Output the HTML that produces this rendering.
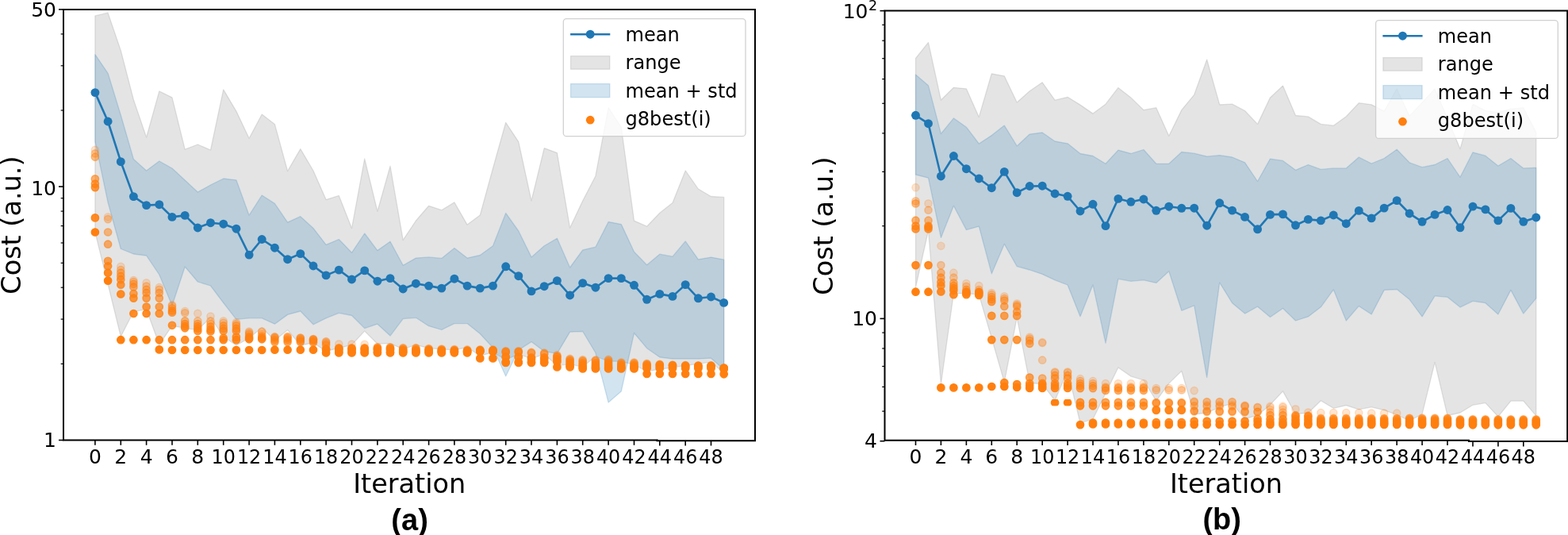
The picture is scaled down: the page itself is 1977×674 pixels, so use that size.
<!DOCTYPE html><html><head><meta charset="utf-8"><style>html,body{margin:0;padding:0;background:#fff;}svg{display:block;}.tk{font-family:"DejaVu Sans",sans-serif;font-size:25px;fill:#000;}.lg{font-family:"DejaVu Sans",sans-serif;font-size:24.1px;fill:#000;}.tks{font-family:"DejaVu Sans",sans-serif;font-size:17.5px;fill:#000;}.lab{font-family:"DejaVu Sans",sans-serif;font-size:33.5px;fill:#000;}.cap{font-family:"Liberation Sans",Arial,sans-serif;font-weight:bold;font-size:38px;fill:#000;}</style></head><body>
<svg width="1977" height="674" viewBox="0 0 1977 674">
<rect width="1977" height="674" fill="#fff"/>
<clipPath id="ca"><rect x="80" y="11.9" width="872" height="542.6"/></clipPath>
<g clip-path="url(#ca)">
<polygon points="119.9,19.9 136.1,16.2 152.3,63.6 168.4,125.6 184.6,173 200.8,114.9 217,122.8 233.2,188.2 249.3,182 265.5,189 281.7,112.8 297.9,140.1 314.1,174.2 330.2,144 346.4,156.4 362.6,215.5 378.8,187.6 395,215 411.1,251.6 427.3,246.4 443.5,287.5 459.7,200 475.9,266.2 492,209.2 508.2,302.3 524.4,278 540.6,259.3 556.8,264.7 572.9,254.9 589.1,283.1 605.3,271 621.5,212 637.7,154.3 653.8,178.6 670,252.8 686.2,186.6 702.4,192.6 718.6,287 734.7,253 750.9,221.7 767.1,135.6 783.3,160 799.5,278.1 815.6,285.2 831.8,268.3 848,255.5 864.2,214.9 880.4,238 896.5,247.5 912.7,248.4 912.7,470 896.5,456.1 880.4,458.4 864.2,460.5 848,463.1 831.8,465.2 815.6,467.8 799.5,459.5 783.3,455.3 767.1,455 750.9,449 734.7,462.3 718.6,458.8 702.4,460.6 686.2,446.3 670,451.6 653.8,446.3 637.7,453 621.5,444 605.3,448.2 589.1,437.5 572.9,441 556.8,439.9 540.6,438.7 524.4,434.5 508.2,439.9 492,432.7 475.9,433.3 459.7,417.1 443.5,434.5 427.3,438.5 411.1,442.4 395,432 378.8,435 362.6,415.7 346.4,429 330.2,412.7 314.1,426 297.9,435 281.7,424 265.5,400 249.3,415.8 233.2,413.4 217,410.4 200.8,434.2 184.6,389.7 168.4,392.6 152.3,424 136.1,358 119.9,292.5" fill="#808080" fill-opacity="0.215" stroke="#808080" stroke-opacity="0.215" stroke-width="1.3" stroke-linejoin="round"/>
<polygon points="119.9,68.6 136.1,92.3 152.3,145 168.4,200.5 184.6,215 200.8,203 217,212 233.2,227 249.3,242 265.5,233 281.7,225 297.9,226.8 314.1,271.2 330.2,246 346.4,256.4 362.6,280.1 378.8,272.7 395,287.5 411.1,308.3 427.3,301.5 443.5,318.3 459.7,294 475.9,315.6 492,304.3 508.2,334.3 524.4,325.1 540.6,323.9 556.8,325.4 572.9,312.6 589.1,325.1 605.3,321.5 621.5,309.7 637.7,268.5 653.8,291 670,323.9 686.2,309.7 702.4,300.2 718.6,337 734.7,315 750.9,311.2 767.1,279.5 783.3,282.6 799.5,317.2 815.6,333.8 831.8,320.2 848,323.2 864.2,303.9 880.4,326.8 896.5,324.1 912.7,327.1 912.7,465.4 896.5,451.2 880.4,452 864.2,452 848,452 831.8,450 815.6,438.7 799.5,419.5 783.3,493 767.1,507 750.9,444.5 734.7,417.5 718.6,418.2 702.4,445.4 686.2,442.7 670,430.6 653.8,441 637.7,474 621.5,438 605.3,420.5 589.1,407.6 572.9,407.6 556.8,415.5 540.6,410.7 524.4,400.3 508.2,401.6 492,423.1 475.9,408.2 459.7,413.6 443.5,397.5 427.3,394.3 411.1,400.8 395,408.8 378.8,392 362.6,396.4 346.4,408.2 330.2,400.8 314.1,400.8 297.9,402.3 281.7,381.5 265.5,360 249.3,355 233.2,336 217,385 200.8,346 184.6,322 168.4,320 152.3,313.5 136.1,255 119.9,178" fill="#1f77b4" fill-opacity="0.2" stroke="#1f77b4" stroke-opacity="0.2" stroke-width="1.3" stroke-linejoin="round"/>
<polyline points="119.9,116.6 136.1,153 152.3,203.7 168.4,247.6 184.6,258.6 200.8,257.7 217,273.4 233.2,271.4 249.3,287 265.5,280.7 281.7,282.2 297.9,288.2 314.1,321.1 330.2,301.5 346.4,312.2 362.6,326.7 378.8,319.6 395,335 411.1,346.9 427.3,340.1 443.5,352 459.7,340.9 475.9,354.2 492,350.6 508.2,364 524.4,357.2 540.6,360.1 556.8,363.1 572.9,351.2 589.1,360.1 605.3,363.1 621.5,360.1 637.7,335.8 653.8,347.7 670,366.9 686.2,360.7 702.4,353.6 718.6,372 734.7,356.6 750.9,362.2 767.1,350.6 783.3,350.6 799.5,359.3 815.6,377.3 831.8,370.4 848,373.4 864.2,358.6 880.4,375.8 896.5,374 912.7,381.4" fill="none" stroke="#1f77b4" stroke-width="2.6" stroke-linejoin="round"/>
<circle cx="119.9" cy="116.6" r="5.45" fill="#1f77b4"/>
<circle cx="136.1" cy="153" r="5.45" fill="#1f77b4"/>
<circle cx="152.3" cy="203.7" r="5.45" fill="#1f77b4"/>
<circle cx="168.4" cy="247.6" r="5.45" fill="#1f77b4"/>
<circle cx="184.6" cy="258.6" r="5.45" fill="#1f77b4"/>
<circle cx="200.8" cy="257.7" r="5.45" fill="#1f77b4"/>
<circle cx="217" cy="273.4" r="5.45" fill="#1f77b4"/>
<circle cx="233.2" cy="271.4" r="5.45" fill="#1f77b4"/>
<circle cx="249.3" cy="287" r="5.45" fill="#1f77b4"/>
<circle cx="265.5" cy="280.7" r="5.45" fill="#1f77b4"/>
<circle cx="281.7" cy="282.2" r="5.45" fill="#1f77b4"/>
<circle cx="297.9" cy="288.2" r="5.45" fill="#1f77b4"/>
<circle cx="314.1" cy="321.1" r="5.45" fill="#1f77b4"/>
<circle cx="330.2" cy="301.5" r="5.45" fill="#1f77b4"/>
<circle cx="346.4" cy="312.2" r="5.45" fill="#1f77b4"/>
<circle cx="362.6" cy="326.7" r="5.45" fill="#1f77b4"/>
<circle cx="378.8" cy="319.6" r="5.45" fill="#1f77b4"/>
<circle cx="395" cy="335" r="5.45" fill="#1f77b4"/>
<circle cx="411.1" cy="346.9" r="5.45" fill="#1f77b4"/>
<circle cx="427.3" cy="340.1" r="5.45" fill="#1f77b4"/>
<circle cx="443.5" cy="352" r="5.45" fill="#1f77b4"/>
<circle cx="459.7" cy="340.9" r="5.45" fill="#1f77b4"/>
<circle cx="475.9" cy="354.2" r="5.45" fill="#1f77b4"/>
<circle cx="492" cy="350.6" r="5.45" fill="#1f77b4"/>
<circle cx="508.2" cy="364" r="5.45" fill="#1f77b4"/>
<circle cx="524.4" cy="357.2" r="5.45" fill="#1f77b4"/>
<circle cx="540.6" cy="360.1" r="5.45" fill="#1f77b4"/>
<circle cx="556.8" cy="363.1" r="5.45" fill="#1f77b4"/>
<circle cx="572.9" cy="351.2" r="5.45" fill="#1f77b4"/>
<circle cx="589.1" cy="360.1" r="5.45" fill="#1f77b4"/>
<circle cx="605.3" cy="363.1" r="5.45" fill="#1f77b4"/>
<circle cx="621.5" cy="360.1" r="5.45" fill="#1f77b4"/>
<circle cx="637.7" cy="335.8" r="5.45" fill="#1f77b4"/>
<circle cx="653.8" cy="347.7" r="5.45" fill="#1f77b4"/>
<circle cx="670" cy="366.9" r="5.45" fill="#1f77b4"/>
<circle cx="686.2" cy="360.7" r="5.45" fill="#1f77b4"/>
<circle cx="702.4" cy="353.6" r="5.45" fill="#1f77b4"/>
<circle cx="718.6" cy="372" r="5.45" fill="#1f77b4"/>
<circle cx="734.7" cy="356.6" r="5.45" fill="#1f77b4"/>
<circle cx="750.9" cy="362.2" r="5.45" fill="#1f77b4"/>
<circle cx="767.1" cy="350.6" r="5.45" fill="#1f77b4"/>
<circle cx="783.3" cy="350.6" r="5.45" fill="#1f77b4"/>
<circle cx="799.5" cy="359.3" r="5.45" fill="#1f77b4"/>
<circle cx="815.6" cy="377.3" r="5.45" fill="#1f77b4"/>
<circle cx="831.8" cy="370.4" r="5.45" fill="#1f77b4"/>
<circle cx="848" cy="373.4" r="5.45" fill="#1f77b4"/>
<circle cx="864.2" cy="358.6" r="5.45" fill="#1f77b4"/>
<circle cx="880.4" cy="375.8" r="5.45" fill="#1f77b4"/>
<circle cx="896.5" cy="374" r="5.45" fill="#1f77b4"/>
<circle cx="912.7" cy="381.4" r="5.45" fill="#1f77b4"/>
<circle cx="119.9" cy="188.9" r="4.6499999999999995" fill="#ff7f0e" fill-opacity="0.2" stroke="#ff7f0e" stroke-opacity="0.2" stroke-width="1.4"/>
<circle cx="119.9" cy="193.4" r="4.6499999999999995" fill="#ff7f0e" fill-opacity="0.35" stroke="#ff7f0e" stroke-opacity="0.35" stroke-width="1.4"/>
<circle cx="119.9" cy="197.8" r="4.6499999999999995" fill="#ff7f0e" fill-opacity="0.5" stroke="#ff7f0e" stroke-opacity="0.5" stroke-width="1.4"/>
<circle cx="119.9" cy="225.4" r="4.6499999999999995" fill="#ff7f0e" fill-opacity="0.6" stroke="#ff7f0e" stroke-opacity="0.6" stroke-width="1.4"/>
<circle cx="119.9" cy="231.6" r="4.6499999999999995" fill="#ff7f0e" fill-opacity="0.7" stroke="#ff7f0e" stroke-opacity="0.7" stroke-width="1.4"/>
<circle cx="119.9" cy="236.1" r="4.6499999999999995" fill="#ff7f0e" fill-opacity="0.8" stroke="#ff7f0e" stroke-opacity="0.8" stroke-width="1.4"/>
<circle cx="119.9" cy="274.4" r="4.6499999999999995" fill="#ff7f0e" fill-opacity="0.9" stroke="#ff7f0e" stroke-opacity="0.9" stroke-width="1.4"/>
<circle cx="119.9" cy="292.5" r="4.6499999999999995" fill="#ff7f0e" fill-opacity="1.0" stroke="#ff7f0e" stroke-opacity="1.0" stroke-width="1.4"/>
<circle cx="136.1" cy="273.3" r="4.6499999999999995" fill="#ff7f0e" fill-opacity="0.2" stroke="#ff7f0e" stroke-opacity="0.2" stroke-width="1.4"/>
<circle cx="136.1" cy="276.1" r="4.6499999999999995" fill="#ff7f0e" fill-opacity="0.35" stroke="#ff7f0e" stroke-opacity="0.35" stroke-width="1.4"/>
<circle cx="136.1" cy="292.5" r="4.6499999999999995" fill="#ff7f0e" fill-opacity="0.5" stroke="#ff7f0e" stroke-opacity="0.5" stroke-width="1.4"/>
<circle cx="136.1" cy="307.7" r="4.6499999999999995" fill="#ff7f0e" fill-opacity="0.6" stroke="#ff7f0e" stroke-opacity="0.6" stroke-width="1.4"/>
<circle cx="136.1" cy="328.8" r="4.6499999999999995" fill="#ff7f0e" fill-opacity="0.7" stroke="#ff7f0e" stroke-opacity="0.7" stroke-width="1.4"/>
<circle cx="136.1" cy="335.3" r="4.6499999999999995" fill="#ff7f0e" fill-opacity="0.8" stroke="#ff7f0e" stroke-opacity="0.8" stroke-width="1.4"/>
<circle cx="136.1" cy="343.7" r="4.6499999999999995" fill="#ff7f0e" fill-opacity="0.9" stroke="#ff7f0e" stroke-opacity="0.9" stroke-width="1.4"/>
<circle cx="136.1" cy="353.6" r="4.6499999999999995" fill="#ff7f0e" fill-opacity="1.0" stroke="#ff7f0e" stroke-opacity="1.0" stroke-width="1.4"/>
<circle cx="152.3" cy="335.8" r="4.6499999999999995" fill="#ff7f0e" fill-opacity="0.2" stroke="#ff7f0e" stroke-opacity="0.2" stroke-width="1.4"/>
<circle cx="152.3" cy="340" r="4.6499999999999995" fill="#ff7f0e" fill-opacity="0.35" stroke="#ff7f0e" stroke-opacity="0.35" stroke-width="1.4"/>
<circle cx="152.3" cy="343.7" r="4.6499999999999995" fill="#ff7f0e" fill-opacity="0.5" stroke="#ff7f0e" stroke-opacity="0.5" stroke-width="1.4"/>
<circle cx="152.3" cy="348" r="4.6499999999999995" fill="#ff7f0e" fill-opacity="0.6" stroke="#ff7f0e" stroke-opacity="0.6" stroke-width="1.4"/>
<circle cx="152.3" cy="352.2" r="4.6499999999999995" fill="#ff7f0e" fill-opacity="0.7" stroke="#ff7f0e" stroke-opacity="0.7" stroke-width="1.4"/>
<circle cx="152.3" cy="358.7" r="4.6499999999999995" fill="#ff7f0e" fill-opacity="0.8" stroke="#ff7f0e" stroke-opacity="0.8" stroke-width="1.4"/>
<circle cx="152.3" cy="370.5" r="4.6499999999999995" fill="#ff7f0e" fill-opacity="0.9" stroke="#ff7f0e" stroke-opacity="0.9" stroke-width="1.4"/>
<circle cx="152.3" cy="428.2" r="4.6499999999999995" fill="#ff7f0e" fill-opacity="1.0" stroke="#ff7f0e" stroke-opacity="1.0" stroke-width="1.4"/>
<circle cx="168.4" cy="353" r="4.6499999999999995" fill="#ff7f0e" fill-opacity="0.2" stroke="#ff7f0e" stroke-opacity="0.2" stroke-width="1.4"/>
<circle cx="168.4" cy="355" r="4.6499999999999995" fill="#ff7f0e" fill-opacity="0.35" stroke="#ff7f0e" stroke-opacity="0.35" stroke-width="1.4"/>
<circle cx="168.4" cy="357.8" r="4.6499999999999995" fill="#ff7f0e" fill-opacity="0.5" stroke="#ff7f0e" stroke-opacity="0.5" stroke-width="1.4"/>
<circle cx="168.4" cy="361.5" r="4.6499999999999995" fill="#ff7f0e" fill-opacity="0.6" stroke="#ff7f0e" stroke-opacity="0.6" stroke-width="1.4"/>
<circle cx="168.4" cy="370" r="4.6499999999999995" fill="#ff7f0e" fill-opacity="0.7" stroke="#ff7f0e" stroke-opacity="0.7" stroke-width="1.4"/>
<circle cx="168.4" cy="375.6" r="4.6499999999999995" fill="#ff7f0e" fill-opacity="0.8" stroke="#ff7f0e" stroke-opacity="0.8" stroke-width="1.4"/>
<circle cx="168.4" cy="395" r="4.6499999999999995" fill="#ff7f0e" fill-opacity="0.9" stroke="#ff7f0e" stroke-opacity="0.9" stroke-width="1.4"/>
<circle cx="168.4" cy="428.2" r="4.6499999999999995" fill="#ff7f0e" fill-opacity="1.0" stroke="#ff7f0e" stroke-opacity="1.0" stroke-width="1.4"/>
<circle cx="184.6" cy="356.4" r="4.6499999999999995" fill="#ff7f0e" fill-opacity="0.2" stroke="#ff7f0e" stroke-opacity="0.2" stroke-width="1.4"/>
<circle cx="184.6" cy="360.6" r="4.6499999999999995" fill="#ff7f0e" fill-opacity="0.35" stroke="#ff7f0e" stroke-opacity="0.35" stroke-width="1.4"/>
<circle cx="184.6" cy="364.9" r="4.6499999999999995" fill="#ff7f0e" fill-opacity="0.5" stroke="#ff7f0e" stroke-opacity="0.5" stroke-width="1.4"/>
<circle cx="184.6" cy="369" r="4.6499999999999995" fill="#ff7f0e" fill-opacity="0.6" stroke="#ff7f0e" stroke-opacity="0.6" stroke-width="1.4"/>
<circle cx="184.6" cy="375.6" r="4.6499999999999995" fill="#ff7f0e" fill-opacity="0.7" stroke="#ff7f0e" stroke-opacity="0.7" stroke-width="1.4"/>
<circle cx="184.6" cy="386.5" r="4.6499999999999995" fill="#ff7f0e" fill-opacity="0.8" stroke="#ff7f0e" stroke-opacity="0.8" stroke-width="1.4"/>
<circle cx="184.6" cy="395" r="4.6499999999999995" fill="#ff7f0e" fill-opacity="0.9" stroke="#ff7f0e" stroke-opacity="0.9" stroke-width="1.4"/>
<circle cx="184.6" cy="428.2" r="4.6499999999999995" fill="#ff7f0e" fill-opacity="1.0" stroke="#ff7f0e" stroke-opacity="1.0" stroke-width="1.4"/>
<circle cx="200.8" cy="362" r="4.6499999999999995" fill="#ff7f0e" fill-opacity="0.2" stroke="#ff7f0e" stroke-opacity="0.2" stroke-width="1.4"/>
<circle cx="200.8" cy="364.9" r="4.6499999999999995" fill="#ff7f0e" fill-opacity="0.35" stroke="#ff7f0e" stroke-opacity="0.35" stroke-width="1.4"/>
<circle cx="200.8" cy="369" r="4.6499999999999995" fill="#ff7f0e" fill-opacity="0.5" stroke="#ff7f0e" stroke-opacity="0.5" stroke-width="1.4"/>
<circle cx="200.8" cy="375.6" r="4.6499999999999995" fill="#ff7f0e" fill-opacity="0.6" stroke="#ff7f0e" stroke-opacity="0.6" stroke-width="1.4"/>
<circle cx="200.8" cy="386.5" r="4.6499999999999995" fill="#ff7f0e" fill-opacity="0.7" stroke="#ff7f0e" stroke-opacity="0.7" stroke-width="1.4"/>
<circle cx="200.8" cy="395" r="4.6499999999999995" fill="#ff7f0e" fill-opacity="0.8" stroke="#ff7f0e" stroke-opacity="0.8" stroke-width="1.4"/>
<circle cx="200.8" cy="428.2" r="4.6499999999999995" fill="#ff7f0e" fill-opacity="0.9" stroke="#ff7f0e" stroke-opacity="0.9" stroke-width="1.4"/>
<circle cx="200.8" cy="440.4" r="4.6499999999999995" fill="#ff7f0e" fill-opacity="1.0" stroke="#ff7f0e" stroke-opacity="1.0" stroke-width="1.4"/>
<circle cx="217" cy="384" r="4.6499999999999995" fill="#ff7f0e" fill-opacity="0.2" stroke="#ff7f0e" stroke-opacity="0.2" stroke-width="1.4"/>
<circle cx="217" cy="385.4" r="4.6499999999999995" fill="#ff7f0e" fill-opacity="0.35" stroke="#ff7f0e" stroke-opacity="0.35" stroke-width="1.4"/>
<circle cx="217" cy="388.4" r="4.6499999999999995" fill="#ff7f0e" fill-opacity="0.5" stroke="#ff7f0e" stroke-opacity="0.5" stroke-width="1.4"/>
<circle cx="217" cy="391.4" r="4.6499999999999995" fill="#ff7f0e" fill-opacity="0.6" stroke="#ff7f0e" stroke-opacity="0.6" stroke-width="1.4"/>
<circle cx="217" cy="393.7" r="4.6499999999999995" fill="#ff7f0e" fill-opacity="0.7" stroke="#ff7f0e" stroke-opacity="0.7" stroke-width="1.4"/>
<circle cx="217" cy="409.8" r="4.6499999999999995" fill="#ff7f0e" fill-opacity="0.8" stroke="#ff7f0e" stroke-opacity="0.8" stroke-width="1.4"/>
<circle cx="217" cy="428.2" r="4.6499999999999995" fill="#ff7f0e" fill-opacity="0.9" stroke="#ff7f0e" stroke-opacity="0.9" stroke-width="1.4"/>
<circle cx="217" cy="441" r="4.6499999999999995" fill="#ff7f0e" fill-opacity="1.0" stroke="#ff7f0e" stroke-opacity="1.0" stroke-width="1.4"/>
<circle cx="233.2" cy="392" r="4.6499999999999995" fill="#ff7f0e" fill-opacity="0.2" stroke="#ff7f0e" stroke-opacity="0.2" stroke-width="1.4"/>
<circle cx="233.2" cy="394.3" r="4.6499999999999995" fill="#ff7f0e" fill-opacity="0.35" stroke="#ff7f0e" stroke-opacity="0.35" stroke-width="1.4"/>
<circle cx="233.2" cy="404.4" r="4.6499999999999995" fill="#ff7f0e" fill-opacity="0.5" stroke="#ff7f0e" stroke-opacity="0.5" stroke-width="1.4"/>
<circle cx="233.2" cy="408" r="4.6499999999999995" fill="#ff7f0e" fill-opacity="0.6" stroke="#ff7f0e" stroke-opacity="0.6" stroke-width="1.4"/>
<circle cx="233.2" cy="411" r="4.6499999999999995" fill="#ff7f0e" fill-opacity="0.7" stroke="#ff7f0e" stroke-opacity="0.7" stroke-width="1.4"/>
<circle cx="233.2" cy="413.3" r="4.6499999999999995" fill="#ff7f0e" fill-opacity="0.8" stroke="#ff7f0e" stroke-opacity="0.8" stroke-width="1.4"/>
<circle cx="233.2" cy="428.2" r="4.6499999999999995" fill="#ff7f0e" fill-opacity="0.9" stroke="#ff7f0e" stroke-opacity="0.9" stroke-width="1.4"/>
<circle cx="233.2" cy="441" r="4.6499999999999995" fill="#ff7f0e" fill-opacity="1.0" stroke="#ff7f0e" stroke-opacity="1.0" stroke-width="1.4"/>
<circle cx="249.3" cy="394.9" r="4.6499999999999995" fill="#ff7f0e" fill-opacity="0.2" stroke="#ff7f0e" stroke-opacity="0.2" stroke-width="1.4"/>
<circle cx="249.3" cy="404.4" r="4.6499999999999995" fill="#ff7f0e" fill-opacity="0.35" stroke="#ff7f0e" stroke-opacity="0.35" stroke-width="1.4"/>
<circle cx="249.3" cy="408" r="4.6499999999999995" fill="#ff7f0e" fill-opacity="0.5" stroke="#ff7f0e" stroke-opacity="0.5" stroke-width="1.4"/>
<circle cx="249.3" cy="411" r="4.6499999999999995" fill="#ff7f0e" fill-opacity="0.6" stroke="#ff7f0e" stroke-opacity="0.6" stroke-width="1.4"/>
<circle cx="249.3" cy="413.9" r="4.6499999999999995" fill="#ff7f0e" fill-opacity="0.7" stroke="#ff7f0e" stroke-opacity="0.7" stroke-width="1.4"/>
<circle cx="249.3" cy="416.9" r="4.6499999999999995" fill="#ff7f0e" fill-opacity="0.8" stroke="#ff7f0e" stroke-opacity="0.8" stroke-width="1.4"/>
<circle cx="249.3" cy="428.2" r="4.6499999999999995" fill="#ff7f0e" fill-opacity="0.9" stroke="#ff7f0e" stroke-opacity="0.9" stroke-width="1.4"/>
<circle cx="249.3" cy="441" r="4.6499999999999995" fill="#ff7f0e" fill-opacity="1.0" stroke="#ff7f0e" stroke-opacity="1.0" stroke-width="1.4"/>
<circle cx="265.5" cy="398.5" r="4.6499999999999995" fill="#ff7f0e" fill-opacity="0.2" stroke="#ff7f0e" stroke-opacity="0.2" stroke-width="1.4"/>
<circle cx="265.5" cy="404.4" r="4.6499999999999995" fill="#ff7f0e" fill-opacity="0.35" stroke="#ff7f0e" stroke-opacity="0.35" stroke-width="1.4"/>
<circle cx="265.5" cy="408" r="4.6499999999999995" fill="#ff7f0e" fill-opacity="0.5" stroke="#ff7f0e" stroke-opacity="0.5" stroke-width="1.4"/>
<circle cx="265.5" cy="411.5" r="4.6499999999999995" fill="#ff7f0e" fill-opacity="0.6" stroke="#ff7f0e" stroke-opacity="0.6" stroke-width="1.4"/>
<circle cx="265.5" cy="415.1" r="4.6499999999999995" fill="#ff7f0e" fill-opacity="0.7" stroke="#ff7f0e" stroke-opacity="0.7" stroke-width="1.4"/>
<circle cx="265.5" cy="417.5" r="4.6499999999999995" fill="#ff7f0e" fill-opacity="0.8" stroke="#ff7f0e" stroke-opacity="0.8" stroke-width="1.4"/>
<circle cx="265.5" cy="428.2" r="4.6499999999999995" fill="#ff7f0e" fill-opacity="0.9" stroke="#ff7f0e" stroke-opacity="0.9" stroke-width="1.4"/>
<circle cx="265.5" cy="441" r="4.6499999999999995" fill="#ff7f0e" fill-opacity="1.0" stroke="#ff7f0e" stroke-opacity="1.0" stroke-width="1.4"/>
<circle cx="281.7" cy="404.4" r="4.6499999999999995" fill="#ff7f0e" fill-opacity="0.2" stroke="#ff7f0e" stroke-opacity="0.2" stroke-width="1.4"/>
<circle cx="281.7" cy="406.8" r="4.6499999999999995" fill="#ff7f0e" fill-opacity="0.35" stroke="#ff7f0e" stroke-opacity="0.35" stroke-width="1.4"/>
<circle cx="281.7" cy="410.4" r="4.6499999999999995" fill="#ff7f0e" fill-opacity="0.5" stroke="#ff7f0e" stroke-opacity="0.5" stroke-width="1.4"/>
<circle cx="281.7" cy="413.9" r="4.6499999999999995" fill="#ff7f0e" fill-opacity="0.6" stroke="#ff7f0e" stroke-opacity="0.6" stroke-width="1.4"/>
<circle cx="281.7" cy="416.9" r="4.6499999999999995" fill="#ff7f0e" fill-opacity="0.7" stroke="#ff7f0e" stroke-opacity="0.7" stroke-width="1.4"/>
<circle cx="281.7" cy="425.8" r="4.6499999999999995" fill="#ff7f0e" fill-opacity="0.8" stroke="#ff7f0e" stroke-opacity="0.8" stroke-width="1.4"/>
<circle cx="281.7" cy="428.2" r="4.6499999999999995" fill="#ff7f0e" fill-opacity="0.9" stroke="#ff7f0e" stroke-opacity="0.9" stroke-width="1.4"/>
<circle cx="281.7" cy="441" r="4.6499999999999995" fill="#ff7f0e" fill-opacity="1.0" stroke="#ff7f0e" stroke-opacity="1.0" stroke-width="1.4"/>
<circle cx="297.9" cy="406" r="4.6499999999999995" fill="#ff7f0e" fill-opacity="0.2" stroke="#ff7f0e" stroke-opacity="0.2" stroke-width="1.4"/>
<circle cx="297.9" cy="408" r="4.6499999999999995" fill="#ff7f0e" fill-opacity="0.35" stroke="#ff7f0e" stroke-opacity="0.35" stroke-width="1.4"/>
<circle cx="297.9" cy="410.4" r="4.6499999999999995" fill="#ff7f0e" fill-opacity="0.5" stroke="#ff7f0e" stroke-opacity="0.5" stroke-width="1.4"/>
<circle cx="297.9" cy="413.9" r="4.6499999999999995" fill="#ff7f0e" fill-opacity="0.6" stroke="#ff7f0e" stroke-opacity="0.6" stroke-width="1.4"/>
<circle cx="297.9" cy="416.9" r="4.6499999999999995" fill="#ff7f0e" fill-opacity="0.7" stroke="#ff7f0e" stroke-opacity="0.7" stroke-width="1.4"/>
<circle cx="297.9" cy="424.6" r="4.6499999999999995" fill="#ff7f0e" fill-opacity="0.8" stroke="#ff7f0e" stroke-opacity="0.8" stroke-width="1.4"/>
<circle cx="297.9" cy="428.2" r="4.6499999999999995" fill="#ff7f0e" fill-opacity="0.9" stroke="#ff7f0e" stroke-opacity="0.9" stroke-width="1.4"/>
<circle cx="297.9" cy="441" r="4.6499999999999995" fill="#ff7f0e" fill-opacity="1.0" stroke="#ff7f0e" stroke-opacity="1.0" stroke-width="1.4"/>
<circle cx="314.1" cy="417.5" r="4.6499999999999995" fill="#ff7f0e" fill-opacity="0.2" stroke="#ff7f0e" stroke-opacity="0.2" stroke-width="1.4"/>
<circle cx="314.1" cy="418.5" r="4.6499999999999995" fill="#ff7f0e" fill-opacity="0.25" stroke="#ff7f0e" stroke-opacity="0.25" stroke-width="1.4"/>
<circle cx="314.1" cy="420" r="4.6499999999999995" fill="#ff7f0e" fill-opacity="0.3" stroke="#ff7f0e" stroke-opacity="0.3" stroke-width="1.4"/>
<circle cx="314.1" cy="421.5" r="4.6499999999999995" fill="#ff7f0e" fill-opacity="0.35" stroke="#ff7f0e" stroke-opacity="0.35" stroke-width="1.4"/>
<circle cx="314.1" cy="424" r="4.6499999999999995" fill="#ff7f0e" fill-opacity="0.5" stroke="#ff7f0e" stroke-opacity="0.5" stroke-width="1.4"/>
<circle cx="314.1" cy="425.5" r="4.6499999999999995" fill="#ff7f0e" fill-opacity="0.7" stroke="#ff7f0e" stroke-opacity="0.7" stroke-width="1.4"/>
<circle cx="314.1" cy="427.3" r="4.6499999999999995" fill="#ff7f0e" fill-opacity="0.9" stroke="#ff7f0e" stroke-opacity="0.9" stroke-width="1.4"/>
<circle cx="314.1" cy="441" r="4.6499999999999995" fill="#ff7f0e" fill-opacity="1" stroke="#ff7f0e" stroke-opacity="1" stroke-width="1.4"/>
<circle cx="330.2" cy="417.5" r="4.6499999999999995" fill="#ff7f0e" fill-opacity="0.15" stroke="#ff7f0e" stroke-opacity="0.15" stroke-width="1.4"/>
<circle cx="330.2" cy="417.5" r="4.6499999999999995" fill="#ff7f0e" fill-opacity="0.2" stroke="#ff7f0e" stroke-opacity="0.2" stroke-width="1.4"/>
<circle cx="330.2" cy="419" r="4.6499999999999995" fill="#ff7f0e" fill-opacity="0.25" stroke="#ff7f0e" stroke-opacity="0.25" stroke-width="1.4"/>
<circle cx="330.2" cy="421" r="4.6499999999999995" fill="#ff7f0e" fill-opacity="0.3" stroke="#ff7f0e" stroke-opacity="0.3" stroke-width="1.4"/>
<circle cx="330.2" cy="423.5" r="4.6499999999999995" fill="#ff7f0e" fill-opacity="0.45" stroke="#ff7f0e" stroke-opacity="0.45" stroke-width="1.4"/>
<circle cx="330.2" cy="425.5" r="4.6499999999999995" fill="#ff7f0e" fill-opacity="0.7" stroke="#ff7f0e" stroke-opacity="0.7" stroke-width="1.4"/>
<circle cx="330.2" cy="427.3" r="4.6499999999999995" fill="#ff7f0e" fill-opacity="0.85" stroke="#ff7f0e" stroke-opacity="0.85" stroke-width="1.4"/>
<circle cx="330.2" cy="441" r="4.6499999999999995" fill="#ff7f0e" fill-opacity="1" stroke="#ff7f0e" stroke-opacity="1" stroke-width="1.4"/>
<circle cx="346.4" cy="424.2" r="4.6499999999999995" fill="#ff7f0e" fill-opacity="0.2" stroke="#ff7f0e" stroke-opacity="0.2" stroke-width="1.4"/>
<circle cx="346.4" cy="424.5" r="4.6499999999999995" fill="#ff7f0e" fill-opacity="0.25" stroke="#ff7f0e" stroke-opacity="0.25" stroke-width="1.4"/>
<circle cx="346.4" cy="425" r="4.6499999999999995" fill="#ff7f0e" fill-opacity="0.3" stroke="#ff7f0e" stroke-opacity="0.3" stroke-width="1.4"/>
<circle cx="346.4" cy="426" r="4.6499999999999995" fill="#ff7f0e" fill-opacity="0.35" stroke="#ff7f0e" stroke-opacity="0.35" stroke-width="1.4"/>
<circle cx="346.4" cy="427.5" r="4.6499999999999995" fill="#ff7f0e" fill-opacity="0.4" stroke="#ff7f0e" stroke-opacity="0.4" stroke-width="1.4"/>
<circle cx="346.4" cy="429" r="4.6499999999999995" fill="#ff7f0e" fill-opacity="0.45" stroke="#ff7f0e" stroke-opacity="0.45" stroke-width="1.4"/>
<circle cx="346.4" cy="431" r="4.6499999999999995" fill="#ff7f0e" fill-opacity="0.6" stroke="#ff7f0e" stroke-opacity="0.6" stroke-width="1.4"/>
<circle cx="346.4" cy="440.7" r="4.6499999999999995" fill="#ff7f0e" fill-opacity="1" stroke="#ff7f0e" stroke-opacity="1" stroke-width="1.4"/>
<circle cx="362.6" cy="424.2" r="4.6499999999999995" fill="#ff7f0e" fill-opacity="0.2" stroke="#ff7f0e" stroke-opacity="0.2" stroke-width="1.4"/>
<circle cx="362.6" cy="424" r="4.6499999999999995" fill="#ff7f0e" fill-opacity="0.25" stroke="#ff7f0e" stroke-opacity="0.25" stroke-width="1.4"/>
<circle cx="362.6" cy="425" r="4.6499999999999995" fill="#ff7f0e" fill-opacity="0.3" stroke="#ff7f0e" stroke-opacity="0.3" stroke-width="1.4"/>
<circle cx="362.6" cy="426" r="4.6499999999999995" fill="#ff7f0e" fill-opacity="0.35" stroke="#ff7f0e" stroke-opacity="0.35" stroke-width="1.4"/>
<circle cx="362.6" cy="427.5" r="4.6499999999999995" fill="#ff7f0e" fill-opacity="0.4" stroke="#ff7f0e" stroke-opacity="0.4" stroke-width="1.4"/>
<circle cx="362.6" cy="429" r="4.6499999999999995" fill="#ff7f0e" fill-opacity="0.45" stroke="#ff7f0e" stroke-opacity="0.45" stroke-width="1.4"/>
<circle cx="362.6" cy="431" r="4.6499999999999995" fill="#ff7f0e" fill-opacity="0.6" stroke="#ff7f0e" stroke-opacity="0.6" stroke-width="1.4"/>
<circle cx="362.6" cy="440.7" r="4.6499999999999995" fill="#ff7f0e" fill-opacity="1" stroke="#ff7f0e" stroke-opacity="1" stroke-width="1.4"/>
<circle cx="378.8" cy="425.5" r="4.6499999999999995" fill="#ff7f0e" fill-opacity="0.2" stroke="#ff7f0e" stroke-opacity="0.2" stroke-width="1.4"/>
<circle cx="378.8" cy="425.5" r="4.6499999999999995" fill="#ff7f0e" fill-opacity="0.25" stroke="#ff7f0e" stroke-opacity="0.25" stroke-width="1.4"/>
<circle cx="378.8" cy="426" r="4.6499999999999995" fill="#ff7f0e" fill-opacity="0.3" stroke="#ff7f0e" stroke-opacity="0.3" stroke-width="1.4"/>
<circle cx="378.8" cy="427" r="4.6499999999999995" fill="#ff7f0e" fill-opacity="0.35" stroke="#ff7f0e" stroke-opacity="0.35" stroke-width="1.4"/>
<circle cx="378.8" cy="428" r="4.6499999999999995" fill="#ff7f0e" fill-opacity="0.4" stroke="#ff7f0e" stroke-opacity="0.4" stroke-width="1.4"/>
<circle cx="378.8" cy="429.5" r="4.6499999999999995" fill="#ff7f0e" fill-opacity="0.45" stroke="#ff7f0e" stroke-opacity="0.45" stroke-width="1.4"/>
<circle cx="378.8" cy="431" r="4.6499999999999995" fill="#ff7f0e" fill-opacity="0.6" stroke="#ff7f0e" stroke-opacity="0.6" stroke-width="1.4"/>
<circle cx="378.8" cy="440.7" r="4.6499999999999995" fill="#ff7f0e" fill-opacity="1" stroke="#ff7f0e" stroke-opacity="1" stroke-width="1.4"/>
<circle cx="395" cy="427.4" r="4.6499999999999995" fill="#ff7f0e" fill-opacity="0.2" stroke="#ff7f0e" stroke-opacity="0.2" stroke-width="1.4"/>
<circle cx="395" cy="427" r="4.6499999999999995" fill="#ff7f0e" fill-opacity="0.25" stroke="#ff7f0e" stroke-opacity="0.25" stroke-width="1.4"/>
<circle cx="395" cy="427.5" r="4.6499999999999995" fill="#ff7f0e" fill-opacity="0.3" stroke="#ff7f0e" stroke-opacity="0.3" stroke-width="1.4"/>
<circle cx="395" cy="428" r="4.6499999999999995" fill="#ff7f0e" fill-opacity="0.35" stroke="#ff7f0e" stroke-opacity="0.35" stroke-width="1.4"/>
<circle cx="395" cy="429" r="4.6499999999999995" fill="#ff7f0e" fill-opacity="0.4" stroke="#ff7f0e" stroke-opacity="0.4" stroke-width="1.4"/>
<circle cx="395" cy="430" r="4.6499999999999995" fill="#ff7f0e" fill-opacity="0.45" stroke="#ff7f0e" stroke-opacity="0.45" stroke-width="1.4"/>
<circle cx="395" cy="431.5" r="4.6499999999999995" fill="#ff7f0e" fill-opacity="0.6" stroke="#ff7f0e" stroke-opacity="0.6" stroke-width="1.4"/>
<circle cx="395" cy="440.7" r="4.6499999999999995" fill="#ff7f0e" fill-opacity="1" stroke="#ff7f0e" stroke-opacity="1" stroke-width="1.4"/>
<circle cx="411.1" cy="430" r="4.6499999999999995" fill="#ff7f0e" fill-opacity="0.2" stroke="#ff7f0e" stroke-opacity="0.2" stroke-width="1.4"/>
<circle cx="411.1" cy="430.5" r="4.6499999999999995" fill="#ff7f0e" fill-opacity="0.25" stroke="#ff7f0e" stroke-opacity="0.25" stroke-width="1.4"/>
<circle cx="411.1" cy="431.5" r="4.6499999999999995" fill="#ff7f0e" fill-opacity="0.3" stroke="#ff7f0e" stroke-opacity="0.3" stroke-width="1.4"/>
<circle cx="411.1" cy="433" r="4.6499999999999995" fill="#ff7f0e" fill-opacity="0.4" stroke="#ff7f0e" stroke-opacity="0.4" stroke-width="1.4"/>
<circle cx="411.1" cy="435" r="4.6499999999999995" fill="#ff7f0e" fill-opacity="0.5" stroke="#ff7f0e" stroke-opacity="0.5" stroke-width="1.4"/>
<circle cx="411.1" cy="439.5" r="4.6499999999999995" fill="#ff7f0e" fill-opacity="0.8" stroke="#ff7f0e" stroke-opacity="0.8" stroke-width="1.4"/>
<circle cx="411.1" cy="441" r="4.6499999999999995" fill="#ff7f0e" fill-opacity="0.9" stroke="#ff7f0e" stroke-opacity="0.9" stroke-width="1.4"/>
<circle cx="411.1" cy="444.5" r="4.6499999999999995" fill="#ff7f0e" fill-opacity="1" stroke="#ff7f0e" stroke-opacity="1" stroke-width="1.4"/>
<circle cx="427.3" cy="433.4" r="4.6499999999999995" fill="#ff7f0e" fill-opacity="0.2" stroke="#ff7f0e" stroke-opacity="0.2" stroke-width="1.4"/>
<circle cx="427.3" cy="438.3" r="4.6499999999999995" fill="#ff7f0e" fill-opacity="0.35" stroke="#ff7f0e" stroke-opacity="0.35" stroke-width="1.4"/>
<circle cx="427.3" cy="438.5" r="4.6499999999999995" fill="#ff7f0e" fill-opacity="0.5" stroke="#ff7f0e" stroke-opacity="0.5" stroke-width="1.4"/>
<circle cx="427.3" cy="439" r="4.6499999999999995" fill="#ff7f0e" fill-opacity="0.6" stroke="#ff7f0e" stroke-opacity="0.6" stroke-width="1.4"/>
<circle cx="427.3" cy="440" r="4.6499999999999995" fill="#ff7f0e" fill-opacity="0.7" stroke="#ff7f0e" stroke-opacity="0.7" stroke-width="1.4"/>
<circle cx="427.3" cy="441" r="4.6499999999999995" fill="#ff7f0e" fill-opacity="0.8" stroke="#ff7f0e" stroke-opacity="0.8" stroke-width="1.4"/>
<circle cx="427.3" cy="443.5" r="4.6499999999999995" fill="#ff7f0e" fill-opacity="0.9" stroke="#ff7f0e" stroke-opacity="0.9" stroke-width="1.4"/>
<circle cx="427.3" cy="444.5" r="4.6499999999999995" fill="#ff7f0e" fill-opacity="1.0" stroke="#ff7f0e" stroke-opacity="1.0" stroke-width="1.4"/>
<circle cx="443.5" cy="433.6" r="4.6499999999999995" fill="#ff7f0e" fill-opacity="0.2" stroke="#ff7f0e" stroke-opacity="0.2" stroke-width="1.4"/>
<circle cx="443.5" cy="438.3" r="4.6499999999999995" fill="#ff7f0e" fill-opacity="0.35" stroke="#ff7f0e" stroke-opacity="0.35" stroke-width="1.4"/>
<circle cx="443.5" cy="438.5" r="4.6499999999999995" fill="#ff7f0e" fill-opacity="0.5" stroke="#ff7f0e" stroke-opacity="0.5" stroke-width="1.4"/>
<circle cx="443.5" cy="439" r="4.6499999999999995" fill="#ff7f0e" fill-opacity="0.6" stroke="#ff7f0e" stroke-opacity="0.6" stroke-width="1.4"/>
<circle cx="443.5" cy="440" r="4.6499999999999995" fill="#ff7f0e" fill-opacity="0.7" stroke="#ff7f0e" stroke-opacity="0.7" stroke-width="1.4"/>
<circle cx="443.5" cy="441" r="4.6499999999999995" fill="#ff7f0e" fill-opacity="0.8" stroke="#ff7f0e" stroke-opacity="0.8" stroke-width="1.4"/>
<circle cx="443.5" cy="443.5" r="4.6499999999999995" fill="#ff7f0e" fill-opacity="0.9" stroke="#ff7f0e" stroke-opacity="0.9" stroke-width="1.4"/>
<circle cx="443.5" cy="444.5" r="4.6499999999999995" fill="#ff7f0e" fill-opacity="1.0" stroke="#ff7f0e" stroke-opacity="1.0" stroke-width="1.4"/>
<circle cx="459.7" cy="433.8" r="4.6499999999999995" fill="#ff7f0e" fill-opacity="0.2" stroke="#ff7f0e" stroke-opacity="0.2" stroke-width="1.4"/>
<circle cx="459.7" cy="438.3" r="4.6499999999999995" fill="#ff7f0e" fill-opacity="0.35" stroke="#ff7f0e" stroke-opacity="0.35" stroke-width="1.4"/>
<circle cx="459.7" cy="438.5" r="4.6499999999999995" fill="#ff7f0e" fill-opacity="0.5" stroke="#ff7f0e" stroke-opacity="0.5" stroke-width="1.4"/>
<circle cx="459.7" cy="439" r="4.6499999999999995" fill="#ff7f0e" fill-opacity="0.6" stroke="#ff7f0e" stroke-opacity="0.6" stroke-width="1.4"/>
<circle cx="459.7" cy="440" r="4.6499999999999995" fill="#ff7f0e" fill-opacity="0.7" stroke="#ff7f0e" stroke-opacity="0.7" stroke-width="1.4"/>
<circle cx="459.7" cy="441" r="4.6499999999999995" fill="#ff7f0e" fill-opacity="0.8" stroke="#ff7f0e" stroke-opacity="0.8" stroke-width="1.4"/>
<circle cx="459.7" cy="443.5" r="4.6499999999999995" fill="#ff7f0e" fill-opacity="0.9" stroke="#ff7f0e" stroke-opacity="0.9" stroke-width="1.4"/>
<circle cx="459.7" cy="444.5" r="4.6499999999999995" fill="#ff7f0e" fill-opacity="1.0" stroke="#ff7f0e" stroke-opacity="1.0" stroke-width="1.4"/>
<circle cx="475.9" cy="437" r="4.6499999999999995" fill="#ff7f0e" fill-opacity="0.2" stroke="#ff7f0e" stroke-opacity="0.2" stroke-width="1.4"/>
<circle cx="475.9" cy="437.5" r="4.6499999999999995" fill="#ff7f0e" fill-opacity="0.35" stroke="#ff7f0e" stroke-opacity="0.35" stroke-width="1.4"/>
<circle cx="475.9" cy="438.5" r="4.6499999999999995" fill="#ff7f0e" fill-opacity="0.5" stroke="#ff7f0e" stroke-opacity="0.5" stroke-width="1.4"/>
<circle cx="475.9" cy="439" r="4.6499999999999995" fill="#ff7f0e" fill-opacity="0.6" stroke="#ff7f0e" stroke-opacity="0.6" stroke-width="1.4"/>
<circle cx="475.9" cy="440" r="4.6499999999999995" fill="#ff7f0e" fill-opacity="0.7" stroke="#ff7f0e" stroke-opacity="0.7" stroke-width="1.4"/>
<circle cx="475.9" cy="441" r="4.6499999999999995" fill="#ff7f0e" fill-opacity="0.8" stroke="#ff7f0e" stroke-opacity="0.8" stroke-width="1.4"/>
<circle cx="475.9" cy="443.5" r="4.6499999999999995" fill="#ff7f0e" fill-opacity="0.9" stroke="#ff7f0e" stroke-opacity="0.9" stroke-width="1.4"/>
<circle cx="475.9" cy="444.5" r="4.6499999999999995" fill="#ff7f0e" fill-opacity="1.0" stroke="#ff7f0e" stroke-opacity="1.0" stroke-width="1.4"/>
<circle cx="492" cy="437.3" r="4.6499999999999995" fill="#ff7f0e" fill-opacity="0.2" stroke="#ff7f0e" stroke-opacity="0.2" stroke-width="1.4"/>
<circle cx="492" cy="437.5" r="4.6499999999999995" fill="#ff7f0e" fill-opacity="0.35" stroke="#ff7f0e" stroke-opacity="0.35" stroke-width="1.4"/>
<circle cx="492" cy="438.5" r="4.6499999999999995" fill="#ff7f0e" fill-opacity="0.5" stroke="#ff7f0e" stroke-opacity="0.5" stroke-width="1.4"/>
<circle cx="492" cy="439" r="4.6499999999999995" fill="#ff7f0e" fill-opacity="0.6" stroke="#ff7f0e" stroke-opacity="0.6" stroke-width="1.4"/>
<circle cx="492" cy="440" r="4.6499999999999995" fill="#ff7f0e" fill-opacity="0.7" stroke="#ff7f0e" stroke-opacity="0.7" stroke-width="1.4"/>
<circle cx="492" cy="441" r="4.6499999999999995" fill="#ff7f0e" fill-opacity="0.8" stroke="#ff7f0e" stroke-opacity="0.8" stroke-width="1.4"/>
<circle cx="492" cy="443.5" r="4.6499999999999995" fill="#ff7f0e" fill-opacity="0.9" stroke="#ff7f0e" stroke-opacity="0.9" stroke-width="1.4"/>
<circle cx="492" cy="444.5" r="4.6499999999999995" fill="#ff7f0e" fill-opacity="1.0" stroke="#ff7f0e" stroke-opacity="1.0" stroke-width="1.4"/>
<circle cx="508.2" cy="438" r="4.6499999999999995" fill="#ff7f0e" fill-opacity="0.2" stroke="#ff7f0e" stroke-opacity="0.2" stroke-width="1.4"/>
<circle cx="508.2" cy="438.5" r="4.6499999999999995" fill="#ff7f0e" fill-opacity="0.35" stroke="#ff7f0e" stroke-opacity="0.35" stroke-width="1.4"/>
<circle cx="508.2" cy="439.5" r="4.6499999999999995" fill="#ff7f0e" fill-opacity="0.5" stroke="#ff7f0e" stroke-opacity="0.5" stroke-width="1.4"/>
<circle cx="508.2" cy="440.5" r="4.6499999999999995" fill="#ff7f0e" fill-opacity="0.6" stroke="#ff7f0e" stroke-opacity="0.6" stroke-width="1.4"/>
<circle cx="508.2" cy="441.5" r="4.6499999999999995" fill="#ff7f0e" fill-opacity="0.7" stroke="#ff7f0e" stroke-opacity="0.7" stroke-width="1.4"/>
<circle cx="508.2" cy="442.5" r="4.6499999999999995" fill="#ff7f0e" fill-opacity="0.8" stroke="#ff7f0e" stroke-opacity="0.8" stroke-width="1.4"/>
<circle cx="508.2" cy="443.5" r="4.6499999999999995" fill="#ff7f0e" fill-opacity="0.9" stroke="#ff7f0e" stroke-opacity="0.9" stroke-width="1.4"/>
<circle cx="508.2" cy="444.5" r="4.6499999999999995" fill="#ff7f0e" fill-opacity="1.0" stroke="#ff7f0e" stroke-opacity="1.0" stroke-width="1.4"/>
<circle cx="524.4" cy="438" r="4.6499999999999995" fill="#ff7f0e" fill-opacity="0.2" stroke="#ff7f0e" stroke-opacity="0.2" stroke-width="1.4"/>
<circle cx="524.4" cy="438.5" r="4.6499999999999995" fill="#ff7f0e" fill-opacity="0.35" stroke="#ff7f0e" stroke-opacity="0.35" stroke-width="1.4"/>
<circle cx="524.4" cy="439.5" r="4.6499999999999995" fill="#ff7f0e" fill-opacity="0.5" stroke="#ff7f0e" stroke-opacity="0.5" stroke-width="1.4"/>
<circle cx="524.4" cy="440.5" r="4.6499999999999995" fill="#ff7f0e" fill-opacity="0.6" stroke="#ff7f0e" stroke-opacity="0.6" stroke-width="1.4"/>
<circle cx="524.4" cy="441.5" r="4.6499999999999995" fill="#ff7f0e" fill-opacity="0.7" stroke="#ff7f0e" stroke-opacity="0.7" stroke-width="1.4"/>
<circle cx="524.4" cy="442.5" r="4.6499999999999995" fill="#ff7f0e" fill-opacity="0.8" stroke="#ff7f0e" stroke-opacity="0.8" stroke-width="1.4"/>
<circle cx="524.4" cy="443.5" r="4.6499999999999995" fill="#ff7f0e" fill-opacity="0.9" stroke="#ff7f0e" stroke-opacity="0.9" stroke-width="1.4"/>
<circle cx="524.4" cy="444.5" r="4.6499999999999995" fill="#ff7f0e" fill-opacity="1.0" stroke="#ff7f0e" stroke-opacity="1.0" stroke-width="1.4"/>
<circle cx="540.6" cy="438.8" r="4.6499999999999995" fill="#ff7f0e" fill-opacity="0.2" stroke="#ff7f0e" stroke-opacity="0.2" stroke-width="1.4"/>
<circle cx="540.6" cy="439.5" r="4.6499999999999995" fill="#ff7f0e" fill-opacity="0.35" stroke="#ff7f0e" stroke-opacity="0.35" stroke-width="1.4"/>
<circle cx="540.6" cy="440" r="4.6499999999999995" fill="#ff7f0e" fill-opacity="0.5" stroke="#ff7f0e" stroke-opacity="0.5" stroke-width="1.4"/>
<circle cx="540.6" cy="441" r="4.6499999999999995" fill="#ff7f0e" fill-opacity="0.6" stroke="#ff7f0e" stroke-opacity="0.6" stroke-width="1.4"/>
<circle cx="540.6" cy="441.5" r="4.6499999999999995" fill="#ff7f0e" fill-opacity="0.7" stroke="#ff7f0e" stroke-opacity="0.7" stroke-width="1.4"/>
<circle cx="540.6" cy="442.5" r="4.6499999999999995" fill="#ff7f0e" fill-opacity="0.8" stroke="#ff7f0e" stroke-opacity="0.8" stroke-width="1.4"/>
<circle cx="540.6" cy="443.5" r="4.6499999999999995" fill="#ff7f0e" fill-opacity="0.9" stroke="#ff7f0e" stroke-opacity="0.9" stroke-width="1.4"/>
<circle cx="540.6" cy="444.5" r="4.6499999999999995" fill="#ff7f0e" fill-opacity="1.0" stroke="#ff7f0e" stroke-opacity="1.0" stroke-width="1.4"/>
<circle cx="556.8" cy="439.3" r="4.6499999999999995" fill="#ff7f0e" fill-opacity="0.2" stroke="#ff7f0e" stroke-opacity="0.2" stroke-width="1.4"/>
<circle cx="556.8" cy="440" r="4.6499999999999995" fill="#ff7f0e" fill-opacity="0.35" stroke="#ff7f0e" stroke-opacity="0.35" stroke-width="1.4"/>
<circle cx="556.8" cy="440.5" r="4.6499999999999995" fill="#ff7f0e" fill-opacity="0.5" stroke="#ff7f0e" stroke-opacity="0.5" stroke-width="1.4"/>
<circle cx="556.8" cy="441.5" r="4.6499999999999995" fill="#ff7f0e" fill-opacity="0.6" stroke="#ff7f0e" stroke-opacity="0.6" stroke-width="1.4"/>
<circle cx="556.8" cy="442" r="4.6499999999999995" fill="#ff7f0e" fill-opacity="0.7" stroke="#ff7f0e" stroke-opacity="0.7" stroke-width="1.4"/>
<circle cx="556.8" cy="442.5" r="4.6499999999999995" fill="#ff7f0e" fill-opacity="0.8" stroke="#ff7f0e" stroke-opacity="0.8" stroke-width="1.4"/>
<circle cx="556.8" cy="443.5" r="4.6499999999999995" fill="#ff7f0e" fill-opacity="0.9" stroke="#ff7f0e" stroke-opacity="0.9" stroke-width="1.4"/>
<circle cx="556.8" cy="444.5" r="4.6499999999999995" fill="#ff7f0e" fill-opacity="1.0" stroke="#ff7f0e" stroke-opacity="1.0" stroke-width="1.4"/>
<circle cx="572.9" cy="439.8" r="4.6499999999999995" fill="#ff7f0e" fill-opacity="0.2" stroke="#ff7f0e" stroke-opacity="0.2" stroke-width="1.4"/>
<circle cx="572.9" cy="440.5" r="4.6499999999999995" fill="#ff7f0e" fill-opacity="0.35" stroke="#ff7f0e" stroke-opacity="0.35" stroke-width="1.4"/>
<circle cx="572.9" cy="441" r="4.6499999999999995" fill="#ff7f0e" fill-opacity="0.5" stroke="#ff7f0e" stroke-opacity="0.5" stroke-width="1.4"/>
<circle cx="572.9" cy="442" r="4.6499999999999995" fill="#ff7f0e" fill-opacity="0.6" stroke="#ff7f0e" stroke-opacity="0.6" stroke-width="1.4"/>
<circle cx="572.9" cy="442.5" r="4.6499999999999995" fill="#ff7f0e" fill-opacity="0.7" stroke="#ff7f0e" stroke-opacity="0.7" stroke-width="1.4"/>
<circle cx="572.9" cy="443" r="4.6499999999999995" fill="#ff7f0e" fill-opacity="0.8" stroke="#ff7f0e" stroke-opacity="0.8" stroke-width="1.4"/>
<circle cx="572.9" cy="443.5" r="4.6499999999999995" fill="#ff7f0e" fill-opacity="0.9" stroke="#ff7f0e" stroke-opacity="0.9" stroke-width="1.4"/>
<circle cx="572.9" cy="444.5" r="4.6499999999999995" fill="#ff7f0e" fill-opacity="1.0" stroke="#ff7f0e" stroke-opacity="1.0" stroke-width="1.4"/>
<circle cx="589.1" cy="440.2" r="4.6499999999999995" fill="#ff7f0e" fill-opacity="0.2" stroke="#ff7f0e" stroke-opacity="0.2" stroke-width="1.4"/>
<circle cx="589.1" cy="441" r="4.6499999999999995" fill="#ff7f0e" fill-opacity="0.35" stroke="#ff7f0e" stroke-opacity="0.35" stroke-width="1.4"/>
<circle cx="589.1" cy="441.5" r="4.6499999999999995" fill="#ff7f0e" fill-opacity="0.5" stroke="#ff7f0e" stroke-opacity="0.5" stroke-width="1.4"/>
<circle cx="589.1" cy="442" r="4.6499999999999995" fill="#ff7f0e" fill-opacity="0.6" stroke="#ff7f0e" stroke-opacity="0.6" stroke-width="1.4"/>
<circle cx="589.1" cy="442.5" r="4.6499999999999995" fill="#ff7f0e" fill-opacity="0.7" stroke="#ff7f0e" stroke-opacity="0.7" stroke-width="1.4"/>
<circle cx="589.1" cy="443" r="4.6499999999999995" fill="#ff7f0e" fill-opacity="0.8" stroke="#ff7f0e" stroke-opacity="0.8" stroke-width="1.4"/>
<circle cx="589.1" cy="443.5" r="4.6499999999999995" fill="#ff7f0e" fill-opacity="0.9" stroke="#ff7f0e" stroke-opacity="0.9" stroke-width="1.4"/>
<circle cx="589.1" cy="444.5" r="4.6499999999999995" fill="#ff7f0e" fill-opacity="1.0" stroke="#ff7f0e" stroke-opacity="1.0" stroke-width="1.4"/>
<circle cx="605.3" cy="440.4" r="4.6499999999999995" fill="#ff7f0e" fill-opacity="0.2" stroke="#ff7f0e" stroke-opacity="0.2" stroke-width="1.4"/>
<circle cx="605.3" cy="440.7" r="4.6499999999999995" fill="#ff7f0e" fill-opacity="0.35" stroke="#ff7f0e" stroke-opacity="0.35" stroke-width="1.4"/>
<circle cx="605.3" cy="441" r="4.6499999999999995" fill="#ff7f0e" fill-opacity="0.5" stroke="#ff7f0e" stroke-opacity="0.5" stroke-width="1.4"/>
<circle cx="605.3" cy="441.5" r="4.6499999999999995" fill="#ff7f0e" fill-opacity="0.6" stroke="#ff7f0e" stroke-opacity="0.6" stroke-width="1.4"/>
<circle cx="605.3" cy="442" r="4.6499999999999995" fill="#ff7f0e" fill-opacity="0.7" stroke="#ff7f0e" stroke-opacity="0.7" stroke-width="1.4"/>
<circle cx="605.3" cy="442.5" r="4.6499999999999995" fill="#ff7f0e" fill-opacity="0.8" stroke="#ff7f0e" stroke-opacity="0.8" stroke-width="1.4"/>
<circle cx="605.3" cy="443" r="4.6499999999999995" fill="#ff7f0e" fill-opacity="0.9" stroke="#ff7f0e" stroke-opacity="0.9" stroke-width="1.4"/>
<circle cx="605.3" cy="451.4" r="4.6499999999999995" fill="#ff7f0e" fill-opacity="1.0" stroke="#ff7f0e" stroke-opacity="1.0" stroke-width="1.4"/>
<circle cx="621.5" cy="440.6" r="4.6499999999999995" fill="#ff7f0e" fill-opacity="0.2" stroke="#ff7f0e" stroke-opacity="0.2" stroke-width="1.4"/>
<circle cx="621.5" cy="440.7" r="4.6499999999999995" fill="#ff7f0e" fill-opacity="0.35" stroke="#ff7f0e" stroke-opacity="0.35" stroke-width="1.4"/>
<circle cx="621.5" cy="441" r="4.6499999999999995" fill="#ff7f0e" fill-opacity="0.5" stroke="#ff7f0e" stroke-opacity="0.5" stroke-width="1.4"/>
<circle cx="621.5" cy="441.5" r="4.6499999999999995" fill="#ff7f0e" fill-opacity="0.6" stroke="#ff7f0e" stroke-opacity="0.6" stroke-width="1.4"/>
<circle cx="621.5" cy="442" r="4.6499999999999995" fill="#ff7f0e" fill-opacity="0.7" stroke="#ff7f0e" stroke-opacity="0.7" stroke-width="1.4"/>
<circle cx="621.5" cy="442.5" r="4.6499999999999995" fill="#ff7f0e" fill-opacity="0.8" stroke="#ff7f0e" stroke-opacity="0.8" stroke-width="1.4"/>
<circle cx="621.5" cy="443" r="4.6499999999999995" fill="#ff7f0e" fill-opacity="0.9" stroke="#ff7f0e" stroke-opacity="0.9" stroke-width="1.4"/>
<circle cx="621.5" cy="451.4" r="4.6499999999999995" fill="#ff7f0e" fill-opacity="1.0" stroke="#ff7f0e" stroke-opacity="1.0" stroke-width="1.4"/>
<circle cx="637.7" cy="442.4" r="4.6499999999999995" fill="#ff7f0e" fill-opacity="0.2" stroke="#ff7f0e" stroke-opacity="0.2" stroke-width="1.4"/>
<circle cx="637.7" cy="442.4" r="4.6499999999999995" fill="#ff7f0e" fill-opacity="0.35" stroke="#ff7f0e" stroke-opacity="0.35" stroke-width="1.4"/>
<circle cx="637.7" cy="443" r="4.6499999999999995" fill="#ff7f0e" fill-opacity="0.5" stroke="#ff7f0e" stroke-opacity="0.5" stroke-width="1.4"/>
<circle cx="637.7" cy="444" r="4.6499999999999995" fill="#ff7f0e" fill-opacity="0.6" stroke="#ff7f0e" stroke-opacity="0.6" stroke-width="1.4"/>
<circle cx="637.7" cy="449.5" r="4.6499999999999995" fill="#ff7f0e" fill-opacity="0.7" stroke="#ff7f0e" stroke-opacity="0.7" stroke-width="1.4"/>
<circle cx="637.7" cy="450" r="4.6499999999999995" fill="#ff7f0e" fill-opacity="0.8" stroke="#ff7f0e" stroke-opacity="0.8" stroke-width="1.4"/>
<circle cx="637.7" cy="456" r="4.6499999999999995" fill="#ff7f0e" fill-opacity="0.9" stroke="#ff7f0e" stroke-opacity="0.9" stroke-width="1.4"/>
<circle cx="637.7" cy="457" r="4.6499999999999995" fill="#ff7f0e" fill-opacity="1.0" stroke="#ff7f0e" stroke-opacity="1.0" stroke-width="1.4"/>
<circle cx="653.8" cy="442.4" r="4.6499999999999995" fill="#ff7f0e" fill-opacity="0.2" stroke="#ff7f0e" stroke-opacity="0.2" stroke-width="1.4"/>
<circle cx="653.8" cy="442.4" r="4.6499999999999995" fill="#ff7f0e" fill-opacity="0.35" stroke="#ff7f0e" stroke-opacity="0.35" stroke-width="1.4"/>
<circle cx="653.8" cy="443" r="4.6499999999999995" fill="#ff7f0e" fill-opacity="0.5" stroke="#ff7f0e" stroke-opacity="0.5" stroke-width="1.4"/>
<circle cx="653.8" cy="444" r="4.6499999999999995" fill="#ff7f0e" fill-opacity="0.6" stroke="#ff7f0e" stroke-opacity="0.6" stroke-width="1.4"/>
<circle cx="653.8" cy="449.5" r="4.6499999999999995" fill="#ff7f0e" fill-opacity="0.7" stroke="#ff7f0e" stroke-opacity="0.7" stroke-width="1.4"/>
<circle cx="653.8" cy="450" r="4.6499999999999995" fill="#ff7f0e" fill-opacity="0.8" stroke="#ff7f0e" stroke-opacity="0.8" stroke-width="1.4"/>
<circle cx="653.8" cy="456" r="4.6499999999999995" fill="#ff7f0e" fill-opacity="0.9" stroke="#ff7f0e" stroke-opacity="0.9" stroke-width="1.4"/>
<circle cx="653.8" cy="457" r="4.6499999999999995" fill="#ff7f0e" fill-opacity="1.0" stroke="#ff7f0e" stroke-opacity="1.0" stroke-width="1.4"/>
<circle cx="670" cy="443.7" r="4.6499999999999995" fill="#ff7f0e" fill-opacity="0.2" stroke="#ff7f0e" stroke-opacity="0.2" stroke-width="1.4"/>
<circle cx="670" cy="444" r="4.6499999999999995" fill="#ff7f0e" fill-opacity="0.35" stroke="#ff7f0e" stroke-opacity="0.35" stroke-width="1.4"/>
<circle cx="670" cy="445" r="4.6499999999999995" fill="#ff7f0e" fill-opacity="0.5" stroke="#ff7f0e" stroke-opacity="0.5" stroke-width="1.4"/>
<circle cx="670" cy="450.4" r="4.6499999999999995" fill="#ff7f0e" fill-opacity="0.6" stroke="#ff7f0e" stroke-opacity="0.6" stroke-width="1.4"/>
<circle cx="670" cy="451" r="4.6499999999999995" fill="#ff7f0e" fill-opacity="0.7" stroke="#ff7f0e" stroke-opacity="0.7" stroke-width="1.4"/>
<circle cx="670" cy="453" r="4.6499999999999995" fill="#ff7f0e" fill-opacity="0.8" stroke="#ff7f0e" stroke-opacity="0.8" stroke-width="1.4"/>
<circle cx="670" cy="456" r="4.6499999999999995" fill="#ff7f0e" fill-opacity="0.9" stroke="#ff7f0e" stroke-opacity="0.9" stroke-width="1.4"/>
<circle cx="670" cy="457" r="4.6499999999999995" fill="#ff7f0e" fill-opacity="1.0" stroke="#ff7f0e" stroke-opacity="1.0" stroke-width="1.4"/>
<circle cx="686.2" cy="444.4" r="4.6499999999999995" fill="#ff7f0e" fill-opacity="0.2" stroke="#ff7f0e" stroke-opacity="0.2" stroke-width="1.4"/>
<circle cx="686.2" cy="445" r="4.6499999999999995" fill="#ff7f0e" fill-opacity="0.35" stroke="#ff7f0e" stroke-opacity="0.35" stroke-width="1.4"/>
<circle cx="686.2" cy="446" r="4.6499999999999995" fill="#ff7f0e" fill-opacity="0.5" stroke="#ff7f0e" stroke-opacity="0.5" stroke-width="1.4"/>
<circle cx="686.2" cy="450.4" r="4.6499999999999995" fill="#ff7f0e" fill-opacity="0.6" stroke="#ff7f0e" stroke-opacity="0.6" stroke-width="1.4"/>
<circle cx="686.2" cy="451" r="4.6499999999999995" fill="#ff7f0e" fill-opacity="0.7" stroke="#ff7f0e" stroke-opacity="0.7" stroke-width="1.4"/>
<circle cx="686.2" cy="453" r="4.6499999999999995" fill="#ff7f0e" fill-opacity="0.8" stroke="#ff7f0e" stroke-opacity="0.8" stroke-width="1.4"/>
<circle cx="686.2" cy="456" r="4.6499999999999995" fill="#ff7f0e" fill-opacity="0.9" stroke="#ff7f0e" stroke-opacity="0.9" stroke-width="1.4"/>
<circle cx="686.2" cy="457" r="4.6499999999999995" fill="#ff7f0e" fill-opacity="1.0" stroke="#ff7f0e" stroke-opacity="1.0" stroke-width="1.4"/>
<circle cx="702.4" cy="447" r="4.6499999999999995" fill="#ff7f0e" fill-opacity="0.2" stroke="#ff7f0e" stroke-opacity="0.2" stroke-width="1.4"/>
<circle cx="702.4" cy="448" r="4.6499999999999995" fill="#ff7f0e" fill-opacity="0.35" stroke="#ff7f0e" stroke-opacity="0.35" stroke-width="1.4"/>
<circle cx="702.4" cy="449" r="4.6499999999999995" fill="#ff7f0e" fill-opacity="0.5" stroke="#ff7f0e" stroke-opacity="0.5" stroke-width="1.4"/>
<circle cx="702.4" cy="450" r="4.6499999999999995" fill="#ff7f0e" fill-opacity="0.6" stroke="#ff7f0e" stroke-opacity="0.6" stroke-width="1.4"/>
<circle cx="702.4" cy="452" r="4.6499999999999995" fill="#ff7f0e" fill-opacity="0.7" stroke="#ff7f0e" stroke-opacity="0.7" stroke-width="1.4"/>
<circle cx="702.4" cy="454" r="4.6499999999999995" fill="#ff7f0e" fill-opacity="0.8" stroke="#ff7f0e" stroke-opacity="0.8" stroke-width="1.4"/>
<circle cx="702.4" cy="456" r="4.6499999999999995" fill="#ff7f0e" fill-opacity="0.9" stroke="#ff7f0e" stroke-opacity="0.9" stroke-width="1.4"/>
<circle cx="702.4" cy="462.4" r="4.6499999999999995" fill="#ff7f0e" fill-opacity="1.0" stroke="#ff7f0e" stroke-opacity="1.0" stroke-width="1.4"/>
<circle cx="718.6" cy="451.7" r="4.6499999999999995" fill="#ff7f0e" fill-opacity="0.2" stroke="#ff7f0e" stroke-opacity="0.2" stroke-width="1.4"/>
<circle cx="718.6" cy="452.5" r="4.6499999999999995" fill="#ff7f0e" fill-opacity="0.35" stroke="#ff7f0e" stroke-opacity="0.35" stroke-width="1.4"/>
<circle cx="718.6" cy="453.5" r="4.6499999999999995" fill="#ff7f0e" fill-opacity="0.5" stroke="#ff7f0e" stroke-opacity="0.5" stroke-width="1.4"/>
<circle cx="718.6" cy="455" r="4.6499999999999995" fill="#ff7f0e" fill-opacity="0.6" stroke="#ff7f0e" stroke-opacity="0.6" stroke-width="1.4"/>
<circle cx="718.6" cy="457" r="4.6499999999999995" fill="#ff7f0e" fill-opacity="0.7" stroke="#ff7f0e" stroke-opacity="0.7" stroke-width="1.4"/>
<circle cx="718.6" cy="459" r="4.6499999999999995" fill="#ff7f0e" fill-opacity="0.8" stroke="#ff7f0e" stroke-opacity="0.8" stroke-width="1.4"/>
<circle cx="718.6" cy="461" r="4.6499999999999995" fill="#ff7f0e" fill-opacity="0.9" stroke="#ff7f0e" stroke-opacity="0.9" stroke-width="1.4"/>
<circle cx="718.6" cy="462.5" r="4.6499999999999995" fill="#ff7f0e" fill-opacity="1.0" stroke="#ff7f0e" stroke-opacity="1.0" stroke-width="1.4"/>
<circle cx="734.7" cy="453" r="4.6499999999999995" fill="#ff7f0e" fill-opacity="0.2" stroke="#ff7f0e" stroke-opacity="0.2" stroke-width="1.4"/>
<circle cx="734.7" cy="454" r="4.6499999999999995" fill="#ff7f0e" fill-opacity="0.35" stroke="#ff7f0e" stroke-opacity="0.35" stroke-width="1.4"/>
<circle cx="734.7" cy="455" r="4.6499999999999995" fill="#ff7f0e" fill-opacity="0.5" stroke="#ff7f0e" stroke-opacity="0.5" stroke-width="1.4"/>
<circle cx="734.7" cy="457" r="4.6499999999999995" fill="#ff7f0e" fill-opacity="0.6" stroke="#ff7f0e" stroke-opacity="0.6" stroke-width="1.4"/>
<circle cx="734.7" cy="459" r="4.6499999999999995" fill="#ff7f0e" fill-opacity="0.7" stroke="#ff7f0e" stroke-opacity="0.7" stroke-width="1.4"/>
<circle cx="734.7" cy="461" r="4.6499999999999995" fill="#ff7f0e" fill-opacity="0.8" stroke="#ff7f0e" stroke-opacity="0.8" stroke-width="1.4"/>
<circle cx="734.7" cy="463" r="4.6499999999999995" fill="#ff7f0e" fill-opacity="0.9" stroke="#ff7f0e" stroke-opacity="0.9" stroke-width="1.4"/>
<circle cx="734.7" cy="464.4" r="4.6499999999999995" fill="#ff7f0e" fill-opacity="1.0" stroke="#ff7f0e" stroke-opacity="1.0" stroke-width="1.4"/>
<circle cx="750.9" cy="453.3" r="4.6499999999999995" fill="#ff7f0e" fill-opacity="0.2" stroke="#ff7f0e" stroke-opacity="0.2" stroke-width="1.4"/>
<circle cx="750.9" cy="454" r="4.6499999999999995" fill="#ff7f0e" fill-opacity="0.35" stroke="#ff7f0e" stroke-opacity="0.35" stroke-width="1.4"/>
<circle cx="750.9" cy="455" r="4.6499999999999995" fill="#ff7f0e" fill-opacity="0.5" stroke="#ff7f0e" stroke-opacity="0.5" stroke-width="1.4"/>
<circle cx="750.9" cy="457" r="4.6499999999999995" fill="#ff7f0e" fill-opacity="0.6" stroke="#ff7f0e" stroke-opacity="0.6" stroke-width="1.4"/>
<circle cx="750.9" cy="459" r="4.6499999999999995" fill="#ff7f0e" fill-opacity="0.7" stroke="#ff7f0e" stroke-opacity="0.7" stroke-width="1.4"/>
<circle cx="750.9" cy="461" r="4.6499999999999995" fill="#ff7f0e" fill-opacity="0.8" stroke="#ff7f0e" stroke-opacity="0.8" stroke-width="1.4"/>
<circle cx="750.9" cy="463" r="4.6499999999999995" fill="#ff7f0e" fill-opacity="0.9" stroke="#ff7f0e" stroke-opacity="0.9" stroke-width="1.4"/>
<circle cx="750.9" cy="464.4" r="4.6499999999999995" fill="#ff7f0e" fill-opacity="1.0" stroke="#ff7f0e" stroke-opacity="1.0" stroke-width="1.4"/>
<circle cx="767.1" cy="452.7" r="4.6499999999999995" fill="#ff7f0e" fill-opacity="0.2" stroke="#ff7f0e" stroke-opacity="0.2" stroke-width="1.4"/>
<circle cx="767.1" cy="453.5" r="4.6499999999999995" fill="#ff7f0e" fill-opacity="0.35" stroke="#ff7f0e" stroke-opacity="0.35" stroke-width="1.4"/>
<circle cx="767.1" cy="455" r="4.6499999999999995" fill="#ff7f0e" fill-opacity="0.5" stroke="#ff7f0e" stroke-opacity="0.5" stroke-width="1.4"/>
<circle cx="767.1" cy="457" r="4.6499999999999995" fill="#ff7f0e" fill-opacity="0.6" stroke="#ff7f0e" stroke-opacity="0.6" stroke-width="1.4"/>
<circle cx="767.1" cy="459" r="4.6499999999999995" fill="#ff7f0e" fill-opacity="0.7" stroke="#ff7f0e" stroke-opacity="0.7" stroke-width="1.4"/>
<circle cx="767.1" cy="461" r="4.6499999999999995" fill="#ff7f0e" fill-opacity="0.8" stroke="#ff7f0e" stroke-opacity="0.8" stroke-width="1.4"/>
<circle cx="767.1" cy="463" r="4.6499999999999995" fill="#ff7f0e" fill-opacity="0.9" stroke="#ff7f0e" stroke-opacity="0.9" stroke-width="1.4"/>
<circle cx="767.1" cy="464.4" r="4.6499999999999995" fill="#ff7f0e" fill-opacity="1.0" stroke="#ff7f0e" stroke-opacity="1.0" stroke-width="1.4"/>
<circle cx="783.3" cy="456.3" r="4.6499999999999995" fill="#ff7f0e" fill-opacity="0.2" stroke="#ff7f0e" stroke-opacity="0.2" stroke-width="1.4"/>
<circle cx="783.3" cy="457" r="4.6499999999999995" fill="#ff7f0e" fill-opacity="0.35" stroke="#ff7f0e" stroke-opacity="0.35" stroke-width="1.4"/>
<circle cx="783.3" cy="458" r="4.6499999999999995" fill="#ff7f0e" fill-opacity="0.5" stroke="#ff7f0e" stroke-opacity="0.5" stroke-width="1.4"/>
<circle cx="783.3" cy="459.5" r="4.6499999999999995" fill="#ff7f0e" fill-opacity="0.6" stroke="#ff7f0e" stroke-opacity="0.6" stroke-width="1.4"/>
<circle cx="783.3" cy="461" r="4.6499999999999995" fill="#ff7f0e" fill-opacity="0.7" stroke="#ff7f0e" stroke-opacity="0.7" stroke-width="1.4"/>
<circle cx="783.3" cy="462" r="4.6499999999999995" fill="#ff7f0e" fill-opacity="0.8" stroke="#ff7f0e" stroke-opacity="0.8" stroke-width="1.4"/>
<circle cx="783.3" cy="463.5" r="4.6499999999999995" fill="#ff7f0e" fill-opacity="0.9" stroke="#ff7f0e" stroke-opacity="0.9" stroke-width="1.4"/>
<circle cx="783.3" cy="464.4" r="4.6499999999999995" fill="#ff7f0e" fill-opacity="1.0" stroke="#ff7f0e" stroke-opacity="1.0" stroke-width="1.4"/>
<circle cx="799.5" cy="456.3" r="4.6499999999999995" fill="#ff7f0e" fill-opacity="0.2" stroke="#ff7f0e" stroke-opacity="0.2" stroke-width="1.4"/>
<circle cx="799.5" cy="457" r="4.6499999999999995" fill="#ff7f0e" fill-opacity="0.35" stroke="#ff7f0e" stroke-opacity="0.35" stroke-width="1.4"/>
<circle cx="799.5" cy="458" r="4.6499999999999995" fill="#ff7f0e" fill-opacity="0.5" stroke="#ff7f0e" stroke-opacity="0.5" stroke-width="1.4"/>
<circle cx="799.5" cy="459.5" r="4.6499999999999995" fill="#ff7f0e" fill-opacity="0.6" stroke="#ff7f0e" stroke-opacity="0.6" stroke-width="1.4"/>
<circle cx="799.5" cy="461" r="4.6499999999999995" fill="#ff7f0e" fill-opacity="0.7" stroke="#ff7f0e" stroke-opacity="0.7" stroke-width="1.4"/>
<circle cx="799.5" cy="462" r="4.6499999999999995" fill="#ff7f0e" fill-opacity="0.8" stroke="#ff7f0e" stroke-opacity="0.8" stroke-width="1.4"/>
<circle cx="799.5" cy="463.5" r="4.6499999999999995" fill="#ff7f0e" fill-opacity="0.9" stroke="#ff7f0e" stroke-opacity="0.9" stroke-width="1.4"/>
<circle cx="799.5" cy="464.4" r="4.6499999999999995" fill="#ff7f0e" fill-opacity="1.0" stroke="#ff7f0e" stroke-opacity="1.0" stroke-width="1.4"/>
<circle cx="815.6" cy="457.8" r="4.6499999999999995" fill="#ff7f0e" fill-opacity="0.2" stroke="#ff7f0e" stroke-opacity="0.2" stroke-width="1.4"/>
<circle cx="815.6" cy="458.3" r="4.6499999999999995" fill="#ff7f0e" fill-opacity="0.35" stroke="#ff7f0e" stroke-opacity="0.35" stroke-width="1.4"/>
<circle cx="815.6" cy="459" r="4.6499999999999995" fill="#ff7f0e" fill-opacity="0.5" stroke="#ff7f0e" stroke-opacity="0.5" stroke-width="1.4"/>
<circle cx="815.6" cy="460" r="4.6499999999999995" fill="#ff7f0e" fill-opacity="0.6" stroke="#ff7f0e" stroke-opacity="0.6" stroke-width="1.4"/>
<circle cx="815.6" cy="461" r="4.6499999999999995" fill="#ff7f0e" fill-opacity="0.7" stroke="#ff7f0e" stroke-opacity="0.7" stroke-width="1.4"/>
<circle cx="815.6" cy="463" r="4.6499999999999995" fill="#ff7f0e" fill-opacity="0.8" stroke="#ff7f0e" stroke-opacity="0.8" stroke-width="1.4"/>
<circle cx="815.6" cy="464.3" r="4.6499999999999995" fill="#ff7f0e" fill-opacity="0.9" stroke="#ff7f0e" stroke-opacity="0.9" stroke-width="1.4"/>
<circle cx="815.6" cy="471" r="4.6499999999999995" fill="#ff7f0e" fill-opacity="1.0" stroke="#ff7f0e" stroke-opacity="1.0" stroke-width="1.4"/>
<circle cx="831.8" cy="458.7" r="4.6499999999999995" fill="#ff7f0e" fill-opacity="0.2" stroke="#ff7f0e" stroke-opacity="0.2" stroke-width="1.4"/>
<circle cx="831.8" cy="459" r="4.6499999999999995" fill="#ff7f0e" fill-opacity="0.35" stroke="#ff7f0e" stroke-opacity="0.35" stroke-width="1.4"/>
<circle cx="831.8" cy="459.5" r="4.6499999999999995" fill="#ff7f0e" fill-opacity="0.5" stroke="#ff7f0e" stroke-opacity="0.5" stroke-width="1.4"/>
<circle cx="831.8" cy="460" r="4.6499999999999995" fill="#ff7f0e" fill-opacity="0.6" stroke="#ff7f0e" stroke-opacity="0.6" stroke-width="1.4"/>
<circle cx="831.8" cy="461" r="4.6499999999999995" fill="#ff7f0e" fill-opacity="0.7" stroke="#ff7f0e" stroke-opacity="0.7" stroke-width="1.4"/>
<circle cx="831.8" cy="463" r="4.6499999999999995" fill="#ff7f0e" fill-opacity="0.8" stroke="#ff7f0e" stroke-opacity="0.8" stroke-width="1.4"/>
<circle cx="831.8" cy="464.3" r="4.6499999999999995" fill="#ff7f0e" fill-opacity="0.9" stroke="#ff7f0e" stroke-opacity="0.9" stroke-width="1.4"/>
<circle cx="831.8" cy="471" r="4.6499999999999995" fill="#ff7f0e" fill-opacity="1.0" stroke="#ff7f0e" stroke-opacity="1.0" stroke-width="1.4"/>
<circle cx="848" cy="459.7" r="4.6499999999999995" fill="#ff7f0e" fill-opacity="0.2" stroke="#ff7f0e" stroke-opacity="0.2" stroke-width="1.4"/>
<circle cx="848" cy="459.8" r="4.6499999999999995" fill="#ff7f0e" fill-opacity="0.35" stroke="#ff7f0e" stroke-opacity="0.35" stroke-width="1.4"/>
<circle cx="848" cy="460" r="4.6499999999999995" fill="#ff7f0e" fill-opacity="0.5" stroke="#ff7f0e" stroke-opacity="0.5" stroke-width="1.4"/>
<circle cx="848" cy="460.5" r="4.6499999999999995" fill="#ff7f0e" fill-opacity="0.6" stroke="#ff7f0e" stroke-opacity="0.6" stroke-width="1.4"/>
<circle cx="848" cy="461" r="4.6499999999999995" fill="#ff7f0e" fill-opacity="0.7" stroke="#ff7f0e" stroke-opacity="0.7" stroke-width="1.4"/>
<circle cx="848" cy="463" r="4.6499999999999995" fill="#ff7f0e" fill-opacity="0.8" stroke="#ff7f0e" stroke-opacity="0.8" stroke-width="1.4"/>
<circle cx="848" cy="464.3" r="4.6499999999999995" fill="#ff7f0e" fill-opacity="0.9" stroke="#ff7f0e" stroke-opacity="0.9" stroke-width="1.4"/>
<circle cx="848" cy="471" r="4.6499999999999995" fill="#ff7f0e" fill-opacity="1.0" stroke="#ff7f0e" stroke-opacity="1.0" stroke-width="1.4"/>
<circle cx="864.2" cy="460" r="4.6499999999999995" fill="#ff7f0e" fill-opacity="0.2" stroke="#ff7f0e" stroke-opacity="0.2" stroke-width="1.4"/>
<circle cx="864.2" cy="460.2" r="4.6499999999999995" fill="#ff7f0e" fill-opacity="0.35" stroke="#ff7f0e" stroke-opacity="0.35" stroke-width="1.4"/>
<circle cx="864.2" cy="460.5" r="4.6499999999999995" fill="#ff7f0e" fill-opacity="0.5" stroke="#ff7f0e" stroke-opacity="0.5" stroke-width="1.4"/>
<circle cx="864.2" cy="461" r="4.6499999999999995" fill="#ff7f0e" fill-opacity="0.6" stroke="#ff7f0e" stroke-opacity="0.6" stroke-width="1.4"/>
<circle cx="864.2" cy="461.5" r="4.6499999999999995" fill="#ff7f0e" fill-opacity="0.7" stroke="#ff7f0e" stroke-opacity="0.7" stroke-width="1.4"/>
<circle cx="864.2" cy="463" r="4.6499999999999995" fill="#ff7f0e" fill-opacity="0.8" stroke="#ff7f0e" stroke-opacity="0.8" stroke-width="1.4"/>
<circle cx="864.2" cy="464.3" r="4.6499999999999995" fill="#ff7f0e" fill-opacity="0.9" stroke="#ff7f0e" stroke-opacity="0.9" stroke-width="1.4"/>
<circle cx="864.2" cy="471" r="4.6499999999999995" fill="#ff7f0e" fill-opacity="1.0" stroke="#ff7f0e" stroke-opacity="1.0" stroke-width="1.4"/>
<circle cx="880.4" cy="460.3" r="4.6499999999999995" fill="#ff7f0e" fill-opacity="0.2" stroke="#ff7f0e" stroke-opacity="0.2" stroke-width="1.4"/>
<circle cx="880.4" cy="460.5" r="4.6499999999999995" fill="#ff7f0e" fill-opacity="0.35" stroke="#ff7f0e" stroke-opacity="0.35" stroke-width="1.4"/>
<circle cx="880.4" cy="460.7" r="4.6499999999999995" fill="#ff7f0e" fill-opacity="0.5" stroke="#ff7f0e" stroke-opacity="0.5" stroke-width="1.4"/>
<circle cx="880.4" cy="461" r="4.6499999999999995" fill="#ff7f0e" fill-opacity="0.6" stroke="#ff7f0e" stroke-opacity="0.6" stroke-width="1.4"/>
<circle cx="880.4" cy="461.5" r="4.6499999999999995" fill="#ff7f0e" fill-opacity="0.7" stroke="#ff7f0e" stroke-opacity="0.7" stroke-width="1.4"/>
<circle cx="880.4" cy="463" r="4.6499999999999995" fill="#ff7f0e" fill-opacity="0.8" stroke="#ff7f0e" stroke-opacity="0.8" stroke-width="1.4"/>
<circle cx="880.4" cy="464.3" r="4.6499999999999995" fill="#ff7f0e" fill-opacity="0.9" stroke="#ff7f0e" stroke-opacity="0.9" stroke-width="1.4"/>
<circle cx="880.4" cy="471" r="4.6499999999999995" fill="#ff7f0e" fill-opacity="1.0" stroke="#ff7f0e" stroke-opacity="1.0" stroke-width="1.4"/>
<circle cx="896.5" cy="460.3" r="4.6499999999999995" fill="#ff7f0e" fill-opacity="0.2" stroke="#ff7f0e" stroke-opacity="0.2" stroke-width="1.4"/>
<circle cx="896.5" cy="460.5" r="4.6499999999999995" fill="#ff7f0e" fill-opacity="0.35" stroke="#ff7f0e" stroke-opacity="0.35" stroke-width="1.4"/>
<circle cx="896.5" cy="460.7" r="4.6499999999999995" fill="#ff7f0e" fill-opacity="0.5" stroke="#ff7f0e" stroke-opacity="0.5" stroke-width="1.4"/>
<circle cx="896.5" cy="461" r="4.6499999999999995" fill="#ff7f0e" fill-opacity="0.6" stroke="#ff7f0e" stroke-opacity="0.6" stroke-width="1.4"/>
<circle cx="896.5" cy="461.5" r="4.6499999999999995" fill="#ff7f0e" fill-opacity="0.7" stroke="#ff7f0e" stroke-opacity="0.7" stroke-width="1.4"/>
<circle cx="896.5" cy="463" r="4.6499999999999995" fill="#ff7f0e" fill-opacity="0.8" stroke="#ff7f0e" stroke-opacity="0.8" stroke-width="1.4"/>
<circle cx="896.5" cy="464.3" r="4.6499999999999995" fill="#ff7f0e" fill-opacity="0.9" stroke="#ff7f0e" stroke-opacity="0.9" stroke-width="1.4"/>
<circle cx="896.5" cy="471" r="4.6499999999999995" fill="#ff7f0e" fill-opacity="1.0" stroke="#ff7f0e" stroke-opacity="1.0" stroke-width="1.4"/>
<circle cx="912.7" cy="463.3" r="4.6499999999999995" fill="#ff7f0e" fill-opacity="0.2" stroke="#ff7f0e" stroke-opacity="0.2" stroke-width="1.4"/>
<circle cx="912.7" cy="463.4" r="4.6499999999999995" fill="#ff7f0e" fill-opacity="0.35" stroke="#ff7f0e" stroke-opacity="0.35" stroke-width="1.4"/>
<circle cx="912.7" cy="463.6" r="4.6499999999999995" fill="#ff7f0e" fill-opacity="0.5" stroke="#ff7f0e" stroke-opacity="0.5" stroke-width="1.4"/>
<circle cx="912.7" cy="463.8" r="4.6499999999999995" fill="#ff7f0e" fill-opacity="0.6" stroke="#ff7f0e" stroke-opacity="0.6" stroke-width="1.4"/>
<circle cx="912.7" cy="464" r="4.6499999999999995" fill="#ff7f0e" fill-opacity="0.7" stroke="#ff7f0e" stroke-opacity="0.7" stroke-width="1.4"/>
<circle cx="912.7" cy="464.5" r="4.6499999999999995" fill="#ff7f0e" fill-opacity="0.8" stroke="#ff7f0e" stroke-opacity="0.8" stroke-width="1.4"/>
<circle cx="912.7" cy="465" r="4.6499999999999995" fill="#ff7f0e" fill-opacity="0.9" stroke="#ff7f0e" stroke-opacity="0.9" stroke-width="1.4"/>
<circle cx="912.7" cy="471.3" r="4.6499999999999995" fill="#ff7f0e" fill-opacity="1.0" stroke="#ff7f0e" stroke-opacity="1.0" stroke-width="1.4"/>
</g>
<path d="M80,11.9H952V555.2H828.6V554.5H80Z" fill="none" stroke="#000" stroke-width="2" stroke-linejoin="miter"/>
<line x1="827.6" y1="554.5" x2="829.6" y2="555.2" stroke="#000" stroke-width="2"/>
<line x1="119.9" y1="554.5" x2="119.9" y2="560.8" stroke="#000" stroke-width="1.6"/>
<text x="119.9" y="584.1" text-anchor="middle" class="tk">0</text>
<line x1="152.3" y1="554.5" x2="152.3" y2="560.8" stroke="#000" stroke-width="1.6"/>
<text x="152.3" y="584.1" text-anchor="middle" class="tk">2</text>
<line x1="184.6" y1="554.5" x2="184.6" y2="560.8" stroke="#000" stroke-width="1.6"/>
<text x="184.6" y="584.1" text-anchor="middle" class="tk">4</text>
<line x1="217" y1="554.5" x2="217" y2="560.8" stroke="#000" stroke-width="1.6"/>
<text x="217" y="584.1" text-anchor="middle" class="tk">6</text>
<line x1="249.3" y1="554.5" x2="249.3" y2="560.8" stroke="#000" stroke-width="1.6"/>
<text x="249.3" y="584.1" text-anchor="middle" class="tk">8</text>
<line x1="281.7" y1="554.5" x2="281.7" y2="560.8" stroke="#000" stroke-width="1.6"/>
<text transform="translate(281.7,584.1) scale(0.955,1)" text-anchor="middle" class="tk">10</text>
<line x1="314.1" y1="554.5" x2="314.1" y2="560.8" stroke="#000" stroke-width="1.6"/>
<text transform="translate(314.1,584.1) scale(0.955,1)" text-anchor="middle" class="tk">12</text>
<line x1="346.4" y1="554.5" x2="346.4" y2="560.8" stroke="#000" stroke-width="1.6"/>
<text transform="translate(346.4,584.1) scale(0.955,1)" text-anchor="middle" class="tk">14</text>
<line x1="378.8" y1="554.5" x2="378.8" y2="560.8" stroke="#000" stroke-width="1.6"/>
<text transform="translate(378.8,584.1) scale(0.955,1)" text-anchor="middle" class="tk">16</text>
<line x1="411.1" y1="554.5" x2="411.1" y2="560.8" stroke="#000" stroke-width="1.6"/>
<text transform="translate(411.1,584.1) scale(0.955,1)" text-anchor="middle" class="tk">18</text>
<line x1="443.5" y1="554.5" x2="443.5" y2="560.8" stroke="#000" stroke-width="1.6"/>
<text transform="translate(443.5,584.1) scale(0.955,1)" text-anchor="middle" class="tk">20</text>
<line x1="475.9" y1="554.5" x2="475.9" y2="560.8" stroke="#000" stroke-width="1.6"/>
<text transform="translate(475.9,584.1) scale(0.955,1)" text-anchor="middle" class="tk">22</text>
<line x1="508.2" y1="554.5" x2="508.2" y2="560.8" stroke="#000" stroke-width="1.6"/>
<text transform="translate(508.2,584.1) scale(0.955,1)" text-anchor="middle" class="tk">24</text>
<line x1="540.6" y1="554.5" x2="540.6" y2="560.8" stroke="#000" stroke-width="1.6"/>
<text transform="translate(540.6,584.1) scale(0.955,1)" text-anchor="middle" class="tk">26</text>
<line x1="572.9" y1="554.5" x2="572.9" y2="560.8" stroke="#000" stroke-width="1.6"/>
<text transform="translate(572.9,584.1) scale(0.955,1)" text-anchor="middle" class="tk">28</text>
<line x1="605.3" y1="554.5" x2="605.3" y2="560.8" stroke="#000" stroke-width="1.6"/>
<text transform="translate(605.3,584.1) scale(0.955,1)" text-anchor="middle" class="tk">30</text>
<line x1="637.7" y1="554.5" x2="637.7" y2="560.8" stroke="#000" stroke-width="1.6"/>
<text transform="translate(637.7,584.1) scale(0.955,1)" text-anchor="middle" class="tk">32</text>
<line x1="670" y1="554.5" x2="670" y2="560.8" stroke="#000" stroke-width="1.6"/>
<text transform="translate(670,584.1) scale(0.955,1)" text-anchor="middle" class="tk">34</text>
<line x1="702.4" y1="554.5" x2="702.4" y2="560.8" stroke="#000" stroke-width="1.6"/>
<text transform="translate(702.4,584.1) scale(0.955,1)" text-anchor="middle" class="tk">36</text>
<line x1="734.7" y1="554.5" x2="734.7" y2="560.8" stroke="#000" stroke-width="1.6"/>
<text transform="translate(734.7,584.1) scale(0.955,1)" text-anchor="middle" class="tk">38</text>
<line x1="767.1" y1="554.5" x2="767.1" y2="560.8" stroke="#000" stroke-width="1.6"/>
<text transform="translate(767.1,584.1) scale(0.955,1)" text-anchor="middle" class="tk">40</text>
<line x1="799.5" y1="554.5" x2="799.5" y2="560.8" stroke="#000" stroke-width="1.6"/>
<text transform="translate(799.5,584.1) scale(0.955,1)" text-anchor="middle" class="tk">42</text>
<line x1="831.8" y1="555.2" x2="831.8" y2="561.5" stroke="#000" stroke-width="1.6"/>
<text transform="translate(831.8,584.1) scale(0.955,1)" text-anchor="middle" class="tk">44</text>
<line x1="864.2" y1="555.2" x2="864.2" y2="561.5" stroke="#000" stroke-width="1.6"/>
<text transform="translate(864.2,584.1) scale(0.955,1)" text-anchor="middle" class="tk">46</text>
<line x1="896.5" y1="555.2" x2="896.5" y2="561.5" stroke="#000" stroke-width="1.6"/>
<text transform="translate(896.5,584.1) scale(0.955,1)" text-anchor="middle" class="tk">48</text>
<line x1="74" y1="554.5" x2="80" y2="554.5" stroke="#000" stroke-width="1.6"/>
<line x1="76.7" y1="458.4" x2="80" y2="458.4" stroke="#000" stroke-width="1.2"/>
<line x1="76.7" y1="402.1" x2="80" y2="402.1" stroke="#000" stroke-width="1.2"/>
<line x1="76.7" y1="362.2" x2="80" y2="362.2" stroke="#000" stroke-width="1.2"/>
<line x1="76.7" y1="331.3" x2="80" y2="331.3" stroke="#000" stroke-width="1.2"/>
<line x1="76.7" y1="306" x2="80" y2="306" stroke="#000" stroke-width="1.2"/>
<line x1="76.7" y1="284.6" x2="80" y2="284.6" stroke="#000" stroke-width="1.2"/>
<line x1="76.7" y1="266.1" x2="80" y2="266.1" stroke="#000" stroke-width="1.2"/>
<line x1="76.7" y1="249.7" x2="80" y2="249.7" stroke="#000" stroke-width="1.2"/>
<line x1="74" y1="235.1" x2="80" y2="235.1" stroke="#000" stroke-width="1.6"/>
<line x1="76.7" y1="139" x2="80" y2="139" stroke="#000" stroke-width="1.2"/>
<line x1="76.7" y1="82.8" x2="80" y2="82.8" stroke="#000" stroke-width="1.2"/>
<line x1="76.7" y1="42.9" x2="80" y2="42.9" stroke="#000" stroke-width="1.2"/>
<line x1="74" y1="11.9" x2="80" y2="11.9" stroke="#000" stroke-width="1.6"/>
<text x="71" y="21" text-anchor="end" class="tk">50</text>
<text x="71" y="245.6" text-anchor="end" class="tk">10</text>
<text x="71" y="563.4" text-anchor="end" class="tk">1</text>
<text x="516.2" y="620.7" text-anchor="middle" class="lab">Iteration</text>
<text transform="translate(25.9,283.6) rotate(-90)" text-anchor="middle" class="lab">Cost (a.u.)</text>
<text x="516.6" y="667.5" text-anchor="middle" class="cap">(a)</text>
<rect x="710.3" y="23.6" width="229.7" height="148.1" rx="4" ry="4" fill="#fff" fill-opacity="0.8" stroke="#cccccc" stroke-opacity="0.9" stroke-width="1.3"/>
<line x1="719.1" y1="43.2" x2="769.3" y2="43.2" stroke="#1f77b4" stroke-width="2.6"/>
<circle cx="744.2" cy="43.2" r="5.45" fill="#1f77b4"/>
<rect x="719.6" y="70.6" width="49.2" height="16.6" fill="#808080" fill-opacity="0.215" stroke="#808080" stroke-opacity="0.215" stroke-width="1.3"/>
<rect x="719.6" y="105.6" width="49.2" height="17" fill="#1f77b4" fill-opacity="0.2" stroke="#1f77b4" stroke-opacity="0.2" stroke-width="1.3"/>
<circle cx="744.2" cy="151.2" r="5.35" fill="#ff7f0e"/>
<text x="788.5" y="52.2" class="lg">mean</text>
<text x="788.5" y="87.3" class="lg">range</text>
<text x="788.5" y="122.7" class="lg">mean + std</text>
<text x="788.5" y="158.4" class="lg">g8best(i)</text>
<clipPath id="cb"><rect x="1115.5" y="13.6" width="860.7" height="541.1"/></clipPath>
<g clip-path="url(#cb)">
<polygon points="1154.5,73.5 1170.5,53.4 1186.4,126 1202.4,110.3 1218.4,111.8 1234.3,147.4 1250.3,92.8 1266.3,95.8 1282.2,129 1298.2,114.8 1314.2,103.8 1330.1,126.2 1346.1,122.3 1362,132.1 1378,143.1 1394,131.2 1409.9,110.4 1425.9,122.9 1441.9,138.6 1457.8,135.7 1473.8,171.3 1489.8,138.6 1505.7,119.3 1521.7,75 1537.7,131.8 1553.6,131.2 1569.6,139.5 1585.6,156.4 1601.5,122.9 1617.5,108.1 1633.5,145.5 1649.4,146.9 1665.4,156.4 1681.3,158.2 1697.3,146.8 1713.3,129.7 1729.2,131.8 1745.2,140.1 1761.2,111.9 1777.1,146.1 1793.1,129.1 1809.1,111.9 1825,149 1841,187.6 1857,131.2 1872.9,139.3 1888.9,141.6 1904.9,137.2 1920.8,135.7 1936.8,166.8 1936.8,523.8 1920.8,505.2 1904.9,505.2 1888.9,524.9 1872.9,507.6 1857,510.3 1841,520 1825,523.5 1809.1,456.3 1793.1,521.8 1777.1,530 1761.2,522.6 1745.2,516.7 1729.2,512.8 1713.3,515.8 1697.3,510.7 1681.3,514.3 1665.4,504.8 1649.4,520.2 1633.5,521.7 1617.5,492.9 1601.5,509.9 1585.6,523.2 1569.6,527.7 1553.6,508.4 1537.7,512.8 1521.7,520.2 1505.7,522 1489.8,467.4 1473.8,483.1 1457.8,505 1441.9,479 1425.9,474.1 1409.9,463 1394,495.5 1378,528 1362,533 1346.1,467 1330.1,504.5 1314.2,483.8 1298.2,482.5 1282.2,400 1266.3,481.5 1250.3,426 1234.3,371.2 1218.4,369.7 1202.4,369.7 1186.4,484 1170.5,290.5 1154.5,362" fill="#808080" fill-opacity="0.215" stroke="#808080" stroke-opacity="0.215" stroke-width="1.3" stroke-linejoin="round"/>
<polygon points="1154.5,94 1170.5,107.7 1186.4,168.5 1202.4,148.9 1218.4,160.2 1234.3,181 1250.3,170.6 1266.3,158.1 1282.2,183.9 1298.2,169.1 1314.2,167 1330.1,178 1346.1,180.8 1362,193.5 1378,196.5 1394,206.3 1409.9,189.1 1425.9,193.5 1441.9,188.5 1457.8,206.3 1473.8,206.3 1489.8,191.5 1505.7,193.2 1521.7,197.1 1537.7,195.6 1553.6,198 1569.6,204.8 1585.6,228.5 1601.5,200.1 1617.5,202.4 1633.5,214.3 1649.4,207.5 1665.4,213.4 1681.3,211.9 1697.3,211.9 1713.3,198 1729.2,206 1745.2,199.5 1761.2,188.2 1777.1,204.8 1793.1,210.7 1809.1,207.5 1825,199.5 1841,223.2 1857,192 1872.9,196.2 1888.9,209 1904.9,199.5 1920.8,211.9 1936.8,211.3 1936.8,375.8 1920.8,395.1 1904.9,365.4 1888.9,396 1872.9,381.7 1857,379.3 1841,387.1 1825,374.3 1809.1,372.8 1793.1,398.9 1777.1,377.3 1761.2,364.5 1745.2,365.4 1729.2,396 1713.3,385.6 1697.3,404 1681.3,364.8 1665.4,386.8 1649.4,398.9 1633.5,404 1617.5,388.5 1601.5,399.5 1585.6,386.2 1569.6,395.1 1553.6,381.7 1537.7,356 1521.7,475.7 1505.7,385 1489.8,391.3 1473.8,341.8 1457.8,356.4 1441.9,352.8 1425.9,354.3 1409.9,351.3 1394,432.3 1378,358.8 1362,398.7 1346.1,359 1330.1,352.8 1314.2,345.4 1298.2,340 1282.2,335.6 1266.3,307.4 1250.3,344.8 1234.3,285.2 1218.4,289.6 1202.4,259.3 1186.4,299.4 1170.5,224.2 1154.5,220" fill="#1f77b4" fill-opacity="0.2" stroke="#1f77b4" stroke-opacity="0.2" stroke-width="1.3" stroke-linejoin="round"/>
<polyline points="1154.5,145.3 1170.5,155.7 1186.4,222 1202.4,196.5 1218.4,212.7 1234.3,225 1250.3,236.7 1266.3,216.4 1282.2,242.7 1298.2,234.5 1314.2,234.2 1330.1,244 1346.1,247.3 1362,266 1378,257.3 1394,284.6 1409.9,250.4 1425.9,254.3 1441.9,251 1457.8,265.3 1473.8,260.2 1489.8,262.3 1505.7,262.2 1521.7,284.2 1537.7,255.8 1553.6,265.1 1569.6,273.4 1585.6,288.8 1601.5,270.4 1617.5,269.9 1633.5,283.8 1649.4,276.4 1665.4,277.9 1681.3,271 1697.3,281.7 1713.3,265.4 1729.2,274.9 1745.2,262.1 1761.2,252.6 1777.1,269 1793.1,279.3 1809.1,270.4 1825,264.5 1841,286.8 1857,260.1 1872.9,263.9 1888.9,277.9 1904.9,262.4 1920.8,279.3 1936.8,274" fill="none" stroke="#1f77b4" stroke-width="2.6" stroke-linejoin="round"/>
<circle cx="1154.5" cy="145.3" r="5.45" fill="#1f77b4"/>
<circle cx="1170.5" cy="155.7" r="5.45" fill="#1f77b4"/>
<circle cx="1186.4" cy="222" r="5.45" fill="#1f77b4"/>
<circle cx="1202.4" cy="196.5" r="5.45" fill="#1f77b4"/>
<circle cx="1218.4" cy="212.7" r="5.45" fill="#1f77b4"/>
<circle cx="1234.3" cy="225" r="5.45" fill="#1f77b4"/>
<circle cx="1250.3" cy="236.7" r="5.45" fill="#1f77b4"/>
<circle cx="1266.3" cy="216.4" r="5.45" fill="#1f77b4"/>
<circle cx="1282.2" cy="242.7" r="5.45" fill="#1f77b4"/>
<circle cx="1298.2" cy="234.5" r="5.45" fill="#1f77b4"/>
<circle cx="1314.2" cy="234.2" r="5.45" fill="#1f77b4"/>
<circle cx="1330.1" cy="244" r="5.45" fill="#1f77b4"/>
<circle cx="1346.1" cy="247.3" r="5.45" fill="#1f77b4"/>
<circle cx="1362" cy="266" r="5.45" fill="#1f77b4"/>
<circle cx="1378" cy="257.3" r="5.45" fill="#1f77b4"/>
<circle cx="1394" cy="284.6" r="5.45" fill="#1f77b4"/>
<circle cx="1409.9" cy="250.4" r="5.45" fill="#1f77b4"/>
<circle cx="1425.9" cy="254.3" r="5.45" fill="#1f77b4"/>
<circle cx="1441.9" cy="251" r="5.45" fill="#1f77b4"/>
<circle cx="1457.8" cy="265.3" r="5.45" fill="#1f77b4"/>
<circle cx="1473.8" cy="260.2" r="5.45" fill="#1f77b4"/>
<circle cx="1489.8" cy="262.3" r="5.45" fill="#1f77b4"/>
<circle cx="1505.7" cy="262.2" r="5.45" fill="#1f77b4"/>
<circle cx="1521.7" cy="284.2" r="5.45" fill="#1f77b4"/>
<circle cx="1537.7" cy="255.8" r="5.45" fill="#1f77b4"/>
<circle cx="1553.6" cy="265.1" r="5.45" fill="#1f77b4"/>
<circle cx="1569.6" cy="273.4" r="5.45" fill="#1f77b4"/>
<circle cx="1585.6" cy="288.8" r="5.45" fill="#1f77b4"/>
<circle cx="1601.5" cy="270.4" r="5.45" fill="#1f77b4"/>
<circle cx="1617.5" cy="269.9" r="5.45" fill="#1f77b4"/>
<circle cx="1633.5" cy="283.8" r="5.45" fill="#1f77b4"/>
<circle cx="1649.4" cy="276.4" r="5.45" fill="#1f77b4"/>
<circle cx="1665.4" cy="277.9" r="5.45" fill="#1f77b4"/>
<circle cx="1681.3" cy="271" r="5.45" fill="#1f77b4"/>
<circle cx="1697.3" cy="281.7" r="5.45" fill="#1f77b4"/>
<circle cx="1713.3" cy="265.4" r="5.45" fill="#1f77b4"/>
<circle cx="1729.2" cy="274.9" r="5.45" fill="#1f77b4"/>
<circle cx="1745.2" cy="262.1" r="5.45" fill="#1f77b4"/>
<circle cx="1761.2" cy="252.6" r="5.45" fill="#1f77b4"/>
<circle cx="1777.1" cy="269" r="5.45" fill="#1f77b4"/>
<circle cx="1793.1" cy="279.3" r="5.45" fill="#1f77b4"/>
<circle cx="1809.1" cy="270.4" r="5.45" fill="#1f77b4"/>
<circle cx="1825" cy="264.5" r="5.45" fill="#1f77b4"/>
<circle cx="1841" cy="286.8" r="5.45" fill="#1f77b4"/>
<circle cx="1857" cy="260.1" r="5.45" fill="#1f77b4"/>
<circle cx="1872.9" cy="263.9" r="5.45" fill="#1f77b4"/>
<circle cx="1888.9" cy="277.9" r="5.45" fill="#1f77b4"/>
<circle cx="1904.9" cy="262.4" r="5.45" fill="#1f77b4"/>
<circle cx="1920.8" cy="279.3" r="5.45" fill="#1f77b4"/>
<circle cx="1936.8" cy="274" r="5.45" fill="#1f77b4"/>
<circle cx="1154.5" cy="236.2" r="4.6499999999999995" fill="#ff7f0e" fill-opacity="0.2" stroke="#ff7f0e" stroke-opacity="0.2" stroke-width="1.4"/>
<circle cx="1154.5" cy="253.4" r="4.6499999999999995" fill="#ff7f0e" fill-opacity="0.35" stroke="#ff7f0e" stroke-opacity="0.35" stroke-width="1.4"/>
<circle cx="1154.5" cy="256.4" r="4.6499999999999995" fill="#ff7f0e" fill-opacity="0.5" stroke="#ff7f0e" stroke-opacity="0.5" stroke-width="1.4"/>
<circle cx="1154.5" cy="277.7" r="4.6499999999999995" fill="#ff7f0e" fill-opacity="0.6" stroke="#ff7f0e" stroke-opacity="0.6" stroke-width="1.4"/>
<circle cx="1154.5" cy="284.6" r="4.6499999999999995" fill="#ff7f0e" fill-opacity="0.7" stroke="#ff7f0e" stroke-opacity="0.7" stroke-width="1.4"/>
<circle cx="1154.5" cy="288.4" r="4.6499999999999995" fill="#ff7f0e" fill-opacity="0.8" stroke="#ff7f0e" stroke-opacity="0.8" stroke-width="1.4"/>
<circle cx="1154.5" cy="334.1" r="4.6499999999999995" fill="#ff7f0e" fill-opacity="0.9" stroke="#ff7f0e" stroke-opacity="0.9" stroke-width="1.4"/>
<circle cx="1154.5" cy="367.7" r="4.6499999999999995" fill="#ff7f0e" fill-opacity="1.0" stroke="#ff7f0e" stroke-opacity="1.0" stroke-width="1.4"/>
<circle cx="1170.5" cy="256.4" r="4.6499999999999995" fill="#ff7f0e" fill-opacity="0.2" stroke="#ff7f0e" stroke-opacity="0.2" stroke-width="1.4"/>
<circle cx="1170.5" cy="264.7" r="4.6499999999999995" fill="#ff7f0e" fill-opacity="0.35" stroke="#ff7f0e" stroke-opacity="0.35" stroke-width="1.4"/>
<circle cx="1170.5" cy="277.7" r="4.6499999999999995" fill="#ff7f0e" fill-opacity="0.5" stroke="#ff7f0e" stroke-opacity="0.5" stroke-width="1.4"/>
<circle cx="1170.5" cy="284.6" r="4.6499999999999995" fill="#ff7f0e" fill-opacity="0.6" stroke="#ff7f0e" stroke-opacity="0.6" stroke-width="1.4"/>
<circle cx="1170.5" cy="286" r="4.6499999999999995" fill="#ff7f0e" fill-opacity="0.7" stroke="#ff7f0e" stroke-opacity="0.7" stroke-width="1.4"/>
<circle cx="1170.5" cy="288.4" r="4.6499999999999995" fill="#ff7f0e" fill-opacity="0.8" stroke="#ff7f0e" stroke-opacity="0.8" stroke-width="1.4"/>
<circle cx="1170.5" cy="334.1" r="4.6499999999999995" fill="#ff7f0e" fill-opacity="0.9" stroke="#ff7f0e" stroke-opacity="0.9" stroke-width="1.4"/>
<circle cx="1170.5" cy="367.7" r="4.6499999999999995" fill="#ff7f0e" fill-opacity="1.0" stroke="#ff7f0e" stroke-opacity="1.0" stroke-width="1.4"/>
<circle cx="1186.4" cy="309.8" r="4.6499999999999995" fill="#ff7f0e" fill-opacity="0.2" stroke="#ff7f0e" stroke-opacity="0.2" stroke-width="1.4"/>
<circle cx="1186.4" cy="334.1" r="4.6499999999999995" fill="#ff7f0e" fill-opacity="0.35" stroke="#ff7f0e" stroke-opacity="0.35" stroke-width="1.4"/>
<circle cx="1186.4" cy="343.7" r="4.6499999999999995" fill="#ff7f0e" fill-opacity="0.5" stroke="#ff7f0e" stroke-opacity="0.5" stroke-width="1.4"/>
<circle cx="1186.4" cy="349.7" r="4.6499999999999995" fill="#ff7f0e" fill-opacity="0.6" stroke="#ff7f0e" stroke-opacity="0.6" stroke-width="1.4"/>
<circle cx="1186.4" cy="355.6" r="4.6499999999999995" fill="#ff7f0e" fill-opacity="0.7" stroke="#ff7f0e" stroke-opacity="0.7" stroke-width="1.4"/>
<circle cx="1186.4" cy="360" r="4.6499999999999995" fill="#ff7f0e" fill-opacity="0.8" stroke="#ff7f0e" stroke-opacity="0.8" stroke-width="1.4"/>
<circle cx="1186.4" cy="367.5" r="4.6499999999999995" fill="#ff7f0e" fill-opacity="0.9" stroke="#ff7f0e" stroke-opacity="0.9" stroke-width="1.4"/>
<circle cx="1186.4" cy="488.4" r="4.6499999999999995" fill="#ff7f0e" fill-opacity="1.0" stroke="#ff7f0e" stroke-opacity="1.0" stroke-width="1.4"/>
<circle cx="1202.4" cy="343.7" r="4.6499999999999995" fill="#ff7f0e" fill-opacity="0.2" stroke="#ff7f0e" stroke-opacity="0.2" stroke-width="1.4"/>
<circle cx="1202.4" cy="349.7" r="4.6499999999999995" fill="#ff7f0e" fill-opacity="0.35" stroke="#ff7f0e" stroke-opacity="0.35" stroke-width="1.4"/>
<circle cx="1202.4" cy="356.4" r="4.6499999999999995" fill="#ff7f0e" fill-opacity="0.5" stroke="#ff7f0e" stroke-opacity="0.5" stroke-width="1.4"/>
<circle cx="1202.4" cy="360" r="4.6499999999999995" fill="#ff7f0e" fill-opacity="0.6" stroke="#ff7f0e" stroke-opacity="0.6" stroke-width="1.4"/>
<circle cx="1202.4" cy="363" r="4.6499999999999995" fill="#ff7f0e" fill-opacity="0.7" stroke="#ff7f0e" stroke-opacity="0.7" stroke-width="1.4"/>
<circle cx="1202.4" cy="366" r="4.6499999999999995" fill="#ff7f0e" fill-opacity="0.8" stroke="#ff7f0e" stroke-opacity="0.8" stroke-width="1.4"/>
<circle cx="1202.4" cy="371.2" r="4.6499999999999995" fill="#ff7f0e" fill-opacity="0.9" stroke="#ff7f0e" stroke-opacity="0.9" stroke-width="1.4"/>
<circle cx="1202.4" cy="488.4" r="4.6499999999999995" fill="#ff7f0e" fill-opacity="1.0" stroke="#ff7f0e" stroke-opacity="1.0" stroke-width="1.4"/>
<circle cx="1218.4" cy="357.1" r="4.6499999999999995" fill="#ff7f0e" fill-opacity="0.2" stroke="#ff7f0e" stroke-opacity="0.2" stroke-width="1.4"/>
<circle cx="1218.4" cy="360.8" r="4.6499999999999995" fill="#ff7f0e" fill-opacity="0.35" stroke="#ff7f0e" stroke-opacity="0.35" stroke-width="1.4"/>
<circle cx="1218.4" cy="365" r="4.6499999999999995" fill="#ff7f0e" fill-opacity="0.5" stroke="#ff7f0e" stroke-opacity="0.5" stroke-width="1.4"/>
<circle cx="1218.4" cy="367.5" r="4.6499999999999995" fill="#ff7f0e" fill-opacity="0.6" stroke="#ff7f0e" stroke-opacity="0.6" stroke-width="1.4"/>
<circle cx="1218.4" cy="368" r="4.6499999999999995" fill="#ff7f0e" fill-opacity="0.7" stroke="#ff7f0e" stroke-opacity="0.7" stroke-width="1.4"/>
<circle cx="1218.4" cy="369.5" r="4.6499999999999995" fill="#ff7f0e" fill-opacity="0.8" stroke="#ff7f0e" stroke-opacity="0.8" stroke-width="1.4"/>
<circle cx="1218.4" cy="371.2" r="4.6499999999999995" fill="#ff7f0e" fill-opacity="0.9" stroke="#ff7f0e" stroke-opacity="0.9" stroke-width="1.4"/>
<circle cx="1218.4" cy="488.4" r="4.6499999999999995" fill="#ff7f0e" fill-opacity="1.0" stroke="#ff7f0e" stroke-opacity="1.0" stroke-width="1.4"/>
<circle cx="1234.3" cy="360" r="4.6499999999999995" fill="#ff7f0e" fill-opacity="0.2" stroke="#ff7f0e" stroke-opacity="0.2" stroke-width="1.4"/>
<circle cx="1234.3" cy="365" r="4.6499999999999995" fill="#ff7f0e" fill-opacity="0.35" stroke="#ff7f0e" stroke-opacity="0.35" stroke-width="1.4"/>
<circle cx="1234.3" cy="367.5" r="4.6499999999999995" fill="#ff7f0e" fill-opacity="0.5" stroke="#ff7f0e" stroke-opacity="0.5" stroke-width="1.4"/>
<circle cx="1234.3" cy="368" r="4.6499999999999995" fill="#ff7f0e" fill-opacity="0.6" stroke="#ff7f0e" stroke-opacity="0.6" stroke-width="1.4"/>
<circle cx="1234.3" cy="369" r="4.6499999999999995" fill="#ff7f0e" fill-opacity="0.7" stroke="#ff7f0e" stroke-opacity="0.7" stroke-width="1.4"/>
<circle cx="1234.3" cy="370.5" r="4.6499999999999995" fill="#ff7f0e" fill-opacity="0.8" stroke="#ff7f0e" stroke-opacity="0.8" stroke-width="1.4"/>
<circle cx="1234.3" cy="372" r="4.6499999999999995" fill="#ff7f0e" fill-opacity="0.9" stroke="#ff7f0e" stroke-opacity="0.9" stroke-width="1.4"/>
<circle cx="1234.3" cy="488.4" r="4.6499999999999995" fill="#ff7f0e" fill-opacity="1.0" stroke="#ff7f0e" stroke-opacity="1.0" stroke-width="1.4"/>
<circle cx="1250.3" cy="369" r="4.6499999999999995" fill="#ff7f0e" fill-opacity="0.2" stroke="#ff7f0e" stroke-opacity="0.2" stroke-width="1.4"/>
<circle cx="1250.3" cy="371.2" r="4.6499999999999995" fill="#ff7f0e" fill-opacity="0.35" stroke="#ff7f0e" stroke-opacity="0.35" stroke-width="1.4"/>
<circle cx="1250.3" cy="374.2" r="4.6499999999999995" fill="#ff7f0e" fill-opacity="0.5" stroke="#ff7f0e" stroke-opacity="0.5" stroke-width="1.4"/>
<circle cx="1250.3" cy="377.1" r="4.6499999999999995" fill="#ff7f0e" fill-opacity="0.6" stroke="#ff7f0e" stroke-opacity="0.6" stroke-width="1.4"/>
<circle cx="1250.3" cy="380.1" r="4.6499999999999995" fill="#ff7f0e" fill-opacity="0.7" stroke="#ff7f0e" stroke-opacity="0.7" stroke-width="1.4"/>
<circle cx="1250.3" cy="397.9" r="4.6499999999999995" fill="#ff7f0e" fill-opacity="0.8" stroke="#ff7f0e" stroke-opacity="0.8" stroke-width="1.4"/>
<circle cx="1250.3" cy="428.1" r="4.6499999999999995" fill="#ff7f0e" fill-opacity="0.9" stroke="#ff7f0e" stroke-opacity="0.9" stroke-width="1.4"/>
<circle cx="1250.3" cy="487" r="4.6499999999999995" fill="#ff7f0e" fill-opacity="1.0" stroke="#ff7f0e" stroke-opacity="1.0" stroke-width="1.4"/>
<circle cx="1266.3" cy="373.4" r="4.6499999999999995" fill="#ff7f0e" fill-opacity="0.2" stroke="#ff7f0e" stroke-opacity="0.2" stroke-width="1.4"/>
<circle cx="1266.3" cy="376" r="4.6499999999999995" fill="#ff7f0e" fill-opacity="0.35" stroke="#ff7f0e" stroke-opacity="0.35" stroke-width="1.4"/>
<circle cx="1266.3" cy="378.6" r="4.6499999999999995" fill="#ff7f0e" fill-opacity="0.5" stroke="#ff7f0e" stroke-opacity="0.5" stroke-width="1.4"/>
<circle cx="1266.3" cy="386" r="4.6499999999999995" fill="#ff7f0e" fill-opacity="0.6" stroke="#ff7f0e" stroke-opacity="0.6" stroke-width="1.4"/>
<circle cx="1266.3" cy="397.9" r="4.6499999999999995" fill="#ff7f0e" fill-opacity="0.7" stroke="#ff7f0e" stroke-opacity="0.7" stroke-width="1.4"/>
<circle cx="1266.3" cy="428.1" r="4.6499999999999995" fill="#ff7f0e" fill-opacity="0.8" stroke="#ff7f0e" stroke-opacity="0.8" stroke-width="1.4"/>
<circle cx="1266.3" cy="482" r="4.6499999999999995" fill="#ff7f0e" fill-opacity="0.9" stroke="#ff7f0e" stroke-opacity="0.9" stroke-width="1.4"/>
<circle cx="1266.3" cy="487" r="4.6499999999999995" fill="#ff7f0e" fill-opacity="1.0" stroke="#ff7f0e" stroke-opacity="1.0" stroke-width="1.4"/>
<circle cx="1282.2" cy="382.3" r="4.6499999999999995" fill="#ff7f0e" fill-opacity="0.2" stroke="#ff7f0e" stroke-opacity="0.2" stroke-width="1.4"/>
<circle cx="1282.2" cy="384" r="4.6499999999999995" fill="#ff7f0e" fill-opacity="0.35" stroke="#ff7f0e" stroke-opacity="0.35" stroke-width="1.4"/>
<circle cx="1282.2" cy="386" r="4.6499999999999995" fill="#ff7f0e" fill-opacity="0.5" stroke="#ff7f0e" stroke-opacity="0.5" stroke-width="1.4"/>
<circle cx="1282.2" cy="392.7" r="4.6499999999999995" fill="#ff7f0e" fill-opacity="0.6" stroke="#ff7f0e" stroke-opacity="0.6" stroke-width="1.4"/>
<circle cx="1282.2" cy="397.9" r="4.6499999999999995" fill="#ff7f0e" fill-opacity="0.7" stroke="#ff7f0e" stroke-opacity="0.7" stroke-width="1.4"/>
<circle cx="1282.2" cy="428.1" r="4.6499999999999995" fill="#ff7f0e" fill-opacity="0.8" stroke="#ff7f0e" stroke-opacity="0.8" stroke-width="1.4"/>
<circle cx="1282.2" cy="484" r="4.6499999999999995" fill="#ff7f0e" fill-opacity="0.9" stroke="#ff7f0e" stroke-opacity="0.9" stroke-width="1.4"/>
<circle cx="1282.2" cy="488" r="4.6499999999999995" fill="#ff7f0e" fill-opacity="1.0" stroke="#ff7f0e" stroke-opacity="1.0" stroke-width="1.4"/>
<circle cx="1298.2" cy="424.7" r="4.6499999999999995" fill="#ff7f0e" fill-opacity="0.2" stroke="#ff7f0e" stroke-opacity="0.2" stroke-width="1.4"/>
<circle cx="1298.2" cy="426.5" r="4.6499999999999995" fill="#ff7f0e" fill-opacity="0.35" stroke="#ff7f0e" stroke-opacity="0.35" stroke-width="1.4"/>
<circle cx="1298.2" cy="429" r="4.6499999999999995" fill="#ff7f0e" fill-opacity="0.5" stroke="#ff7f0e" stroke-opacity="0.5" stroke-width="1.4"/>
<circle cx="1298.2" cy="433" r="4.6499999999999995" fill="#ff7f0e" fill-opacity="0.6" stroke="#ff7f0e" stroke-opacity="0.6" stroke-width="1.4"/>
<circle cx="1298.2" cy="475.5" r="4.6499999999999995" fill="#ff7f0e" fill-opacity="0.7" stroke="#ff7f0e" stroke-opacity="0.7" stroke-width="1.4"/>
<circle cx="1298.2" cy="483" r="4.6499999999999995" fill="#ff7f0e" fill-opacity="0.8" stroke="#ff7f0e" stroke-opacity="0.8" stroke-width="1.4"/>
<circle cx="1298.2" cy="486" r="4.6499999999999995" fill="#ff7f0e" fill-opacity="0.9" stroke="#ff7f0e" stroke-opacity="0.9" stroke-width="1.4"/>
<circle cx="1298.2" cy="489" r="4.6499999999999995" fill="#ff7f0e" fill-opacity="1.0" stroke="#ff7f0e" stroke-opacity="1.0" stroke-width="1.4"/>
<circle cx="1314.2" cy="431" r="4.6499999999999995" fill="#ff7f0e" fill-opacity="0.15" stroke="#ff7f0e" stroke-opacity="0.15" stroke-width="1.4"/>
<circle cx="1314.2" cy="432" r="4.6499999999999995" fill="#ff7f0e" fill-opacity="0.3" stroke="#ff7f0e" stroke-opacity="0.3" stroke-width="1.4"/>
<circle cx="1314.2" cy="453.7" r="4.6499999999999995" fill="#ff7f0e" fill-opacity="0.3" stroke="#ff7f0e" stroke-opacity="0.3" stroke-width="1.4"/>
<circle cx="1314.2" cy="476.6" r="4.6499999999999995" fill="#ff7f0e" fill-opacity="0.5" stroke="#ff7f0e" stroke-opacity="0.5" stroke-width="1.4"/>
<circle cx="1314.2" cy="482.8" r="4.6499999999999995" fill="#ff7f0e" fill-opacity="0.7" stroke="#ff7f0e" stroke-opacity="0.7" stroke-width="1.4"/>
<circle cx="1314.2" cy="484.5" r="4.6499999999999995" fill="#ff7f0e" fill-opacity="0.8" stroke="#ff7f0e" stroke-opacity="0.8" stroke-width="1.4"/>
<circle cx="1314.2" cy="487" r="4.6499999999999995" fill="#ff7f0e" fill-opacity="0.9" stroke="#ff7f0e" stroke-opacity="0.9" stroke-width="1.4"/>
<circle cx="1314.2" cy="489" r="4.6499999999999995" fill="#ff7f0e" fill-opacity="1" stroke="#ff7f0e" stroke-opacity="1" stroke-width="1.4"/>
<circle cx="1330.1" cy="468.3" r="4.6499999999999995" fill="#ff7f0e" fill-opacity="0.2" stroke="#ff7f0e" stroke-opacity="0.2" stroke-width="1.4"/>
<circle cx="1330.1" cy="469.3" r="4.6499999999999995" fill="#ff7f0e" fill-opacity="0.35" stroke="#ff7f0e" stroke-opacity="0.35" stroke-width="1.4"/>
<circle cx="1330.1" cy="473" r="4.6499999999999995" fill="#ff7f0e" fill-opacity="0.5" stroke="#ff7f0e" stroke-opacity="0.5" stroke-width="1.4"/>
<circle cx="1330.1" cy="476.6" r="4.6499999999999995" fill="#ff7f0e" fill-opacity="0.6" stroke="#ff7f0e" stroke-opacity="0.6" stroke-width="1.4"/>
<circle cx="1330.1" cy="483" r="4.6499999999999995" fill="#ff7f0e" fill-opacity="0.7" stroke="#ff7f0e" stroke-opacity="0.7" stroke-width="1.4"/>
<circle cx="1330.1" cy="486" r="4.6499999999999995" fill="#ff7f0e" fill-opacity="0.8" stroke="#ff7f0e" stroke-opacity="0.8" stroke-width="1.4"/>
<circle cx="1330.1" cy="489" r="4.6499999999999995" fill="#ff7f0e" fill-opacity="0.9" stroke="#ff7f0e" stroke-opacity="0.9" stroke-width="1.4"/>
<clipPath id="cb_d11_0"><rect x="1322.1" y="503" width="16" height="8.3"/></clipPath>
<circle cx="1330.1" cy="507.2" r="4.6499999999999995" fill="#ff7f0e" fill-opacity="1.0" stroke="#ff7f0e" stroke-opacity="1.0" stroke-width="1.4" clip-path="url(#cb_d11_0)"/>
<circle cx="1346.1" cy="468.3" r="4.6499999999999995" fill="#ff7f0e" fill-opacity="0.2" stroke="#ff7f0e" stroke-opacity="0.2" stroke-width="1.4"/>
<circle cx="1346.1" cy="469.3" r="4.6499999999999995" fill="#ff7f0e" fill-opacity="0.35" stroke="#ff7f0e" stroke-opacity="0.35" stroke-width="1.4"/>
<circle cx="1346.1" cy="473" r="4.6499999999999995" fill="#ff7f0e" fill-opacity="0.5" stroke="#ff7f0e" stroke-opacity="0.5" stroke-width="1.4"/>
<circle cx="1346.1" cy="476.6" r="4.6499999999999995" fill="#ff7f0e" fill-opacity="0.6" stroke="#ff7f0e" stroke-opacity="0.6" stroke-width="1.4"/>
<circle cx="1346.1" cy="483" r="4.6499999999999995" fill="#ff7f0e" fill-opacity="0.7" stroke="#ff7f0e" stroke-opacity="0.7" stroke-width="1.4"/>
<circle cx="1346.1" cy="486" r="4.6499999999999995" fill="#ff7f0e" fill-opacity="0.8" stroke="#ff7f0e" stroke-opacity="0.8" stroke-width="1.4"/>
<circle cx="1346.1" cy="489" r="4.6499999999999995" fill="#ff7f0e" fill-opacity="0.9" stroke="#ff7f0e" stroke-opacity="0.9" stroke-width="1.4"/>
<clipPath id="cb_d12_0"><rect x="1338.1" y="503" width="16" height="8.3"/></clipPath>
<circle cx="1346.1" cy="507.2" r="4.6499999999999995" fill="#ff7f0e" fill-opacity="1.0" stroke="#ff7f0e" stroke-opacity="1.0" stroke-width="1.4" clip-path="url(#cb_d12_0)"/>
<circle cx="1362" cy="477.2" r="4.6499999999999995" fill="#ff7f0e" fill-opacity="0.2" stroke="#ff7f0e" stroke-opacity="0.2" stroke-width="1.4"/>
<circle cx="1362" cy="480" r="4.6499999999999995" fill="#ff7f0e" fill-opacity="0.35" stroke="#ff7f0e" stroke-opacity="0.35" stroke-width="1.4"/>
<circle cx="1362" cy="483.1" r="4.6499999999999995" fill="#ff7f0e" fill-opacity="0.5" stroke="#ff7f0e" stroke-opacity="0.5" stroke-width="1.4"/>
<circle cx="1362" cy="486" r="4.6499999999999995" fill="#ff7f0e" fill-opacity="0.6" stroke="#ff7f0e" stroke-opacity="0.6" stroke-width="1.4"/>
<circle cx="1362" cy="489.1" r="4.6499999999999995" fill="#ff7f0e" fill-opacity="0.7" stroke="#ff7f0e" stroke-opacity="0.7" stroke-width="1.4"/>
<circle cx="1362" cy="506.9" r="4.6499999999999995" fill="#ff7f0e" fill-opacity="0.8" stroke="#ff7f0e" stroke-opacity="0.8" stroke-width="1.4"/>
<circle cx="1362" cy="511.3" r="4.6499999999999995" fill="#ff7f0e" fill-opacity="0.9" stroke="#ff7f0e" stroke-opacity="0.9" stroke-width="1.4"/>
<circle cx="1362" cy="535.1" r="4.6499999999999995" fill="#ff7f0e" fill-opacity="1.0" stroke="#ff7f0e" stroke-opacity="1.0" stroke-width="1.4"/>
<circle cx="1378" cy="480" r="4.6499999999999995" fill="#ff7f0e" fill-opacity="0.2" stroke="#ff7f0e" stroke-opacity="0.2" stroke-width="1.4"/>
<circle cx="1378" cy="483.1" r="4.6499999999999995" fill="#ff7f0e" fill-opacity="0.35" stroke="#ff7f0e" stroke-opacity="0.35" stroke-width="1.4"/>
<circle cx="1378" cy="486" r="4.6499999999999995" fill="#ff7f0e" fill-opacity="0.5" stroke="#ff7f0e" stroke-opacity="0.5" stroke-width="1.4"/>
<circle cx="1378" cy="489.1" r="4.6499999999999995" fill="#ff7f0e" fill-opacity="0.6" stroke="#ff7f0e" stroke-opacity="0.6" stroke-width="1.4"/>
<circle cx="1378" cy="506.9" r="4.6499999999999995" fill="#ff7f0e" fill-opacity="0.7" stroke="#ff7f0e" stroke-opacity="0.7" stroke-width="1.4"/>
<circle cx="1378" cy="511.3" r="4.6499999999999995" fill="#ff7f0e" fill-opacity="0.8" stroke="#ff7f0e" stroke-opacity="0.8" stroke-width="1.4"/>
<circle cx="1378" cy="532.6" r="4.6499999999999995" fill="#ff7f0e" fill-opacity="0.9" stroke="#ff7f0e" stroke-opacity="0.9" stroke-width="1.4"/>
<circle cx="1378" cy="534.4" r="4.6499999999999995" fill="#ff7f0e" fill-opacity="1.0" stroke="#ff7f0e" stroke-opacity="1.0" stroke-width="1.4"/>
<circle cx="1394" cy="483.1" r="4.6499999999999995" fill="#ff7f0e" fill-opacity="0.2" stroke="#ff7f0e" stroke-opacity="0.2" stroke-width="1.4"/>
<circle cx="1394" cy="487.6" r="4.6499999999999995" fill="#ff7f0e" fill-opacity="0.35" stroke="#ff7f0e" stroke-opacity="0.35" stroke-width="1.4"/>
<circle cx="1394" cy="489.1" r="4.6499999999999995" fill="#ff7f0e" fill-opacity="0.5" stroke="#ff7f0e" stroke-opacity="0.5" stroke-width="1.4"/>
<circle cx="1394" cy="492" r="4.6499999999999995" fill="#ff7f0e" fill-opacity="0.6" stroke="#ff7f0e" stroke-opacity="0.6" stroke-width="1.4"/>
<circle cx="1394" cy="506.9" r="4.6499999999999995" fill="#ff7f0e" fill-opacity="0.7" stroke="#ff7f0e" stroke-opacity="0.7" stroke-width="1.4"/>
<circle cx="1394" cy="511.3" r="4.6499999999999995" fill="#ff7f0e" fill-opacity="0.8" stroke="#ff7f0e" stroke-opacity="0.8" stroke-width="1.4"/>
<circle cx="1394" cy="532.6" r="4.6499999999999995" fill="#ff7f0e" fill-opacity="0.9" stroke="#ff7f0e" stroke-opacity="0.9" stroke-width="1.4"/>
<circle cx="1394" cy="534.4" r="4.6499999999999995" fill="#ff7f0e" fill-opacity="1.0" stroke="#ff7f0e" stroke-opacity="1.0" stroke-width="1.4"/>
<circle cx="1409.9" cy="483.1" r="4.6499999999999995" fill="#ff7f0e" fill-opacity="0.2" stroke="#ff7f0e" stroke-opacity="0.2" stroke-width="1.4"/>
<circle cx="1409.9" cy="487.6" r="4.6499999999999995" fill="#ff7f0e" fill-opacity="0.35" stroke="#ff7f0e" stroke-opacity="0.35" stroke-width="1.4"/>
<circle cx="1409.9" cy="489.1" r="4.6499999999999995" fill="#ff7f0e" fill-opacity="0.5" stroke="#ff7f0e" stroke-opacity="0.5" stroke-width="1.4"/>
<circle cx="1409.9" cy="492" r="4.6499999999999995" fill="#ff7f0e" fill-opacity="0.6" stroke="#ff7f0e" stroke-opacity="0.6" stroke-width="1.4"/>
<circle cx="1409.9" cy="506.9" r="4.6499999999999995" fill="#ff7f0e" fill-opacity="0.7" stroke="#ff7f0e" stroke-opacity="0.7" stroke-width="1.4"/>
<circle cx="1409.9" cy="511.3" r="4.6499999999999995" fill="#ff7f0e" fill-opacity="0.8" stroke="#ff7f0e" stroke-opacity="0.8" stroke-width="1.4"/>
<circle cx="1409.9" cy="532.6" r="4.6499999999999995" fill="#ff7f0e" fill-opacity="0.9" stroke="#ff7f0e" stroke-opacity="0.9" stroke-width="1.4"/>
<circle cx="1409.9" cy="534.4" r="4.6499999999999995" fill="#ff7f0e" fill-opacity="1.0" stroke="#ff7f0e" stroke-opacity="1.0" stroke-width="1.4"/>
<circle cx="1425.9" cy="483.1" r="4.6499999999999995" fill="#ff7f0e" fill-opacity="0.2" stroke="#ff7f0e" stroke-opacity="0.2" stroke-width="1.4"/>
<circle cx="1425.9" cy="487.6" r="4.6499999999999995" fill="#ff7f0e" fill-opacity="0.35" stroke="#ff7f0e" stroke-opacity="0.35" stroke-width="1.4"/>
<circle cx="1425.9" cy="489.1" r="4.6499999999999995" fill="#ff7f0e" fill-opacity="0.5" stroke="#ff7f0e" stroke-opacity="0.5" stroke-width="1.4"/>
<circle cx="1425.9" cy="492" r="4.6499999999999995" fill="#ff7f0e" fill-opacity="0.6" stroke="#ff7f0e" stroke-opacity="0.6" stroke-width="1.4"/>
<circle cx="1425.9" cy="506.9" r="4.6499999999999995" fill="#ff7f0e" fill-opacity="0.7" stroke="#ff7f0e" stroke-opacity="0.7" stroke-width="1.4"/>
<circle cx="1425.9" cy="511.3" r="4.6499999999999995" fill="#ff7f0e" fill-opacity="0.8" stroke="#ff7f0e" stroke-opacity="0.8" stroke-width="1.4"/>
<circle cx="1425.9" cy="532.6" r="4.6499999999999995" fill="#ff7f0e" fill-opacity="0.9" stroke="#ff7f0e" stroke-opacity="0.9" stroke-width="1.4"/>
<circle cx="1425.9" cy="534.4" r="4.6499999999999995" fill="#ff7f0e" fill-opacity="1.0" stroke="#ff7f0e" stroke-opacity="1.0" stroke-width="1.4"/>
<circle cx="1441.9" cy="483.1" r="4.6499999999999995" fill="#ff7f0e" fill-opacity="0.2" stroke="#ff7f0e" stroke-opacity="0.2" stroke-width="1.4"/>
<circle cx="1441.9" cy="487.6" r="4.6499999999999995" fill="#ff7f0e" fill-opacity="0.35" stroke="#ff7f0e" stroke-opacity="0.35" stroke-width="1.4"/>
<circle cx="1441.9" cy="489.1" r="4.6499999999999995" fill="#ff7f0e" fill-opacity="0.5" stroke="#ff7f0e" stroke-opacity="0.5" stroke-width="1.4"/>
<circle cx="1441.9" cy="492" r="4.6499999999999995" fill="#ff7f0e" fill-opacity="0.6" stroke="#ff7f0e" stroke-opacity="0.6" stroke-width="1.4"/>
<circle cx="1441.9" cy="506.9" r="4.6499999999999995" fill="#ff7f0e" fill-opacity="0.7" stroke="#ff7f0e" stroke-opacity="0.7" stroke-width="1.4"/>
<circle cx="1441.9" cy="511.3" r="4.6499999999999995" fill="#ff7f0e" fill-opacity="0.8" stroke="#ff7f0e" stroke-opacity="0.8" stroke-width="1.4"/>
<circle cx="1441.9" cy="532.6" r="4.6499999999999995" fill="#ff7f0e" fill-opacity="0.9" stroke="#ff7f0e" stroke-opacity="0.9" stroke-width="1.4"/>
<circle cx="1441.9" cy="534.4" r="4.6499999999999995" fill="#ff7f0e" fill-opacity="1.0" stroke="#ff7f0e" stroke-opacity="1.0" stroke-width="1.4"/>
<circle cx="1457.8" cy="489" r="4.6499999999999995" fill="#ff7f0e" fill-opacity="0.2" stroke="#ff7f0e" stroke-opacity="0.2" stroke-width="1.4"/>
<circle cx="1457.8" cy="491.5" r="4.6499999999999995" fill="#ff7f0e" fill-opacity="0.35" stroke="#ff7f0e" stroke-opacity="0.35" stroke-width="1.4"/>
<circle cx="1457.8" cy="507" r="4.6499999999999995" fill="#ff7f0e" fill-opacity="0.5" stroke="#ff7f0e" stroke-opacity="0.5" stroke-width="1.4"/>
<circle cx="1457.8" cy="508" r="4.6499999999999995" fill="#ff7f0e" fill-opacity="0.6" stroke="#ff7f0e" stroke-opacity="0.6" stroke-width="1.4"/>
<circle cx="1457.8" cy="516" r="4.6499999999999995" fill="#ff7f0e" fill-opacity="0.7" stroke="#ff7f0e" stroke-opacity="0.7" stroke-width="1.4"/>
<circle cx="1457.8" cy="517" r="4.6499999999999995" fill="#ff7f0e" fill-opacity="0.8" stroke="#ff7f0e" stroke-opacity="0.8" stroke-width="1.4"/>
<circle cx="1457.8" cy="532" r="4.6499999999999995" fill="#ff7f0e" fill-opacity="0.9" stroke="#ff7f0e" stroke-opacity="0.9" stroke-width="1.4"/>
<circle cx="1457.8" cy="535" r="4.6499999999999995" fill="#ff7f0e" fill-opacity="1.0" stroke="#ff7f0e" stroke-opacity="1.0" stroke-width="1.4"/>
<circle cx="1473.8" cy="489" r="4.6499999999999995" fill="#ff7f0e" fill-opacity="0.2" stroke="#ff7f0e" stroke-opacity="0.2" stroke-width="1.4"/>
<circle cx="1473.8" cy="491.5" r="4.6499999999999995" fill="#ff7f0e" fill-opacity="0.35" stroke="#ff7f0e" stroke-opacity="0.35" stroke-width="1.4"/>
<circle cx="1473.8" cy="507" r="4.6499999999999995" fill="#ff7f0e" fill-opacity="0.5" stroke="#ff7f0e" stroke-opacity="0.5" stroke-width="1.4"/>
<circle cx="1473.8" cy="508" r="4.6499999999999995" fill="#ff7f0e" fill-opacity="0.6" stroke="#ff7f0e" stroke-opacity="0.6" stroke-width="1.4"/>
<circle cx="1473.8" cy="516" r="4.6499999999999995" fill="#ff7f0e" fill-opacity="0.7" stroke="#ff7f0e" stroke-opacity="0.7" stroke-width="1.4"/>
<circle cx="1473.8" cy="517" r="4.6499999999999995" fill="#ff7f0e" fill-opacity="0.8" stroke="#ff7f0e" stroke-opacity="0.8" stroke-width="1.4"/>
<circle cx="1473.8" cy="532" r="4.6499999999999995" fill="#ff7f0e" fill-opacity="0.9" stroke="#ff7f0e" stroke-opacity="0.9" stroke-width="1.4"/>
<circle cx="1473.8" cy="535" r="4.6499999999999995" fill="#ff7f0e" fill-opacity="1.0" stroke="#ff7f0e" stroke-opacity="1.0" stroke-width="1.4"/>
<circle cx="1489.8" cy="489" r="4.6499999999999995" fill="#ff7f0e" fill-opacity="0.2" stroke="#ff7f0e" stroke-opacity="0.2" stroke-width="1.4"/>
<circle cx="1489.8" cy="491.5" r="4.6499999999999995" fill="#ff7f0e" fill-opacity="0.35" stroke="#ff7f0e" stroke-opacity="0.35" stroke-width="1.4"/>
<circle cx="1489.8" cy="507" r="4.6499999999999995" fill="#ff7f0e" fill-opacity="0.5" stroke="#ff7f0e" stroke-opacity="0.5" stroke-width="1.4"/>
<circle cx="1489.8" cy="508" r="4.6499999999999995" fill="#ff7f0e" fill-opacity="0.6" stroke="#ff7f0e" stroke-opacity="0.6" stroke-width="1.4"/>
<circle cx="1489.8" cy="516" r="4.6499999999999995" fill="#ff7f0e" fill-opacity="0.7" stroke="#ff7f0e" stroke-opacity="0.7" stroke-width="1.4"/>
<circle cx="1489.8" cy="517" r="4.6499999999999995" fill="#ff7f0e" fill-opacity="0.8" stroke="#ff7f0e" stroke-opacity="0.8" stroke-width="1.4"/>
<circle cx="1489.8" cy="532" r="4.6499999999999995" fill="#ff7f0e" fill-opacity="0.9" stroke="#ff7f0e" stroke-opacity="0.9" stroke-width="1.4"/>
<circle cx="1489.8" cy="535" r="4.6499999999999995" fill="#ff7f0e" fill-opacity="1.0" stroke="#ff7f0e" stroke-opacity="1.0" stroke-width="1.4"/>
<circle cx="1505.7" cy="492.1" r="4.6499999999999995" fill="#ff7f0e" fill-opacity="0.2" stroke="#ff7f0e" stroke-opacity="0.2" stroke-width="1.4"/>
<circle cx="1505.7" cy="505.5" r="4.6499999999999995" fill="#ff7f0e" fill-opacity="0.25" stroke="#ff7f0e" stroke-opacity="0.25" stroke-width="1.4"/>
<circle cx="1505.7" cy="506.5" r="4.6499999999999995" fill="#ff7f0e" fill-opacity="0.4" stroke="#ff7f0e" stroke-opacity="0.4" stroke-width="1.4"/>
<circle cx="1505.7" cy="511.3" r="4.6499999999999995" fill="#ff7f0e" fill-opacity="0.45" stroke="#ff7f0e" stroke-opacity="0.45" stroke-width="1.4"/>
<circle cx="1505.7" cy="517" r="4.6499999999999995" fill="#ff7f0e" fill-opacity="0.3" stroke="#ff7f0e" stroke-opacity="0.3" stroke-width="1.4"/>
<circle cx="1505.7" cy="518.1" r="4.6499999999999995" fill="#ff7f0e" fill-opacity="0.6" stroke="#ff7f0e" stroke-opacity="0.6" stroke-width="1.4"/>
<circle cx="1505.7" cy="530.6" r="4.6499999999999995" fill="#ff7f0e" fill-opacity="0.9" stroke="#ff7f0e" stroke-opacity="0.9" stroke-width="1.4"/>
<circle cx="1505.7" cy="535" r="4.6499999999999995" fill="#ff7f0e" fill-opacity="1" stroke="#ff7f0e" stroke-opacity="1" stroke-width="1.4"/>
<circle cx="1521.7" cy="506" r="4.6499999999999995" fill="#ff7f0e" fill-opacity="0.2" stroke="#ff7f0e" stroke-opacity="0.2" stroke-width="1.4"/>
<circle cx="1521.7" cy="506.5" r="4.6499999999999995" fill="#ff7f0e" fill-opacity="0.35" stroke="#ff7f0e" stroke-opacity="0.35" stroke-width="1.4"/>
<circle cx="1521.7" cy="510" r="4.6499999999999995" fill="#ff7f0e" fill-opacity="0.2" stroke="#ff7f0e" stroke-opacity="0.2" stroke-width="1.4"/>
<circle cx="1521.7" cy="511.8" r="4.6499999999999995" fill="#ff7f0e" fill-opacity="0.45" stroke="#ff7f0e" stroke-opacity="0.45" stroke-width="1.4"/>
<circle cx="1521.7" cy="517.5" r="4.6499999999999995" fill="#ff7f0e" fill-opacity="0.3" stroke="#ff7f0e" stroke-opacity="0.3" stroke-width="1.4"/>
<circle cx="1521.7" cy="518.6" r="4.6499999999999995" fill="#ff7f0e" fill-opacity="0.6" stroke="#ff7f0e" stroke-opacity="0.6" stroke-width="1.4"/>
<circle cx="1521.7" cy="530.6" r="4.6499999999999995" fill="#ff7f0e" fill-opacity="0.9" stroke="#ff7f0e" stroke-opacity="0.9" stroke-width="1.4"/>
<circle cx="1521.7" cy="535" r="4.6499999999999995" fill="#ff7f0e" fill-opacity="1" stroke="#ff7f0e" stroke-opacity="1" stroke-width="1.4"/>
<circle cx="1537.7" cy="506" r="4.6499999999999995" fill="#ff7f0e" fill-opacity="0.2" stroke="#ff7f0e" stroke-opacity="0.2" stroke-width="1.4"/>
<circle cx="1537.7" cy="506.5" r="4.6499999999999995" fill="#ff7f0e" fill-opacity="0.35" stroke="#ff7f0e" stroke-opacity="0.35" stroke-width="1.4"/>
<circle cx="1537.7" cy="510" r="4.6499999999999995" fill="#ff7f0e" fill-opacity="0.2" stroke="#ff7f0e" stroke-opacity="0.2" stroke-width="1.4"/>
<circle cx="1537.7" cy="511.8" r="4.6499999999999995" fill="#ff7f0e" fill-opacity="0.45" stroke="#ff7f0e" stroke-opacity="0.45" stroke-width="1.4"/>
<circle cx="1537.7" cy="517.5" r="4.6499999999999995" fill="#ff7f0e" fill-opacity="0.3" stroke="#ff7f0e" stroke-opacity="0.3" stroke-width="1.4"/>
<circle cx="1537.7" cy="518.6" r="4.6499999999999995" fill="#ff7f0e" fill-opacity="0.6" stroke="#ff7f0e" stroke-opacity="0.6" stroke-width="1.4"/>
<circle cx="1537.7" cy="530.6" r="4.6499999999999995" fill="#ff7f0e" fill-opacity="0.9" stroke="#ff7f0e" stroke-opacity="0.9" stroke-width="1.4"/>
<circle cx="1537.7" cy="535" r="4.6499999999999995" fill="#ff7f0e" fill-opacity="1" stroke="#ff7f0e" stroke-opacity="1" stroke-width="1.4"/>
<circle cx="1553.6" cy="506" r="4.6499999999999995" fill="#ff7f0e" fill-opacity="0.2" stroke="#ff7f0e" stroke-opacity="0.2" stroke-width="1.4"/>
<circle cx="1553.6" cy="506.5" r="4.6499999999999995" fill="#ff7f0e" fill-opacity="0.35" stroke="#ff7f0e" stroke-opacity="0.35" stroke-width="1.4"/>
<circle cx="1553.6" cy="510" r="4.6499999999999995" fill="#ff7f0e" fill-opacity="0.2" stroke="#ff7f0e" stroke-opacity="0.2" stroke-width="1.4"/>
<circle cx="1553.6" cy="511.8" r="4.6499999999999995" fill="#ff7f0e" fill-opacity="0.45" stroke="#ff7f0e" stroke-opacity="0.45" stroke-width="1.4"/>
<circle cx="1553.6" cy="517.5" r="4.6499999999999995" fill="#ff7f0e" fill-opacity="0.3" stroke="#ff7f0e" stroke-opacity="0.3" stroke-width="1.4"/>
<circle cx="1553.6" cy="518.6" r="4.6499999999999995" fill="#ff7f0e" fill-opacity="0.6" stroke="#ff7f0e" stroke-opacity="0.6" stroke-width="1.4"/>
<circle cx="1553.6" cy="530.6" r="4.6499999999999995" fill="#ff7f0e" fill-opacity="0.9" stroke="#ff7f0e" stroke-opacity="0.9" stroke-width="1.4"/>
<circle cx="1553.6" cy="535" r="4.6499999999999995" fill="#ff7f0e" fill-opacity="1" stroke="#ff7f0e" stroke-opacity="1" stroke-width="1.4"/>
<circle cx="1569.6" cy="510.5" r="4.6499999999999995" fill="#ff7f0e" fill-opacity="0.15" stroke="#ff7f0e" stroke-opacity="0.15" stroke-width="1.4"/>
<circle cx="1569.6" cy="511" r="4.6499999999999995" fill="#ff7f0e" fill-opacity="0.2" stroke="#ff7f0e" stroke-opacity="0.2" stroke-width="1.4"/>
<circle cx="1569.6" cy="511.5" r="4.6499999999999995" fill="#ff7f0e" fill-opacity="0.2" stroke="#ff7f0e" stroke-opacity="0.2" stroke-width="1.4"/>
<circle cx="1569.6" cy="512" r="4.6499999999999995" fill="#ff7f0e" fill-opacity="0.35" stroke="#ff7f0e" stroke-opacity="0.35" stroke-width="1.4"/>
<circle cx="1569.6" cy="518" r="4.6499999999999995" fill="#ff7f0e" fill-opacity="0.3" stroke="#ff7f0e" stroke-opacity="0.3" stroke-width="1.4"/>
<circle cx="1569.6" cy="519" r="4.6499999999999995" fill="#ff7f0e" fill-opacity="0.6" stroke="#ff7f0e" stroke-opacity="0.6" stroke-width="1.4"/>
<circle cx="1569.6" cy="530.6" r="4.6499999999999995" fill="#ff7f0e" fill-opacity="0.9" stroke="#ff7f0e" stroke-opacity="0.9" stroke-width="1.4"/>
<circle cx="1569.6" cy="535" r="4.6499999999999995" fill="#ff7f0e" fill-opacity="1" stroke="#ff7f0e" stroke-opacity="1" stroke-width="1.4"/>
<circle cx="1585.6" cy="512.8" r="4.6499999999999995" fill="#ff7f0e" fill-opacity="0.15" stroke="#ff7f0e" stroke-opacity="0.15" stroke-width="1.4"/>
<circle cx="1585.6" cy="513" r="4.6499999999999995" fill="#ff7f0e" fill-opacity="0.2" stroke="#ff7f0e" stroke-opacity="0.2" stroke-width="1.4"/>
<circle cx="1585.6" cy="513.5" r="4.6499999999999995" fill="#ff7f0e" fill-opacity="0.25" stroke="#ff7f0e" stroke-opacity="0.25" stroke-width="1.4"/>
<circle cx="1585.6" cy="518.6" r="4.6499999999999995" fill="#ff7f0e" fill-opacity="0.3" stroke="#ff7f0e" stroke-opacity="0.3" stroke-width="1.4"/>
<circle cx="1585.6" cy="519" r="4.6499999999999995" fill="#ff7f0e" fill-opacity="0.5" stroke="#ff7f0e" stroke-opacity="0.5" stroke-width="1.4"/>
<circle cx="1585.6" cy="527.7" r="4.6499999999999995" fill="#ff7f0e" fill-opacity="0.8" stroke="#ff7f0e" stroke-opacity="0.8" stroke-width="1.4"/>
<circle cx="1585.6" cy="531" r="4.6499999999999995" fill="#ff7f0e" fill-opacity="0.9" stroke="#ff7f0e" stroke-opacity="0.9" stroke-width="1.4"/>
<circle cx="1585.6" cy="535" r="4.6499999999999995" fill="#ff7f0e" fill-opacity="1" stroke="#ff7f0e" stroke-opacity="1" stroke-width="1.4"/>
<circle cx="1601.5" cy="511.7" r="4.6499999999999995" fill="#ff7f0e" fill-opacity="0.15" stroke="#ff7f0e" stroke-opacity="0.15" stroke-width="1.4"/>
<circle cx="1601.5" cy="513" r="4.6499999999999995" fill="#ff7f0e" fill-opacity="0.2" stroke="#ff7f0e" stroke-opacity="0.2" stroke-width="1.4"/>
<circle cx="1601.5" cy="516" r="4.6499999999999995" fill="#ff7f0e" fill-opacity="0.25" stroke="#ff7f0e" stroke-opacity="0.25" stroke-width="1.4"/>
<circle cx="1601.5" cy="519.5" r="4.6499999999999995" fill="#ff7f0e" fill-opacity="0.35" stroke="#ff7f0e" stroke-opacity="0.35" stroke-width="1.4"/>
<circle cx="1601.5" cy="523" r="4.6499999999999995" fill="#ff7f0e" fill-opacity="0.6" stroke="#ff7f0e" stroke-opacity="0.6" stroke-width="1.4"/>
<circle cx="1601.5" cy="528" r="4.6499999999999995" fill="#ff7f0e" fill-opacity="0.8" stroke="#ff7f0e" stroke-opacity="0.8" stroke-width="1.4"/>
<circle cx="1601.5" cy="532" r="4.6499999999999995" fill="#ff7f0e" fill-opacity="0.9" stroke="#ff7f0e" stroke-opacity="0.9" stroke-width="1.4"/>
<circle cx="1601.5" cy="535" r="4.6499999999999995" fill="#ff7f0e" fill-opacity="1" stroke="#ff7f0e" stroke-opacity="1" stroke-width="1.4"/>
<circle cx="1617.5" cy="511.7" r="4.6499999999999995" fill="#ff7f0e" fill-opacity="0.15" stroke="#ff7f0e" stroke-opacity="0.15" stroke-width="1.4"/>
<circle cx="1617.5" cy="513" r="4.6499999999999995" fill="#ff7f0e" fill-opacity="0.2" stroke="#ff7f0e" stroke-opacity="0.2" stroke-width="1.4"/>
<circle cx="1617.5" cy="516" r="4.6499999999999995" fill="#ff7f0e" fill-opacity="0.25" stroke="#ff7f0e" stroke-opacity="0.25" stroke-width="1.4"/>
<circle cx="1617.5" cy="519.5" r="4.6499999999999995" fill="#ff7f0e" fill-opacity="0.35" stroke="#ff7f0e" stroke-opacity="0.35" stroke-width="1.4"/>
<circle cx="1617.5" cy="523" r="4.6499999999999995" fill="#ff7f0e" fill-opacity="0.6" stroke="#ff7f0e" stroke-opacity="0.6" stroke-width="1.4"/>
<circle cx="1617.5" cy="528" r="4.6499999999999995" fill="#ff7f0e" fill-opacity="0.8" stroke="#ff7f0e" stroke-opacity="0.8" stroke-width="1.4"/>
<circle cx="1617.5" cy="532" r="4.6499999999999995" fill="#ff7f0e" fill-opacity="0.9" stroke="#ff7f0e" stroke-opacity="0.9" stroke-width="1.4"/>
<circle cx="1617.5" cy="535" r="4.6499999999999995" fill="#ff7f0e" fill-opacity="1" stroke="#ff7f0e" stroke-opacity="1" stroke-width="1.4"/>
<circle cx="1633.5" cy="515.4" r="4.6499999999999995" fill="#ff7f0e" fill-opacity="0.2" stroke="#ff7f0e" stroke-opacity="0.2" stroke-width="1.4"/>
<circle cx="1633.5" cy="523" r="4.6499999999999995" fill="#ff7f0e" fill-opacity="0.35" stroke="#ff7f0e" stroke-opacity="0.35" stroke-width="1.4"/>
<circle cx="1633.5" cy="523.5" r="4.6499999999999995" fill="#ff7f0e" fill-opacity="0.5" stroke="#ff7f0e" stroke-opacity="0.5" stroke-width="1.4"/>
<circle cx="1633.5" cy="525" r="4.6499999999999995" fill="#ff7f0e" fill-opacity="0.6" stroke="#ff7f0e" stroke-opacity="0.6" stroke-width="1.4"/>
<circle cx="1633.5" cy="527.7" r="4.6499999999999995" fill="#ff7f0e" fill-opacity="0.7" stroke="#ff7f0e" stroke-opacity="0.7" stroke-width="1.4"/>
<circle cx="1633.5" cy="530" r="4.6499999999999995" fill="#ff7f0e" fill-opacity="0.8" stroke="#ff7f0e" stroke-opacity="0.8" stroke-width="1.4"/>
<circle cx="1633.5" cy="533" r="4.6499999999999995" fill="#ff7f0e" fill-opacity="0.9" stroke="#ff7f0e" stroke-opacity="0.9" stroke-width="1.4"/>
<circle cx="1633.5" cy="535" r="4.6499999999999995" fill="#ff7f0e" fill-opacity="1.0" stroke="#ff7f0e" stroke-opacity="1.0" stroke-width="1.4"/>
<circle cx="1649.4" cy="519.5" r="4.6499999999999995" fill="#ff7f0e" fill-opacity="0.2" stroke="#ff7f0e" stroke-opacity="0.2" stroke-width="1.4"/>
<circle cx="1649.4" cy="523.5" r="4.6499999999999995" fill="#ff7f0e" fill-opacity="0.35" stroke="#ff7f0e" stroke-opacity="0.35" stroke-width="1.4"/>
<circle cx="1649.4" cy="524" r="4.6499999999999995" fill="#ff7f0e" fill-opacity="0.5" stroke="#ff7f0e" stroke-opacity="0.5" stroke-width="1.4"/>
<circle cx="1649.4" cy="525" r="4.6499999999999995" fill="#ff7f0e" fill-opacity="0.6" stroke="#ff7f0e" stroke-opacity="0.6" stroke-width="1.4"/>
<circle cx="1649.4" cy="527.7" r="4.6499999999999995" fill="#ff7f0e" fill-opacity="0.7" stroke="#ff7f0e" stroke-opacity="0.7" stroke-width="1.4"/>
<circle cx="1649.4" cy="530" r="4.6499999999999995" fill="#ff7f0e" fill-opacity="0.8" stroke="#ff7f0e" stroke-opacity="0.8" stroke-width="1.4"/>
<circle cx="1649.4" cy="533" r="4.6499999999999995" fill="#ff7f0e" fill-opacity="0.9" stroke="#ff7f0e" stroke-opacity="0.9" stroke-width="1.4"/>
<circle cx="1649.4" cy="535" r="4.6499999999999995" fill="#ff7f0e" fill-opacity="1.0" stroke="#ff7f0e" stroke-opacity="1.0" stroke-width="1.4"/>
<circle cx="1665.4" cy="520" r="4.6499999999999995" fill="#ff7f0e" fill-opacity="0.2" stroke="#ff7f0e" stroke-opacity="0.2" stroke-width="1.4"/>
<circle cx="1665.4" cy="526.8" r="4.6499999999999995" fill="#ff7f0e" fill-opacity="0.35" stroke="#ff7f0e" stroke-opacity="0.35" stroke-width="1.4"/>
<circle cx="1665.4" cy="527.5" r="4.6499999999999995" fill="#ff7f0e" fill-opacity="0.5" stroke="#ff7f0e" stroke-opacity="0.5" stroke-width="1.4"/>
<circle cx="1665.4" cy="529" r="4.6499999999999995" fill="#ff7f0e" fill-opacity="0.6" stroke="#ff7f0e" stroke-opacity="0.6" stroke-width="1.4"/>
<circle cx="1665.4" cy="530.5" r="4.6499999999999995" fill="#ff7f0e" fill-opacity="0.7" stroke="#ff7f0e" stroke-opacity="0.7" stroke-width="1.4"/>
<circle cx="1665.4" cy="532" r="4.6499999999999995" fill="#ff7f0e" fill-opacity="0.8" stroke="#ff7f0e" stroke-opacity="0.8" stroke-width="1.4"/>
<circle cx="1665.4" cy="533.5" r="4.6499999999999995" fill="#ff7f0e" fill-opacity="0.9" stroke="#ff7f0e" stroke-opacity="0.9" stroke-width="1.4"/>
<circle cx="1665.4" cy="535" r="4.6499999999999995" fill="#ff7f0e" fill-opacity="1.0" stroke="#ff7f0e" stroke-opacity="1.0" stroke-width="1.4"/>
<circle cx="1681.3" cy="520" r="4.6499999999999995" fill="#ff7f0e" fill-opacity="0.2" stroke="#ff7f0e" stroke-opacity="0.2" stroke-width="1.4"/>
<circle cx="1681.3" cy="526.8" r="4.6499999999999995" fill="#ff7f0e" fill-opacity="0.35" stroke="#ff7f0e" stroke-opacity="0.35" stroke-width="1.4"/>
<circle cx="1681.3" cy="527.5" r="4.6499999999999995" fill="#ff7f0e" fill-opacity="0.5" stroke="#ff7f0e" stroke-opacity="0.5" stroke-width="1.4"/>
<circle cx="1681.3" cy="529" r="4.6499999999999995" fill="#ff7f0e" fill-opacity="0.6" stroke="#ff7f0e" stroke-opacity="0.6" stroke-width="1.4"/>
<circle cx="1681.3" cy="530.5" r="4.6499999999999995" fill="#ff7f0e" fill-opacity="0.7" stroke="#ff7f0e" stroke-opacity="0.7" stroke-width="1.4"/>
<circle cx="1681.3" cy="532" r="4.6499999999999995" fill="#ff7f0e" fill-opacity="0.8" stroke="#ff7f0e" stroke-opacity="0.8" stroke-width="1.4"/>
<circle cx="1681.3" cy="533.5" r="4.6499999999999995" fill="#ff7f0e" fill-opacity="0.9" stroke="#ff7f0e" stroke-opacity="0.9" stroke-width="1.4"/>
<circle cx="1681.3" cy="535" r="4.6499999999999995" fill="#ff7f0e" fill-opacity="1.0" stroke="#ff7f0e" stroke-opacity="1.0" stroke-width="1.4"/>
<circle cx="1697.3" cy="520" r="4.6499999999999995" fill="#ff7f0e" fill-opacity="0.2" stroke="#ff7f0e" stroke-opacity="0.2" stroke-width="1.4"/>
<circle cx="1697.3" cy="526.8" r="4.6499999999999995" fill="#ff7f0e" fill-opacity="0.35" stroke="#ff7f0e" stroke-opacity="0.35" stroke-width="1.4"/>
<circle cx="1697.3" cy="527.5" r="4.6499999999999995" fill="#ff7f0e" fill-opacity="0.5" stroke="#ff7f0e" stroke-opacity="0.5" stroke-width="1.4"/>
<circle cx="1697.3" cy="529" r="4.6499999999999995" fill="#ff7f0e" fill-opacity="0.6" stroke="#ff7f0e" stroke-opacity="0.6" stroke-width="1.4"/>
<circle cx="1697.3" cy="530.5" r="4.6499999999999995" fill="#ff7f0e" fill-opacity="0.7" stroke="#ff7f0e" stroke-opacity="0.7" stroke-width="1.4"/>
<circle cx="1697.3" cy="532" r="4.6499999999999995" fill="#ff7f0e" fill-opacity="0.8" stroke="#ff7f0e" stroke-opacity="0.8" stroke-width="1.4"/>
<circle cx="1697.3" cy="533.5" r="4.6499999999999995" fill="#ff7f0e" fill-opacity="0.9" stroke="#ff7f0e" stroke-opacity="0.9" stroke-width="1.4"/>
<circle cx="1697.3" cy="535" r="4.6499999999999995" fill="#ff7f0e" fill-opacity="1.0" stroke="#ff7f0e" stroke-opacity="1.0" stroke-width="1.4"/>
<circle cx="1713.3" cy="520" r="4.6499999999999995" fill="#ff7f0e" fill-opacity="0.2" stroke="#ff7f0e" stroke-opacity="0.2" stroke-width="1.4"/>
<circle cx="1713.3" cy="526.8" r="4.6499999999999995" fill="#ff7f0e" fill-opacity="0.35" stroke="#ff7f0e" stroke-opacity="0.35" stroke-width="1.4"/>
<circle cx="1713.3" cy="527.5" r="4.6499999999999995" fill="#ff7f0e" fill-opacity="0.5" stroke="#ff7f0e" stroke-opacity="0.5" stroke-width="1.4"/>
<circle cx="1713.3" cy="529" r="4.6499999999999995" fill="#ff7f0e" fill-opacity="0.6" stroke="#ff7f0e" stroke-opacity="0.6" stroke-width="1.4"/>
<circle cx="1713.3" cy="530.5" r="4.6499999999999995" fill="#ff7f0e" fill-opacity="0.7" stroke="#ff7f0e" stroke-opacity="0.7" stroke-width="1.4"/>
<circle cx="1713.3" cy="532" r="4.6499999999999995" fill="#ff7f0e" fill-opacity="0.8" stroke="#ff7f0e" stroke-opacity="0.8" stroke-width="1.4"/>
<circle cx="1713.3" cy="533.5" r="4.6499999999999995" fill="#ff7f0e" fill-opacity="0.9" stroke="#ff7f0e" stroke-opacity="0.9" stroke-width="1.4"/>
<circle cx="1713.3" cy="535" r="4.6499999999999995" fill="#ff7f0e" fill-opacity="1.0" stroke="#ff7f0e" stroke-opacity="1.0" stroke-width="1.4"/>
<circle cx="1729.2" cy="520.5" r="4.6499999999999995" fill="#ff7f0e" fill-opacity="0.2" stroke="#ff7f0e" stroke-opacity="0.2" stroke-width="1.4"/>
<circle cx="1729.2" cy="527" r="4.6499999999999995" fill="#ff7f0e" fill-opacity="0.35" stroke="#ff7f0e" stroke-opacity="0.35" stroke-width="1.4"/>
<circle cx="1729.2" cy="527.5" r="4.6499999999999995" fill="#ff7f0e" fill-opacity="0.5" stroke="#ff7f0e" stroke-opacity="0.5" stroke-width="1.4"/>
<circle cx="1729.2" cy="529" r="4.6499999999999995" fill="#ff7f0e" fill-opacity="0.6" stroke="#ff7f0e" stroke-opacity="0.6" stroke-width="1.4"/>
<circle cx="1729.2" cy="530.5" r="4.6499999999999995" fill="#ff7f0e" fill-opacity="0.7" stroke="#ff7f0e" stroke-opacity="0.7" stroke-width="1.4"/>
<circle cx="1729.2" cy="532" r="4.6499999999999995" fill="#ff7f0e" fill-opacity="0.8" stroke="#ff7f0e" stroke-opacity="0.8" stroke-width="1.4"/>
<circle cx="1729.2" cy="533.5" r="4.6499999999999995" fill="#ff7f0e" fill-opacity="0.9" stroke="#ff7f0e" stroke-opacity="0.9" stroke-width="1.4"/>
<circle cx="1729.2" cy="535" r="4.6499999999999995" fill="#ff7f0e" fill-opacity="1.0" stroke="#ff7f0e" stroke-opacity="1.0" stroke-width="1.4"/>
<circle cx="1745.2" cy="520.5" r="4.6499999999999995" fill="#ff7f0e" fill-opacity="0.2" stroke="#ff7f0e" stroke-opacity="0.2" stroke-width="1.4"/>
<circle cx="1745.2" cy="527" r="4.6499999999999995" fill="#ff7f0e" fill-opacity="0.35" stroke="#ff7f0e" stroke-opacity="0.35" stroke-width="1.4"/>
<circle cx="1745.2" cy="527.5" r="4.6499999999999995" fill="#ff7f0e" fill-opacity="0.5" stroke="#ff7f0e" stroke-opacity="0.5" stroke-width="1.4"/>
<circle cx="1745.2" cy="529" r="4.6499999999999995" fill="#ff7f0e" fill-opacity="0.6" stroke="#ff7f0e" stroke-opacity="0.6" stroke-width="1.4"/>
<circle cx="1745.2" cy="530.5" r="4.6499999999999995" fill="#ff7f0e" fill-opacity="0.7" stroke="#ff7f0e" stroke-opacity="0.7" stroke-width="1.4"/>
<circle cx="1745.2" cy="532" r="4.6499999999999995" fill="#ff7f0e" fill-opacity="0.8" stroke="#ff7f0e" stroke-opacity="0.8" stroke-width="1.4"/>
<circle cx="1745.2" cy="533.5" r="4.6499999999999995" fill="#ff7f0e" fill-opacity="0.9" stroke="#ff7f0e" stroke-opacity="0.9" stroke-width="1.4"/>
<circle cx="1745.2" cy="535" r="4.6499999999999995" fill="#ff7f0e" fill-opacity="1.0" stroke="#ff7f0e" stroke-opacity="1.0" stroke-width="1.4"/>
<circle cx="1761.2" cy="520.5" r="4.6499999999999995" fill="#ff7f0e" fill-opacity="0.2" stroke="#ff7f0e" stroke-opacity="0.2" stroke-width="1.4"/>
<circle cx="1761.2" cy="527" r="4.6499999999999995" fill="#ff7f0e" fill-opacity="0.35" stroke="#ff7f0e" stroke-opacity="0.35" stroke-width="1.4"/>
<circle cx="1761.2" cy="527.5" r="4.6499999999999995" fill="#ff7f0e" fill-opacity="0.5" stroke="#ff7f0e" stroke-opacity="0.5" stroke-width="1.4"/>
<circle cx="1761.2" cy="529" r="4.6499999999999995" fill="#ff7f0e" fill-opacity="0.6" stroke="#ff7f0e" stroke-opacity="0.6" stroke-width="1.4"/>
<circle cx="1761.2" cy="530.5" r="4.6499999999999995" fill="#ff7f0e" fill-opacity="0.7" stroke="#ff7f0e" stroke-opacity="0.7" stroke-width="1.4"/>
<circle cx="1761.2" cy="532" r="4.6499999999999995" fill="#ff7f0e" fill-opacity="0.8" stroke="#ff7f0e" stroke-opacity="0.8" stroke-width="1.4"/>
<circle cx="1761.2" cy="533.5" r="4.6499999999999995" fill="#ff7f0e" fill-opacity="0.9" stroke="#ff7f0e" stroke-opacity="0.9" stroke-width="1.4"/>
<circle cx="1761.2" cy="535" r="4.6499999999999995" fill="#ff7f0e" fill-opacity="1.0" stroke="#ff7f0e" stroke-opacity="1.0" stroke-width="1.4"/>
<circle cx="1777.1" cy="526.5" r="4.6499999999999995" fill="#ff7f0e" fill-opacity="0.2" stroke="#ff7f0e" stroke-opacity="0.2" stroke-width="1.4"/>
<circle cx="1777.1" cy="527" r="4.6499999999999995" fill="#ff7f0e" fill-opacity="0.35" stroke="#ff7f0e" stroke-opacity="0.35" stroke-width="1.4"/>
<circle cx="1777.1" cy="527.8" r="4.6499999999999995" fill="#ff7f0e" fill-opacity="0.5" stroke="#ff7f0e" stroke-opacity="0.5" stroke-width="1.4"/>
<circle cx="1777.1" cy="529" r="4.6499999999999995" fill="#ff7f0e" fill-opacity="0.6" stroke="#ff7f0e" stroke-opacity="0.6" stroke-width="1.4"/>
<circle cx="1777.1" cy="530.5" r="4.6499999999999995" fill="#ff7f0e" fill-opacity="0.7" stroke="#ff7f0e" stroke-opacity="0.7" stroke-width="1.4"/>
<circle cx="1777.1" cy="532" r="4.6499999999999995" fill="#ff7f0e" fill-opacity="0.8" stroke="#ff7f0e" stroke-opacity="0.8" stroke-width="1.4"/>
<circle cx="1777.1" cy="533.5" r="4.6499999999999995" fill="#ff7f0e" fill-opacity="0.9" stroke="#ff7f0e" stroke-opacity="0.9" stroke-width="1.4"/>
<circle cx="1777.1" cy="535" r="4.6499999999999995" fill="#ff7f0e" fill-opacity="1.0" stroke="#ff7f0e" stroke-opacity="1.0" stroke-width="1.4"/>
<circle cx="1793.1" cy="526.5" r="4.6499999999999995" fill="#ff7f0e" fill-opacity="0.2" stroke="#ff7f0e" stroke-opacity="0.2" stroke-width="1.4"/>
<circle cx="1793.1" cy="527" r="4.6499999999999995" fill="#ff7f0e" fill-opacity="0.35" stroke="#ff7f0e" stroke-opacity="0.35" stroke-width="1.4"/>
<circle cx="1793.1" cy="527.8" r="4.6499999999999995" fill="#ff7f0e" fill-opacity="0.5" stroke="#ff7f0e" stroke-opacity="0.5" stroke-width="1.4"/>
<circle cx="1793.1" cy="529" r="4.6499999999999995" fill="#ff7f0e" fill-opacity="0.6" stroke="#ff7f0e" stroke-opacity="0.6" stroke-width="1.4"/>
<circle cx="1793.1" cy="530.5" r="4.6499999999999995" fill="#ff7f0e" fill-opacity="0.7" stroke="#ff7f0e" stroke-opacity="0.7" stroke-width="1.4"/>
<circle cx="1793.1" cy="532" r="4.6499999999999995" fill="#ff7f0e" fill-opacity="0.8" stroke="#ff7f0e" stroke-opacity="0.8" stroke-width="1.4"/>
<circle cx="1793.1" cy="533.5" r="4.6499999999999995" fill="#ff7f0e" fill-opacity="0.9" stroke="#ff7f0e" stroke-opacity="0.9" stroke-width="1.4"/>
<circle cx="1793.1" cy="535" r="4.6499999999999995" fill="#ff7f0e" fill-opacity="1.0" stroke="#ff7f0e" stroke-opacity="1.0" stroke-width="1.4"/>
<circle cx="1809.1" cy="526.5" r="4.6499999999999995" fill="#ff7f0e" fill-opacity="0.2" stroke="#ff7f0e" stroke-opacity="0.2" stroke-width="1.4"/>
<circle cx="1809.1" cy="527" r="4.6499999999999995" fill="#ff7f0e" fill-opacity="0.35" stroke="#ff7f0e" stroke-opacity="0.35" stroke-width="1.4"/>
<circle cx="1809.1" cy="527.8" r="4.6499999999999995" fill="#ff7f0e" fill-opacity="0.5" stroke="#ff7f0e" stroke-opacity="0.5" stroke-width="1.4"/>
<circle cx="1809.1" cy="529" r="4.6499999999999995" fill="#ff7f0e" fill-opacity="0.6" stroke="#ff7f0e" stroke-opacity="0.6" stroke-width="1.4"/>
<circle cx="1809.1" cy="530.5" r="4.6499999999999995" fill="#ff7f0e" fill-opacity="0.7" stroke="#ff7f0e" stroke-opacity="0.7" stroke-width="1.4"/>
<circle cx="1809.1" cy="532" r="4.6499999999999995" fill="#ff7f0e" fill-opacity="0.8" stroke="#ff7f0e" stroke-opacity="0.8" stroke-width="1.4"/>
<circle cx="1809.1" cy="533.5" r="4.6499999999999995" fill="#ff7f0e" fill-opacity="0.9" stroke="#ff7f0e" stroke-opacity="0.9" stroke-width="1.4"/>
<circle cx="1809.1" cy="535" r="4.6499999999999995" fill="#ff7f0e" fill-opacity="1.0" stroke="#ff7f0e" stroke-opacity="1.0" stroke-width="1.4"/>
<circle cx="1825" cy="526.5" r="4.6499999999999995" fill="#ff7f0e" fill-opacity="0.2" stroke="#ff7f0e" stroke-opacity="0.2" stroke-width="1.4"/>
<circle cx="1825" cy="527" r="4.6499999999999995" fill="#ff7f0e" fill-opacity="0.35" stroke="#ff7f0e" stroke-opacity="0.35" stroke-width="1.4"/>
<circle cx="1825" cy="527.8" r="4.6499999999999995" fill="#ff7f0e" fill-opacity="0.5" stroke="#ff7f0e" stroke-opacity="0.5" stroke-width="1.4"/>
<circle cx="1825" cy="529" r="4.6499999999999995" fill="#ff7f0e" fill-opacity="0.6" stroke="#ff7f0e" stroke-opacity="0.6" stroke-width="1.4"/>
<circle cx="1825" cy="530.5" r="4.6499999999999995" fill="#ff7f0e" fill-opacity="0.7" stroke="#ff7f0e" stroke-opacity="0.7" stroke-width="1.4"/>
<circle cx="1825" cy="532" r="4.6499999999999995" fill="#ff7f0e" fill-opacity="0.8" stroke="#ff7f0e" stroke-opacity="0.8" stroke-width="1.4"/>
<circle cx="1825" cy="533.5" r="4.6499999999999995" fill="#ff7f0e" fill-opacity="0.9" stroke="#ff7f0e" stroke-opacity="0.9" stroke-width="1.4"/>
<circle cx="1825" cy="535" r="4.6499999999999995" fill="#ff7f0e" fill-opacity="1.0" stroke="#ff7f0e" stroke-opacity="1.0" stroke-width="1.4"/>
<circle cx="1841" cy="528" r="4.6499999999999995" fill="#ff7f0e" fill-opacity="0.2" stroke="#ff7f0e" stroke-opacity="0.2" stroke-width="1.4"/>
<circle cx="1841" cy="528.5" r="4.6499999999999995" fill="#ff7f0e" fill-opacity="0.35" stroke="#ff7f0e" stroke-opacity="0.35" stroke-width="1.4"/>
<circle cx="1841" cy="529" r="4.6499999999999995" fill="#ff7f0e" fill-opacity="0.5" stroke="#ff7f0e" stroke-opacity="0.5" stroke-width="1.4"/>
<circle cx="1841" cy="530" r="4.6499999999999995" fill="#ff7f0e" fill-opacity="0.6" stroke="#ff7f0e" stroke-opacity="0.6" stroke-width="1.4"/>
<circle cx="1841" cy="531" r="4.6499999999999995" fill="#ff7f0e" fill-opacity="0.7" stroke="#ff7f0e" stroke-opacity="0.7" stroke-width="1.4"/>
<circle cx="1841" cy="532.5" r="4.6499999999999995" fill="#ff7f0e" fill-opacity="0.8" stroke="#ff7f0e" stroke-opacity="0.8" stroke-width="1.4"/>
<circle cx="1841" cy="534" r="4.6499999999999995" fill="#ff7f0e" fill-opacity="0.9" stroke="#ff7f0e" stroke-opacity="0.9" stroke-width="1.4"/>
<circle cx="1841" cy="535.3" r="4.6499999999999995" fill="#ff7f0e" fill-opacity="1.0" stroke="#ff7f0e" stroke-opacity="1.0" stroke-width="1.4"/>
<circle cx="1857" cy="528" r="4.6499999999999995" fill="#ff7f0e" fill-opacity="0.2" stroke="#ff7f0e" stroke-opacity="0.2" stroke-width="1.4"/>
<circle cx="1857" cy="528.5" r="4.6499999999999995" fill="#ff7f0e" fill-opacity="0.35" stroke="#ff7f0e" stroke-opacity="0.35" stroke-width="1.4"/>
<circle cx="1857" cy="529" r="4.6499999999999995" fill="#ff7f0e" fill-opacity="0.5" stroke="#ff7f0e" stroke-opacity="0.5" stroke-width="1.4"/>
<circle cx="1857" cy="530" r="4.6499999999999995" fill="#ff7f0e" fill-opacity="0.6" stroke="#ff7f0e" stroke-opacity="0.6" stroke-width="1.4"/>
<circle cx="1857" cy="531" r="4.6499999999999995" fill="#ff7f0e" fill-opacity="0.7" stroke="#ff7f0e" stroke-opacity="0.7" stroke-width="1.4"/>
<circle cx="1857" cy="532.5" r="4.6499999999999995" fill="#ff7f0e" fill-opacity="0.8" stroke="#ff7f0e" stroke-opacity="0.8" stroke-width="1.4"/>
<circle cx="1857" cy="534" r="4.6499999999999995" fill="#ff7f0e" fill-opacity="0.9" stroke="#ff7f0e" stroke-opacity="0.9" stroke-width="1.4"/>
<circle cx="1857" cy="535.3" r="4.6499999999999995" fill="#ff7f0e" fill-opacity="1.0" stroke="#ff7f0e" stroke-opacity="1.0" stroke-width="1.4"/>
<circle cx="1872.9" cy="528" r="4.6499999999999995" fill="#ff7f0e" fill-opacity="0.2" stroke="#ff7f0e" stroke-opacity="0.2" stroke-width="1.4"/>
<circle cx="1872.9" cy="528.5" r="4.6499999999999995" fill="#ff7f0e" fill-opacity="0.35" stroke="#ff7f0e" stroke-opacity="0.35" stroke-width="1.4"/>
<circle cx="1872.9" cy="529" r="4.6499999999999995" fill="#ff7f0e" fill-opacity="0.5" stroke="#ff7f0e" stroke-opacity="0.5" stroke-width="1.4"/>
<circle cx="1872.9" cy="530" r="4.6499999999999995" fill="#ff7f0e" fill-opacity="0.6" stroke="#ff7f0e" stroke-opacity="0.6" stroke-width="1.4"/>
<circle cx="1872.9" cy="531" r="4.6499999999999995" fill="#ff7f0e" fill-opacity="0.7" stroke="#ff7f0e" stroke-opacity="0.7" stroke-width="1.4"/>
<circle cx="1872.9" cy="532.5" r="4.6499999999999995" fill="#ff7f0e" fill-opacity="0.8" stroke="#ff7f0e" stroke-opacity="0.8" stroke-width="1.4"/>
<circle cx="1872.9" cy="534" r="4.6499999999999995" fill="#ff7f0e" fill-opacity="0.9" stroke="#ff7f0e" stroke-opacity="0.9" stroke-width="1.4"/>
<circle cx="1872.9" cy="535.3" r="4.6499999999999995" fill="#ff7f0e" fill-opacity="1.0" stroke="#ff7f0e" stroke-opacity="1.0" stroke-width="1.4"/>
<circle cx="1888.9" cy="528" r="4.6499999999999995" fill="#ff7f0e" fill-opacity="0.2" stroke="#ff7f0e" stroke-opacity="0.2" stroke-width="1.4"/>
<circle cx="1888.9" cy="528.5" r="4.6499999999999995" fill="#ff7f0e" fill-opacity="0.35" stroke="#ff7f0e" stroke-opacity="0.35" stroke-width="1.4"/>
<circle cx="1888.9" cy="529" r="4.6499999999999995" fill="#ff7f0e" fill-opacity="0.5" stroke="#ff7f0e" stroke-opacity="0.5" stroke-width="1.4"/>
<circle cx="1888.9" cy="530" r="4.6499999999999995" fill="#ff7f0e" fill-opacity="0.6" stroke="#ff7f0e" stroke-opacity="0.6" stroke-width="1.4"/>
<circle cx="1888.9" cy="531" r="4.6499999999999995" fill="#ff7f0e" fill-opacity="0.7" stroke="#ff7f0e" stroke-opacity="0.7" stroke-width="1.4"/>
<circle cx="1888.9" cy="532.5" r="4.6499999999999995" fill="#ff7f0e" fill-opacity="0.8" stroke="#ff7f0e" stroke-opacity="0.8" stroke-width="1.4"/>
<circle cx="1888.9" cy="534" r="4.6499999999999995" fill="#ff7f0e" fill-opacity="0.9" stroke="#ff7f0e" stroke-opacity="0.9" stroke-width="1.4"/>
<circle cx="1888.9" cy="535.3" r="4.6499999999999995" fill="#ff7f0e" fill-opacity="1.0" stroke="#ff7f0e" stroke-opacity="1.0" stroke-width="1.4"/>
<circle cx="1904.9" cy="528" r="4.6499999999999995" fill="#ff7f0e" fill-opacity="0.2" stroke="#ff7f0e" stroke-opacity="0.2" stroke-width="1.4"/>
<circle cx="1904.9" cy="528.5" r="4.6499999999999995" fill="#ff7f0e" fill-opacity="0.35" stroke="#ff7f0e" stroke-opacity="0.35" stroke-width="1.4"/>
<circle cx="1904.9" cy="529" r="4.6499999999999995" fill="#ff7f0e" fill-opacity="0.5" stroke="#ff7f0e" stroke-opacity="0.5" stroke-width="1.4"/>
<circle cx="1904.9" cy="530" r="4.6499999999999995" fill="#ff7f0e" fill-opacity="0.6" stroke="#ff7f0e" stroke-opacity="0.6" stroke-width="1.4"/>
<circle cx="1904.9" cy="531" r="4.6499999999999995" fill="#ff7f0e" fill-opacity="0.7" stroke="#ff7f0e" stroke-opacity="0.7" stroke-width="1.4"/>
<circle cx="1904.9" cy="532.5" r="4.6499999999999995" fill="#ff7f0e" fill-opacity="0.8" stroke="#ff7f0e" stroke-opacity="0.8" stroke-width="1.4"/>
<circle cx="1904.9" cy="534" r="4.6499999999999995" fill="#ff7f0e" fill-opacity="0.9" stroke="#ff7f0e" stroke-opacity="0.9" stroke-width="1.4"/>
<circle cx="1904.9" cy="535.3" r="4.6499999999999995" fill="#ff7f0e" fill-opacity="1.0" stroke="#ff7f0e" stroke-opacity="1.0" stroke-width="1.4"/>
<circle cx="1920.8" cy="528" r="4.6499999999999995" fill="#ff7f0e" fill-opacity="0.2" stroke="#ff7f0e" stroke-opacity="0.2" stroke-width="1.4"/>
<circle cx="1920.8" cy="528.5" r="4.6499999999999995" fill="#ff7f0e" fill-opacity="0.35" stroke="#ff7f0e" stroke-opacity="0.35" stroke-width="1.4"/>
<circle cx="1920.8" cy="529" r="4.6499999999999995" fill="#ff7f0e" fill-opacity="0.5" stroke="#ff7f0e" stroke-opacity="0.5" stroke-width="1.4"/>
<circle cx="1920.8" cy="530" r="4.6499999999999995" fill="#ff7f0e" fill-opacity="0.6" stroke="#ff7f0e" stroke-opacity="0.6" stroke-width="1.4"/>
<circle cx="1920.8" cy="531" r="4.6499999999999995" fill="#ff7f0e" fill-opacity="0.7" stroke="#ff7f0e" stroke-opacity="0.7" stroke-width="1.4"/>
<circle cx="1920.8" cy="532.5" r="4.6499999999999995" fill="#ff7f0e" fill-opacity="0.8" stroke="#ff7f0e" stroke-opacity="0.8" stroke-width="1.4"/>
<circle cx="1920.8" cy="534" r="4.6499999999999995" fill="#ff7f0e" fill-opacity="0.9" stroke="#ff7f0e" stroke-opacity="0.9" stroke-width="1.4"/>
<circle cx="1920.8" cy="535.3" r="4.6499999999999995" fill="#ff7f0e" fill-opacity="1.0" stroke="#ff7f0e" stroke-opacity="1.0" stroke-width="1.4"/>
<circle cx="1936.8" cy="528" r="4.6499999999999995" fill="#ff7f0e" fill-opacity="0.2" stroke="#ff7f0e" stroke-opacity="0.2" stroke-width="1.4"/>
<circle cx="1936.8" cy="528.5" r="4.6499999999999995" fill="#ff7f0e" fill-opacity="0.35" stroke="#ff7f0e" stroke-opacity="0.35" stroke-width="1.4"/>
<circle cx="1936.8" cy="529" r="4.6499999999999995" fill="#ff7f0e" fill-opacity="0.5" stroke="#ff7f0e" stroke-opacity="0.5" stroke-width="1.4"/>
<circle cx="1936.8" cy="530" r="4.6499999999999995" fill="#ff7f0e" fill-opacity="0.6" stroke="#ff7f0e" stroke-opacity="0.6" stroke-width="1.4"/>
<circle cx="1936.8" cy="531" r="4.6499999999999995" fill="#ff7f0e" fill-opacity="0.7" stroke="#ff7f0e" stroke-opacity="0.7" stroke-width="1.4"/>
<circle cx="1936.8" cy="532.5" r="4.6499999999999995" fill="#ff7f0e" fill-opacity="0.8" stroke="#ff7f0e" stroke-opacity="0.8" stroke-width="1.4"/>
<circle cx="1936.8" cy="534" r="4.6499999999999995" fill="#ff7f0e" fill-opacity="0.9" stroke="#ff7f0e" stroke-opacity="0.9" stroke-width="1.4"/>
<circle cx="1936.8" cy="535.3" r="4.6499999999999995" fill="#ff7f0e" fill-opacity="1.0" stroke="#ff7f0e" stroke-opacity="1.0" stroke-width="1.4"/>
</g>
<path d="M1115.5,13.6H1976.2V556.1H1852V554.7H1115.5Z" fill="none" stroke="#000" stroke-width="2" stroke-linejoin="miter"/>
<line x1="1851" y1="554.7" x2="1853" y2="556.1" stroke="#000" stroke-width="2"/>
<line x1="1154.5" y1="554.7" x2="1154.5" y2="561" stroke="#000" stroke-width="1.6"/>
<text x="1154.5" y="584.1" text-anchor="middle" class="tk">0</text>
<line x1="1186.4" y1="554.7" x2="1186.4" y2="561" stroke="#000" stroke-width="1.6"/>
<text x="1186.4" y="584.1" text-anchor="middle" class="tk">2</text>
<line x1="1218.4" y1="554.7" x2="1218.4" y2="561" stroke="#000" stroke-width="1.6"/>
<text x="1218.4" y="584.1" text-anchor="middle" class="tk">4</text>
<line x1="1250.3" y1="554.7" x2="1250.3" y2="561" stroke="#000" stroke-width="1.6"/>
<text x="1250.3" y="584.1" text-anchor="middle" class="tk">6</text>
<line x1="1282.2" y1="554.7" x2="1282.2" y2="561" stroke="#000" stroke-width="1.6"/>
<text x="1282.2" y="584.1" text-anchor="middle" class="tk">8</text>
<line x1="1314.2" y1="554.7" x2="1314.2" y2="561" stroke="#000" stroke-width="1.6"/>
<text transform="translate(1314.2,584.1) scale(0.955,1)" text-anchor="middle" class="tk">10</text>
<line x1="1346.1" y1="554.7" x2="1346.1" y2="561" stroke="#000" stroke-width="1.6"/>
<text transform="translate(1346.1,584.1) scale(0.955,1)" text-anchor="middle" class="tk">12</text>
<line x1="1378" y1="554.7" x2="1378" y2="561" stroke="#000" stroke-width="1.6"/>
<text transform="translate(1378,584.1) scale(0.955,1)" text-anchor="middle" class="tk">14</text>
<line x1="1409.9" y1="554.7" x2="1409.9" y2="561" stroke="#000" stroke-width="1.6"/>
<text transform="translate(1409.9,584.1) scale(0.955,1)" text-anchor="middle" class="tk">16</text>
<line x1="1441.9" y1="554.7" x2="1441.9" y2="561" stroke="#000" stroke-width="1.6"/>
<text transform="translate(1441.9,584.1) scale(0.955,1)" text-anchor="middle" class="tk">18</text>
<line x1="1473.8" y1="554.7" x2="1473.8" y2="561" stroke="#000" stroke-width="1.6"/>
<text transform="translate(1473.8,584.1) scale(0.955,1)" text-anchor="middle" class="tk">20</text>
<line x1="1505.7" y1="554.7" x2="1505.7" y2="561" stroke="#000" stroke-width="1.6"/>
<text transform="translate(1505.7,584.1) scale(0.955,1)" text-anchor="middle" class="tk">22</text>
<line x1="1537.7" y1="554.7" x2="1537.7" y2="561" stroke="#000" stroke-width="1.6"/>
<text transform="translate(1537.7,584.1) scale(0.955,1)" text-anchor="middle" class="tk">24</text>
<line x1="1569.6" y1="554.7" x2="1569.6" y2="561" stroke="#000" stroke-width="1.6"/>
<text transform="translate(1569.6,584.1) scale(0.955,1)" text-anchor="middle" class="tk">26</text>
<line x1="1601.5" y1="554.7" x2="1601.5" y2="561" stroke="#000" stroke-width="1.6"/>
<text transform="translate(1601.5,584.1) scale(0.955,1)" text-anchor="middle" class="tk">28</text>
<line x1="1633.5" y1="554.7" x2="1633.5" y2="561" stroke="#000" stroke-width="1.6"/>
<text transform="translate(1633.5,584.1) scale(0.955,1)" text-anchor="middle" class="tk">30</text>
<line x1="1665.4" y1="554.7" x2="1665.4" y2="561" stroke="#000" stroke-width="1.6"/>
<text transform="translate(1665.4,584.1) scale(0.955,1)" text-anchor="middle" class="tk">32</text>
<line x1="1697.3" y1="554.7" x2="1697.3" y2="561" stroke="#000" stroke-width="1.6"/>
<text transform="translate(1697.3,584.1) scale(0.955,1)" text-anchor="middle" class="tk">34</text>
<line x1="1729.2" y1="554.7" x2="1729.2" y2="561" stroke="#000" stroke-width="1.6"/>
<text transform="translate(1729.2,584.1) scale(0.955,1)" text-anchor="middle" class="tk">36</text>
<line x1="1761.2" y1="554.7" x2="1761.2" y2="561" stroke="#000" stroke-width="1.6"/>
<text transform="translate(1761.2,584.1) scale(0.955,1)" text-anchor="middle" class="tk">38</text>
<line x1="1793.1" y1="554.7" x2="1793.1" y2="561" stroke="#000" stroke-width="1.6"/>
<text transform="translate(1793.1,584.1) scale(0.955,1)" text-anchor="middle" class="tk">40</text>
<line x1="1825" y1="554.7" x2="1825" y2="561" stroke="#000" stroke-width="1.6"/>
<text transform="translate(1825,584.1) scale(0.955,1)" text-anchor="middle" class="tk">42</text>
<line x1="1857" y1="556.1" x2="1857" y2="562.4" stroke="#000" stroke-width="1.6"/>
<text transform="translate(1857,584.1) scale(0.955,1)" text-anchor="middle" class="tk">44</text>
<line x1="1888.9" y1="556.1" x2="1888.9" y2="562.4" stroke="#000" stroke-width="1.6"/>
<text transform="translate(1888.9,584.1) scale(0.955,1)" text-anchor="middle" class="tk">46</text>
<line x1="1920.8" y1="556.1" x2="1920.8" y2="562.4" stroke="#000" stroke-width="1.6"/>
<text transform="translate(1920.8,584.1) scale(0.955,1)" text-anchor="middle" class="tk">48</text>
<line x1="1109.5" y1="555.7" x2="1115.5" y2="555.7" stroke="#000" stroke-width="1.6"/>
<line x1="1112.2" y1="518.1" x2="1115.5" y2="518.1" stroke="#000" stroke-width="1.2"/>
<line x1="1112.2" y1="487.4" x2="1115.5" y2="487.4" stroke="#000" stroke-width="1.2"/>
<line x1="1112.2" y1="461.5" x2="1115.5" y2="461.5" stroke="#000" stroke-width="1.2"/>
<line x1="1112.2" y1="439" x2="1115.5" y2="439" stroke="#000" stroke-width="1.2"/>
<line x1="1112.2" y1="419.1" x2="1115.5" y2="419.1" stroke="#000" stroke-width="1.2"/>
<line x1="1109.5" y1="401.4" x2="1115.5" y2="401.4" stroke="#000" stroke-width="1.6"/>
<line x1="1112.2" y1="284.7" x2="1115.5" y2="284.7" stroke="#000" stroke-width="1.2"/>
<line x1="1112.2" y1="216.4" x2="1115.5" y2="216.4" stroke="#000" stroke-width="1.2"/>
<line x1="1112.2" y1="167.9" x2="1115.5" y2="167.9" stroke="#000" stroke-width="1.2"/>
<line x1="1112.2" y1="130.3" x2="1115.5" y2="130.3" stroke="#000" stroke-width="1.2"/>
<line x1="1112.2" y1="99.6" x2="1115.5" y2="99.6" stroke="#000" stroke-width="1.2"/>
<line x1="1112.2" y1="73.7" x2="1115.5" y2="73.7" stroke="#000" stroke-width="1.2"/>
<line x1="1112.2" y1="51.2" x2="1115.5" y2="51.2" stroke="#000" stroke-width="1.2"/>
<line x1="1112.2" y1="31.3" x2="1115.5" y2="31.3" stroke="#000" stroke-width="1.2"/>
<line x1="1109.5" y1="13.6" x2="1115.5" y2="13.6" stroke="#000" stroke-width="1.6"/>
<text x="1094.5" y="22.8" text-anchor="end" class="tk">10</text><text x="1095" y="12.8" class="tks">2</text>
<text x="1106" y="409.7" text-anchor="end" class="tk">10</text>
<text x="1106" y="564" text-anchor="end" class="tk">4</text>
<text x="1546" y="621.1" text-anchor="middle" class="lab">Iteration</text>
<text transform="translate(1049.8,284.5) rotate(-90)" text-anchor="middle" class="lab">Cost (a.u.)</text>
<text x="1540.7" y="667.3" text-anchor="middle" class="cap">(b)</text>
<rect x="1734.6" y="25.6" width="229.7" height="148.8" rx="4" ry="4" fill="#fff" fill-opacity="0.8" stroke="#cccccc" stroke-opacity="0.9" stroke-width="1.3"/>
<line x1="1743.4" y1="45.2" x2="1793.6" y2="45.2" stroke="#1f77b4" stroke-width="2.6"/>
<circle cx="1768.5" cy="45.2" r="5.45" fill="#1f77b4"/>
<rect x="1743.9" y="72.6" width="49.2" height="16.6" fill="#808080" fill-opacity="0.215" stroke="#808080" stroke-opacity="0.215" stroke-width="1.3"/>
<rect x="1743.9" y="107.6" width="49.2" height="17" fill="#1f77b4" fill-opacity="0.2" stroke="#1f77b4" stroke-opacity="0.2" stroke-width="1.3"/>
<circle cx="1768.5" cy="153.2" r="5.35" fill="#ff7f0e"/>
<text x="1812.8" y="54.2" class="lg">mean</text>
<text x="1812.8" y="89.3" class="lg">range</text>
<text x="1812.8" y="124.7" class="lg">mean + std</text>
<text x="1812.8" y="160.4" class="lg">g8best(i)</text>
</svg></body></html>
